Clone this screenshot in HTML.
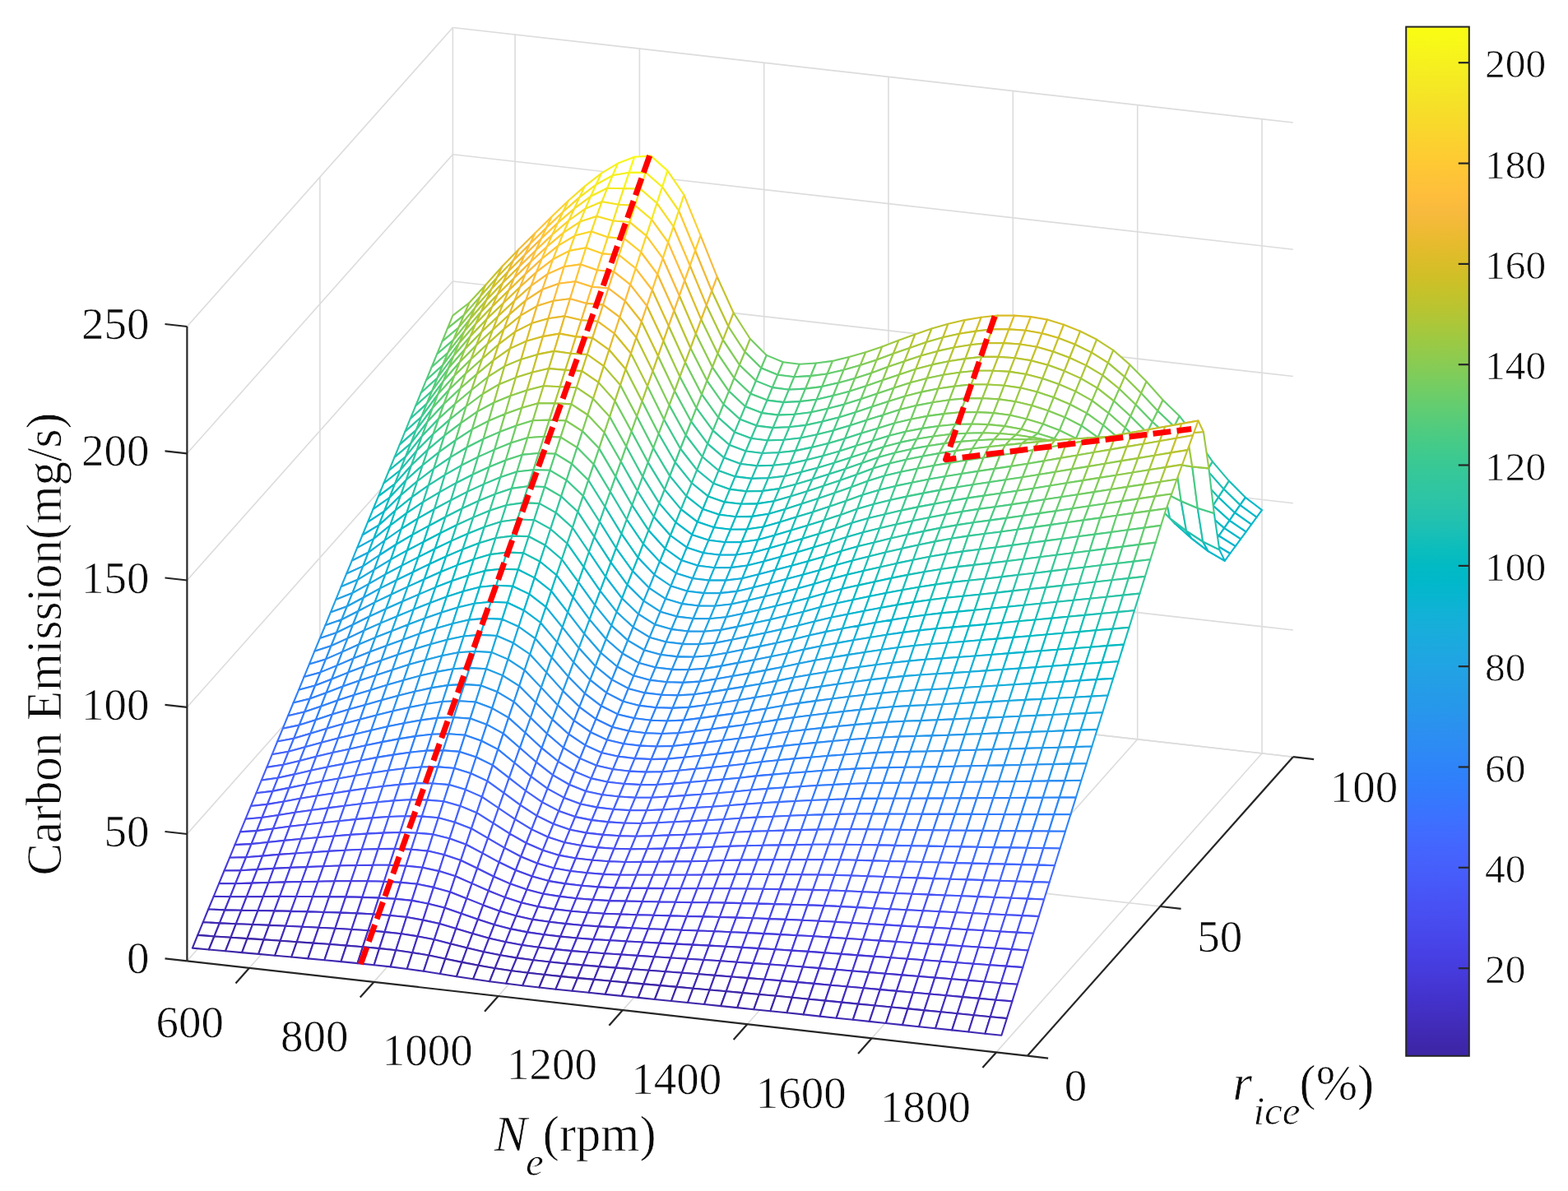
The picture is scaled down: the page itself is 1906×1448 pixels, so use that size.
<!DOCTYPE html>
<html><head><meta charset="utf-8"><title>Carbon Emission surface</title>
<style>
html,body{margin:0;padding:0;background:#fff}
svg{display:block}
.g{stroke:#dcdcdc;stroke-width:1.6;fill:none}
.a{stroke:#262626;stroke-width:2.2;fill:none}
#S path{fill:#fff;stroke-width:2.1;stroke-linejoin:round}
.c0{stroke:#3e26a8}
.c1{stroke:#402ab4}
.c2{stroke:#422ec0}
.c3{stroke:#4332cb}
.c4{stroke:#4537d5}
.c5{stroke:#463cde}
.c6{stroke:#4741e5}
.c7{stroke:#4747eb}
.c8{stroke:#484df0}
.c9{stroke:#4852f4}
.c10{stroke:#4758f8}
.c11{stroke:#465efb}
.c12{stroke:#4563fd}
.c13{stroke:#4269fe}
.c14{stroke:#3e6fff}
.c15{stroke:#3875fe}
.c16{stroke:#327cfc}
.c17{stroke:#2f81fa}
.c18{stroke:#2e87f7}
.c19{stroke:#2d8cf3}
.c20{stroke:#2b91ef}
.c21{stroke:#2797eb}
.c22{stroke:#259be8}
.c23{stroke:#23a0e5}
.c24{stroke:#20a5e3}
.c25{stroke:#1ca9df}
.c26{stroke:#18addb}
.c27{stroke:#12b1d6}
.c28{stroke:#08b5d0}
.c29{stroke:#01b8ca}
.c30{stroke:#02bac3}
.c31{stroke:#0bbdbd}
.c32{stroke:#19bfb6}
.c33{stroke:#24c1ae}
.c34{stroke:#2cc4a7}
.c35{stroke:#31c69f}
.c36{stroke:#37c897}
.c37{stroke:#3fca8e}
.c38{stroke:#4acb84}
.c39{stroke:#57cc7a}
.c40{stroke:#64cd6f}
.c41{stroke:#72cd64}
.c42{stroke:#81cc59}
.c43{stroke:#8fcb4e}
.c44{stroke:#9dc943}
.c45{stroke:#abc739}
.c46{stroke:#b9c431}
.c47{stroke:#c5c22a}
.c48{stroke:#d1bf27}
.c49{stroke:#dcbd29}
.c50{stroke:#e6bb2d}
.c51{stroke:#f0ba36}
.c52{stroke:#f8ba3d}
.c53{stroke:#febe3c}
.c54{stroke:#fec338}
.c55{stroke:#fec934}
.c56{stroke:#fccf30}
.c57{stroke:#fad62d}
.c58{stroke:#f7dc2a}
.c59{stroke:#f5e327}
.c60{stroke:#f5e924}
.c61{stroke:#f6ef20}
.c62{stroke:#f7f51b}
.c63{stroke:#f9fb15}
.tl{font-family:"Liberation Serif","Times New Roman",serif;font-size:55px;fill:#0a0a0a;stroke:#fff;stroke-width:0.7px}
.cl{font-family:"Liberation Serif","Times New Roman",serif;font-size:49.5px;fill:#0a0a0a;stroke:#fff;stroke-width:0.7px}
.lb{font-family:"Liberation Serif","Times New Roman",serif;font-size:60.5px;fill:#0a0a0a;stroke:#fff;stroke-width:0.7px}
.red{fill:none;stroke:#ff0000;stroke-width:7;stroke-dasharray:21.8 7.4;stroke-linejoin:round}
</style></head><body>
<svg xmlns="http://www.w3.org/2000/svg" width="1906" height="1448" viewBox="0 0 1906 1448">
<defs><linearGradient id="pg" x1="0" y1="0" x2="0" y2="1"><stop offset="0.0078" stop-color="#f9fb15"/><stop offset="0.0234" stop-color="#f7f51b"/><stop offset="0.0391" stop-color="#f6ef20"/><stop offset="0.0547" stop-color="#f5e924"/><stop offset="0.0703" stop-color="#f5e327"/><stop offset="0.0859" stop-color="#f7dc2a"/><stop offset="0.1016" stop-color="#fad62d"/><stop offset="0.1172" stop-color="#fccf30"/><stop offset="0.1328" stop-color="#fec934"/><stop offset="0.1484" stop-color="#fec338"/><stop offset="0.1641" stop-color="#febe3c"/><stop offset="0.1797" stop-color="#f8ba3d"/><stop offset="0.1953" stop-color="#f0ba36"/><stop offset="0.2109" stop-color="#e6bb2d"/><stop offset="0.2266" stop-color="#dcbd29"/><stop offset="0.2422" stop-color="#d1bf27"/><stop offset="0.2578" stop-color="#c5c22a"/><stop offset="0.2734" stop-color="#b9c431"/><stop offset="0.2891" stop-color="#abc739"/><stop offset="0.3047" stop-color="#9dc943"/><stop offset="0.3203" stop-color="#8fcb4e"/><stop offset="0.3359" stop-color="#81cc59"/><stop offset="0.3516" stop-color="#72cd64"/><stop offset="0.3672" stop-color="#64cd6f"/><stop offset="0.3828" stop-color="#57cc7a"/><stop offset="0.3984" stop-color="#4acb84"/><stop offset="0.4141" stop-color="#3fca8e"/><stop offset="0.4297" stop-color="#37c897"/><stop offset="0.4453" stop-color="#31c69f"/><stop offset="0.4609" stop-color="#2cc4a7"/><stop offset="0.4766" stop-color="#24c1ae"/><stop offset="0.4922" stop-color="#19bfb6"/><stop offset="0.5078" stop-color="#0bbdbd"/><stop offset="0.5234" stop-color="#02bac3"/><stop offset="0.5391" stop-color="#01b8ca"/><stop offset="0.5547" stop-color="#08b5d0"/><stop offset="0.5703" stop-color="#12b1d6"/><stop offset="0.5859" stop-color="#18addb"/><stop offset="0.6016" stop-color="#1ca9df"/><stop offset="0.6172" stop-color="#20a5e3"/><stop offset="0.6328" stop-color="#23a0e5"/><stop offset="0.6484" stop-color="#259be8"/><stop offset="0.6641" stop-color="#2797eb"/><stop offset="0.6797" stop-color="#2b91ef"/><stop offset="0.6953" stop-color="#2d8cf3"/><stop offset="0.7109" stop-color="#2e87f7"/><stop offset="0.7266" stop-color="#2f81fa"/><stop offset="0.7422" stop-color="#327cfc"/><stop offset="0.7578" stop-color="#3875fe"/><stop offset="0.7734" stop-color="#3e6fff"/><stop offset="0.7891" stop-color="#4269fe"/><stop offset="0.8047" stop-color="#4563fd"/><stop offset="0.8203" stop-color="#465efb"/><stop offset="0.8359" stop-color="#4758f8"/><stop offset="0.8516" stop-color="#4852f4"/><stop offset="0.8672" stop-color="#484df0"/><stop offset="0.8828" stop-color="#4747eb"/><stop offset="0.8984" stop-color="#4741e5"/><stop offset="0.9141" stop-color="#463cde"/><stop offset="0.9297" stop-color="#4537d5"/><stop offset="0.9453" stop-color="#4332cb"/><stop offset="0.9609" stop-color="#422ec0"/><stop offset="0.9766" stop-color="#402ab4"/><stop offset="0.9922" stop-color="#3e26a8"/></linearGradient></defs>
<rect width="1906" height="1448" fill="#fff"/>
<g id="G"><line class="g" x1="626.1" y1="813.3" x2="626.1" y2="42.1"/><line class="g" x1="303.1" y1="1176.8" x2="626.1" y2="813.3"/><line class="g" x1="777.4" y1="830.4" x2="777.4" y2="59.2"/><line class="g" x1="454.4" y1="1193.9" x2="777.4" y2="830.4"/><line class="g" x1="928.7" y1="847.5" x2="928.7" y2="76.3"/><line class="g" x1="605.7" y1="1211" x2="928.7" y2="847.5"/><line class="g" x1="1080" y1="864.6" x2="1080" y2="93.4"/><line class="g" x1="757" y1="1228.1" x2="1080" y2="864.6"/><line class="g" x1="1231.3" y1="881.7" x2="1231.3" y2="110.5"/><line class="g" x1="908.3" y1="1245.2" x2="1231.3" y2="881.7"/><line class="g" x1="1382.7" y1="898.8" x2="1382.7" y2="127.6"/><line class="g" x1="1059.7" y1="1262.3" x2="1382.7" y2="898.8"/><line class="g" x1="1534" y1="915.9" x2="1534" y2="144.7"/><line class="g" x1="1211" y1="1279.4" x2="1534" y2="915.9"/><line class="g" x1="550.4" y1="804.8" x2="1571.8" y2="920.2"/><line class="g" x1="227.4" y1="1168.3" x2="550.4" y2="804.8"/><line class="g" x1="550.4" y1="650.5" x2="1571.8" y2="766"/><line class="g" x1="227.4" y1="1014" x2="550.4" y2="650.5"/><line class="g" x1="550.4" y1="496.3" x2="1571.8" y2="611.7"/><line class="g" x1="227.4" y1="859.8" x2="550.4" y2="496.3"/><line class="g" x1="550.4" y1="342" x2="1571.8" y2="457.5"/><line class="g" x1="227.4" y1="705.5" x2="550.4" y2="342"/><line class="g" x1="550.4" y1="187.8" x2="1571.8" y2="303.2"/><line class="g" x1="227.4" y1="551.3" x2="550.4" y2="187.8"/><line class="g" x1="550.4" y1="33.5" x2="1571.8" y2="149"/><line class="g" x1="227.4" y1="397" x2="550.4" y2="33.5"/><line class="g" x1="388.9" y1="986.5" x2="388.9" y2="215.3"/><line class="g" x1="388.9" y1="986.5" x2="1410.3" y2="1102"/><line class="g" x1="550.4" y1="804.8" x2="550.4" y2="33.5"/><line class="g" x1="550.4" y1="804.8" x2="1571.8" y2="920.2"/></g>
<g id="S"><path class="c42" d="M543.9 399.4L564 383.1L570.5 368L550.4 383.7z"/><path class="c44" d="M564 383.1L584.1 360.1L590.5 346.2L570.5 368z"/><path class="c41" d="M537.5 415.1L557.6 398.2L564 383.1L543.9 399.4z"/><path class="c47" d="M584.1 360.1L604.2 337.4L610.6 323.8L590.5 346.2z"/><path class="c43" d="M557.6 398.2L577.6 374.1L584.1 360.1L564 383.1z"/><path class="c40" d="M531 430.8L551.1 413.4L557.6 398.2L537.5 415.1z"/><path class="c49" d="M604.2 337.4L624.2 316.4L630.7 302.9L610.6 323.8z"/><path class="c46" d="M577.6 374.1L597.7 351.1L604.2 337.4L584.1 360.1z"/><path class="c43" d="M551.1 413.4L571.2 388.2L577.6 374.1L557.6 398.2z"/><path class="c39" d="M524.6 446.5L544.6 428.7L551.1 413.4L531 430.8z"/><path class="c51" d="M624.2 316.4L644.3 296.5L650.8 283L630.7 302.9z"/><path class="c48" d="M597.7 351.1L617.8 330L624.2 316.4L604.2 337.4z"/><path class="c45" d="M571.2 388.2L591.2 365L597.7 351.1L577.6 374.1z"/><path class="c42" d="M544.6 428.7L564.7 402.6L571.2 388.2L551.1 413.4z"/><path class="c39" d="M518.1 462.2L538.2 444L544.6 428.7L524.6 446.5z"/><path class="c54" d="M644.3 296.5L664.4 276.7L670.8 263.2L650.8 283z"/><path class="c51" d="M617.8 330L637.8 310.1L644.3 296.5L624.2 316.4z"/><path class="c48" d="M591.2 365L611.3 343.8L617.8 330L597.7 351.1z"/><path class="c45" d="M564.7 402.6L584.8 379.2L591.2 365L571.2 388.2z"/><path class="c41" d="M538.2 444L558.2 417.2L564.7 402.6L544.6 428.7z"/><path class="c38" d="M511.6 477.8L531.7 459.5L538.2 444L518.1 462.2z"/><path class="c56" d="M664.4 276.7L684.5 257.5L690.9 244L670.8 263.2z"/><path class="c53" d="M637.8 310.1L657.9 290.3L664.4 276.7L644.3 296.5z"/><path class="c50" d="M611.3 343.8L631.4 324L637.8 310.1L617.8 330z"/><path class="c47" d="M584.8 379.2L604.9 358L611.3 343.8L591.2 365z"/><path class="c40" d="M531.7 459.5L551.8 432.2L558.2 417.2L538.2 444z"/><path class="c44" d="M558.2 417.2L578.3 393.7L584.8 379.2L564.7 402.6z"/><path class="c37" d="M505.2 493.5L525.3 475.2L531.7 459.5L511.6 477.8z"/><path class="c58" d="M684.5 257.5L704.5 239.9L711 226.4L690.9 244z"/><path class="c55" d="M657.9 290.3L678 271.1L684.5 257.5L664.4 276.7z"/><path class="c41" d="M905.3 427.8L925.3 447.5L931.8 431.9L911.7 411.8z"/><path class="c40" d="M925.3 447.5L945.4 455.7L951.9 440.2L931.8 431.9z"/><path class="c52" d="M631.4 324L651.5 304.3L657.9 290.3L637.8 310.1z"/><path class="c44" d="M885.2 396.7L905.3 427.8L911.7 411.8L891.6 380.2z"/><path class="c49" d="M604.9 358L624.9 338.3L631.4 324L611.3 343.8z"/><path class="c46" d="M578.3 393.7L598.4 372.7L604.9 358L584.8 379.2z"/><path class="c40" d="M945.4 455.7L965.5 458.2L971.9 442.7L951.9 440.2z"/><path class="c39" d="M525.3 475.2L545.3 447.5L551.8 432.2L531.7 459.5z"/><path class="c36" d="M498.7 509.2L518.8 490.9L525.3 475.2L505.2 493.5z"/><path class="c43" d="M551.8 432.2L571.9 408.7L578.3 393.7L558.2 417.2z"/><path class="c60" d="M704.5 239.9L724.6 224.5L731.1 210.7L711 226.4z"/><path class="c47" d="M865.1 353.7L885.2 396.7L891.6 380.2L871.6 336.3z"/><path class="c40" d="M965.5 458.2L985.5 457.1L992 441.5L971.9 442.7z"/><path class="c57" d="M678 271.1L698.1 253.7L704.5 239.9L684.5 257.5z"/><path class="c40" d="M898.8 443.7L918.9 463.1L925.3 447.5L905.3 427.8z"/><path class="c54" d="M651.5 304.3L671.5 285.2L678 271.1L657.9 290.3z"/><path class="c39" d="M918.9 463.1L938.9 471.1L945.4 455.7L925.3 447.5z"/><path class="c52" d="M624.9 338.3L645 318.6L651.5 304.3L631.4 324z"/><path class="c43" d="M878.7 413.2L898.8 443.7L905.3 427.8L885.2 396.7z"/><path class="c40" d="M985.5 457.1L1005.6 454.5L1012.1 438.9L992 441.5z"/><path class="c49" d="M598.4 372.7L618.5 353.1L624.9 338.3L604.9 358z"/><path class="c52" d="M845 304.5L865.1 353.7L871.6 336.3L851.5 286.2z"/><path class="c61" d="M724.6 224.5L744.7 213.3L751.1 198.6L731.1 210.7z"/><path class="c39" d="M938.9 471.1L959 473.7L965.5 458.2L945.4 455.7z"/><path class="c46" d="M571.9 408.7L591.9 387.8L598.4 372.7L578.3 393.7z"/><path class="c39" d="M518.8 490.9L538.9 463.3L545.3 447.5L525.3 475.2z"/><path class="c35" d="M492.3 524.9L512.3 506.8L518.8 490.9L498.7 509.2z"/><path class="c42" d="M545.3 447.5L565.4 424.2L571.9 408.7L551.8 432.2z"/><path class="c46" d="M858.6 371.1L878.7 413.2L885.2 396.7L865.1 353.7z"/><path class="c59" d="M698.1 253.7L718.1 238.8L724.6 224.5L704.5 239.9z"/><path class="c41" d="M1005.6 454.5L1025.7 449.7L1032.1 434L1012.1 438.9z"/><path class="c39" d="M959 473.7L979.1 472.6L985.5 457.1L965.5 458.2z"/><path class="c57" d="M671.5 285.2L691.6 268L698.1 253.7L678 271.1z"/><path class="c40" d="M892.3 459.7L912.4 478.7L918.9 463.1L898.8 443.7z"/><path class="c62" d="M744.7 213.3L764.7 209.9L771.2 190.8L751.1 198.6z"/><path class="c54" d="M645 318.6L665.1 299.7L671.5 285.2L651.5 304.3z"/><path class="c56" d="M825 256.2L845 304.5L851.5 286.2L831.4 236.9z"/><path class="c38" d="M912.4 478.7L932.5 486.6L938.9 471.1L918.9 463.1z"/><path class="c42" d="M872.3 429.8L892.3 459.7L898.8 443.7L878.7 413.2z"/><path class="c51" d="M618.5 353.1L638.5 333.6L645 318.6L624.9 338.3z"/><path class="c40" d="M979.1 472.6L999.2 470.1L1005.6 454.5L985.5 457.1z"/><path class="c51" d="M838.6 322.9L858.6 371.1L865.1 353.7L845 304.5z"/><path class="c48" d="M591.9 387.8L612 368.4L618.5 353.1L598.4 372.7z"/><path class="c42" d="M1025.7 449.7L1045.8 444.1L1052.2 428.3L1032.1 434z"/><path class="c38" d="M932.5 486.6L952.6 489.1L959 473.7L938.9 471.1z"/><path class="c61" d="M718.1 238.8L738.2 228.8L744.7 213.3L724.6 224.5z"/><path class="c45" d="M565.4 424.2L585.5 403.5L591.9 387.8L571.9 408.7z"/><path class="c38" d="M512.3 506.8L532.4 479.4L538.9 463.3L518.8 490.9z"/><path class="c34" d="M485.8 540.6L505.9 522.9L512.3 506.8L492.3 524.9z"/><path class="c41" d="M538.9 463.3L558.9 440.2L565.4 424.2L545.3 447.5z"/><path class="c63" d="M764.7 209.9L784.8 209.7L791.3 189.6L771.2 190.8z"/><path class="c45" d="M852.2 388.4L872.3 429.8L878.7 413.2L858.6 371.1z"/><path class="c60" d="M804.9 227.2L825 256.2L831.4 236.9L811.3 207.4z"/><path class="c58" d="M691.6 268L711.7 253.7L718.1 238.8L698.1 253.7z"/><path class="c62" d="M784.8 209.7L804.9 227.2L811.3 207.4L791.3 189.6z"/><path class="c40" d="M999.2 470.1L1019.2 465.4L1025.7 449.7L1005.6 454.5z"/><path class="c38" d="M952.6 489.1L972.6 488.1L979.1 472.6L959 473.7z"/><path class="c56" d="M665.1 299.7L685.1 282.9L691.6 268L671.5 285.2z"/><path class="c43" d="M1045.8 444.1L1065.8 437.4L1072.3 421.4L1052.2 428.3z"/><path class="c61" d="M738.2 228.8L758.3 229.2L764.7 209.9L744.7 213.3z"/><path class="c39" d="M885.9 475.6L905.9 494.3L912.4 478.7L892.3 459.7z"/><path class="c55" d="M818.5 275.5L838.6 322.9L845 304.5L825 256.2z"/><path class="c53" d="M638.5 333.6L658.6 314.8L665.1 299.7L645 318.6z"/><path class="c38" d="M905.9 494.3L926 502.1L932.5 486.6L912.4 478.7z"/><path class="c41" d="M865.8 446.3L885.9 475.6L892.3 459.7L872.3 429.8z"/><path class="c50" d="M612 368.4L632.1 349.1L638.5 333.6L618.5 353.1z"/><path class="c50" d="M832.1 341.2L852.2 388.4L858.6 371.1L838.6 322.9z"/><path class="c39" d="M972.6 488.1L992.7 485.7L999.2 470.1L979.1 472.6z"/><path class="c47" d="M585.5 403.5L605.5 384.4L612 368.4L591.9 387.8z"/><path class="c41" d="M1019.2 465.4L1039.3 459.9L1045.8 444.1L1025.7 449.7z"/><path class="c37" d="M505.9 522.9L525.9 496L532.4 479.4L512.3 506.8z"/><path class="c44" d="M558.9 440.2L579 419.8L585.5 403.5L565.4 424.2z"/><path class="c37" d="M926 502.1L946.1 504.6L952.6 489.1L932.5 486.6z"/><path class="c60" d="M711.7 253.7L731.7 245.3L738.2 228.8L718.1 238.8z"/><path class="c62" d="M758.3 229.2L778.4 229.8L784.8 209.7L764.7 209.9z"/><path class="c33" d="M479.3 556.3L499.4 539.1L505.9 522.9L485.8 540.6z"/><path class="c40" d="M532.4 479.4L552.5 456.7L558.9 440.2L538.9 463.3z"/><path class="c59" d="M798.4 247L818.5 275.5L825 256.2L804.9 227.2z"/><path class="c44" d="M1065.8 437.4L1085.9 430L1092.4 413.8L1072.3 421.4z"/><path class="c44" d="M845.7 405.8L865.8 446.3L872.3 429.8L852.2 388.4z"/><path class="c61" d="M778.4 229.8L798.4 247L804.9 227.2L784.8 209.7z"/><path class="c58" d="M685.1 282.9L705.2 269.6L711.7 253.7L691.6 268z"/><path class="c39" d="M992.7 485.7L1012.8 481.1L1019.2 465.4L999.2 470.1z"/><path class="c37" d="M946.1 504.6L966.2 503.7L972.6 488.1L952.6 489.1z"/><path class="c42" d="M1039.3 459.9L1059.4 453.4L1065.8 437.4L1045.8 444.1z"/><path class="c60" d="M731.7 245.3L751.8 248.7L758.3 229.2L738.2 228.8z"/><path class="c55" d="M658.6 314.8L678.7 298.6L685.1 282.9L665.1 299.7z"/><path class="c54" d="M812 294.7L832.1 341.2L838.6 322.9L818.5 275.5z"/><path class="c38" d="M879.4 491.5L899.5 509.8L905.9 494.3L885.9 475.6z"/><path class="c52" d="M632.1 349.1L652.2 330.7L658.6 314.8L638.5 333.6z"/><path class="c37" d="M899.5 509.8L919.6 517.6L926 502.1L905.9 494.3z"/><path class="c45" d="M1085.9 430L1106 422.9L1112.4 406.6L1092.4 413.8z"/><path class="c40" d="M859.3 462.8L879.4 491.5L885.9 475.6L865.8 446.3z"/><path class="c49" d="M825.7 359.5L845.7 405.8L852.2 388.4L832.1 341.2z"/><path class="c49" d="M605.5 384.4L625.6 365.4L632.1 349.1L612 368.4z"/><path class="c38" d="M966.2 503.7L986.2 501.3L992.7 485.7L972.6 488.1z"/><path class="c46" d="M579 419.8L599.1 401L605.5 384.4L585.5 403.5z"/><path class="c60" d="M751.8 248.7L771.9 249.9L778.4 229.8L758.3 229.2z"/><path class="c40" d="M1012.8 481.1L1032.8 475.7L1039.3 459.9L1019.2 465.4z"/><path class="c36" d="M499.4 539.1L519.5 512.9L525.9 496L505.9 522.9z"/><path class="c43" d="M552.5 456.7L572.6 436.7L579 419.8L558.9 440.2z"/><path class="c59" d="M705.2 269.6L725.3 262.9L731.7 245.3L711.7 253.7z"/><path class="c37" d="M919.6 517.6L939.6 520.1L946.1 504.6L926 502.1z"/><path class="c33" d="M472.9 572L493 555.4L499.4 539.1L479.3 556.3z"/><path class="c40" d="M525.9 496L546 473.8L552.5 456.7L532.4 479.4z"/><path class="c58" d="M792 266.8L812 294.7L818.5 275.5L798.4 247z"/><path class="c43" d="M1059.4 453.4L1079.4 446.1L1085.9 430L1065.8 437.4z"/><path class="c43" d="M839.3 423.2L859.3 462.8L865.8 446.3L845.7 405.8z"/><path class="c60" d="M771.9 249.9L792 266.8L798.4 247L778.4 229.8z"/><path class="c57" d="M678.7 298.6L698.8 286.6L705.2 269.6L685.1 282.9z"/><path class="c46" d="M1106 422.9L1126.1 415.9L1132.5 399.5L1112.4 406.6z"/><path class="c38" d="M986.2 501.3L1006.3 496.8L1012.8 481.1L992.7 485.7z"/><path class="c37" d="M939.6 520.1L959.7 519.2L966.2 503.7L946.1 504.6z"/><path class="c59" d="M725.3 262.9L745.4 268.5L751.8 248.7L731.7 245.3z"/><path class="c53" d="M805.6 314L825.7 359.5L832.1 341.2L812 294.7z"/><path class="c41" d="M1032.8 475.7L1052.9 469.3L1059.4 453.4L1039.3 459.9z"/><path class="c54" d="M652.2 330.7L672.2 315.3L678.7 298.6L658.6 314.8z"/><path class="c37" d="M873 507.5L893 525.4L899.5 509.8L879.4 491.5z"/><path class="c51" d="M625.6 365.4L645.7 347.5L652.2 330.7L632.1 349.1z"/><path class="c36" d="M893 525.4L913.1 533L919.6 517.6L899.5 509.8z"/><path class="c44" d="M1079.4 446.1L1099.5 439.2L1106 422.9L1085.9 430z"/><path class="c39" d="M852.9 479.4L873 507.5L879.4 491.5L859.3 462.8z"/><path class="c47" d="M819.2 377.8L839.3 423.2L845.7 405.8L825.7 359.5z"/><path class="c48" d="M599.1 401L619.2 382.4L625.6 365.4L605.5 384.4z"/><path class="c59" d="M745.4 268.5L765.4 270.1L771.9 249.9L751.8 248.7z"/><path class="c45" d="M572.6 436.7L592.6 418.3L599.1 401L579 419.8z"/><path class="c37" d="M959.7 519.2L979.8 516.9L986.2 501.3L966.2 503.7z"/><path class="c46" d="M1126.1 415.9L1146.1 410.3L1152.6 393.7L1132.5 399.5z"/><path class="c56" d="M785.5 286.6L805.6 314L812 294.7L792 266.8z"/><path class="c39" d="M1006.3 496.8L1026.4 491.6L1032.8 475.7L1012.8 481.1z"/><path class="c42" d="M546 473.8L566.1 454.2L572.6 436.7L552.5 456.7z"/><path class="c35" d="M493 555.4L513 530.2L519.5 512.9L499.4 539.1z"/><path class="c58" d="M698.8 286.6L718.8 281.6L725.3 262.9L705.2 269.6z"/><path class="c39" d="M519.5 512.9L539.6 491.3L546 473.8L525.9 496z"/><path class="c32" d="M466.4 587.7L486.5 571.8L493 555.4L472.9 572z"/><path class="c36" d="M913.1 533L933.2 535.5L939.6 520.1L919.6 517.6z"/><path class="c59" d="M765.4 270.1L785.5 286.6L792 266.8L771.9 249.9z"/><path class="c42" d="M1052.9 469.3L1073 462.3L1079.4 446.1L1059.4 453.4z"/><path class="c42" d="M832.8 440.5L852.9 479.4L859.3 462.8L839.3 423.2z"/><path class="c56" d="M672.2 315.3L692.3 304.9L698.8 286.6L678.7 298.6z"/><path class="c45" d="M1099.5 439.2L1119.6 432.4L1126.1 415.9L1106 422.9z"/><path class="c58" d="M718.8 281.6L738.9 288.4L745.4 268.5L725.3 262.9z"/><path class="c38" d="M979.8 516.9L999.8 512.5L1006.3 496.8L986.2 501.3z"/><path class="c52" d="M799.1 333.3L819.2 377.8L825.7 359.5L805.6 314z"/><path class="c36" d="M933.2 535.5L953.2 534.7L959.7 519.2L939.6 520.1z"/><path class="c47" d="M1146.1 410.3L1166.2 405.8L1172.7 389.1L1152.6 393.7z"/><path class="c53" d="M645.7 347.5L665.8 333.1L672.2 315.3L652.2 330.7z"/><path class="c40" d="M1026.4 491.6L1046.5 485.3L1052.9 469.3L1032.8 475.7z"/><path class="c36" d="M866.5 523.4L886.6 541L893 525.4L873 507.5z"/><path class="c50" d="M619.2 382.4L639.2 365.1L645.7 347.5L625.6 365.4z"/><path class="c46" d="M812.7 396.2L832.8 440.5L839.3 423.2L819.2 377.8z"/><path class="c43" d="M1073 462.3L1093.1 455.5L1099.5 439.2L1079.4 446.1z"/><path class="c38" d="M846.4 495.9L866.5 523.4L873 507.5L852.9 479.4z"/><path class="c35" d="M886.6 541L906.6 548.5L913.1 533L893 525.4z"/><path class="c58" d="M738.9 288.4L759 290.2L765.4 270.1L745.4 268.5z"/><path class="c47" d="M592.6 418.3L612.7 400.1L619.2 382.4L599.1 401z"/><path class="c55" d="M779 306.5L799.1 333.3L805.6 314L785.5 286.6z"/><path class="c44" d="M566.1 454.2L586.2 436.3L592.6 418.3L572.6 436.7z"/><path class="c45" d="M1119.6 432.4L1139.7 426.9L1146.1 410.3L1126.1 415.9z"/><path class="c36" d="M953.2 534.7L973.3 532.5L979.8 516.9L959.7 519.2z"/><path class="c57" d="M692.3 304.9L712.4 301.2L718.8 281.6L698.8 286.6z"/><path class="c41" d="M539.6 491.3L559.6 472.3L566.1 454.2L546 473.8z"/><path class="c34" d="M486.5 571.8L506.6 547.8L513 530.2L493 555.4z"/><path class="c57" d="M759 290.2L779 306.5L785.5 286.6L765.4 270.1z"/><path class="c38" d="M999.8 512.5L1019.9 507.4L1026.4 491.6L1006.3 496.8z"/><path class="c38" d="M513 530.2L533.1 509.3L539.6 491.3L519.5 512.9z"/><path class="c48" d="M1166.2 405.8L1186.3 402.6L1192.7 385.8L1172.7 389.1z"/><path class="c31" d="M460 603.4L480 588.4L486.5 571.8L466.4 587.7z"/><path class="c35" d="M906.6 548.5L926.7 551L933.2 535.5L913.1 533z"/><path class="c41" d="M826.3 457.9L846.4 495.9L852.9 479.4L832.8 440.5z"/><path class="c41" d="M1046.5 485.3L1066.5 478.4L1073 462.3L1052.9 469.3z"/><path class="c55" d="M665.8 333.1L685.8 324.3L692.3 304.9L672.2 315.3z"/><path class="c44" d="M1093.1 455.5L1113.1 448.8L1119.6 432.4L1099.5 439.2z"/><path class="c57" d="M712.4 301.2L732.4 308.4L738.9 288.4L718.8 281.6z"/><path class="c51" d="M792.7 352.5L812.7 396.2L819.2 377.8L799.1 333.3z"/><path class="c37" d="M973.3 532.5L993.4 528.2L999.8 512.5L979.8 516.9z"/><path class="c35" d="M926.7 551L946.8 550.3L953.2 534.7L933.2 535.5z"/><path class="c46" d="M1139.7 426.9L1159.7 422.5L1166.2 405.8L1146.1 410.3z"/><path class="c52" d="M639.2 365.1L659.3 352L665.8 333.1L645.7 347.5z"/><path class="c48" d="M1186.3 402.6L1206.3 400.3L1212.8 383.5L1192.7 385.8z"/><path class="c39" d="M1019.9 507.4L1040 501.3L1046.5 485.3L1026.4 491.6z"/><path class="c35" d="M860 539.4L880.1 556.6L886.6 541L866.5 523.4z"/><path class="c49" d="M612.7 400.1L632.8 383.7L639.2 365.1L619.2 382.4z"/><path class="c57" d="M732.4 308.4L752.5 310.3L759 290.2L738.9 288.4z"/><path class="c45" d="M806.3 414.5L826.3 457.9L832.8 440.5L812.7 396.2z"/><path class="c42" d="M1066.5 478.4L1086.6 471.8L1093.1 455.5L1073 462.3z"/><path class="c37" d="M840 512.4L860 539.4L866.5 523.4L846.4 495.9z"/><path class="c46" d="M586.2 436.3L606.2 418.7L612.7 400.1L592.6 418.3z"/><path class="c34" d="M880.1 556.6L900.2 564L906.6 548.5L886.6 541z"/><path class="c54" d="M772.6 326.3L792.7 352.5L799.1 333.3L779 306.5z"/><path class="c43" d="M559.6 472.3L579.7 454.9L586.2 436.3L566.1 454.2z"/><path class="c56" d="M685.8 324.3L705.9 321.4L712.4 301.2L692.3 304.9z"/><path class="c56" d="M752.5 310.3L772.6 326.3L779 306.5L759 290.2z"/><path class="c40" d="M533.1 509.3L553.2 491L559.6 472.3L539.6 491.3z"/><path class="c45" d="M1113.1 448.8L1133.2 443.4L1139.7 426.9L1119.6 432.4z"/><path class="c35" d="M946.8 550.3L966.9 548.1L973.3 532.5L953.2 534.7z"/><path class="c33" d="M480 588.4L500.1 565.7L506.6 547.8L486.5 571.8z"/><path class="c36" d="M506.6 547.8L526.6 527.8L533.1 509.3L513 530.2z"/><path class="c49" d="M1206.3 400.3L1226.4 400.4L1232.9 383.6L1212.8 383.5z"/><path class="c37" d="M993.4 528.2L1013.5 523.2L1019.9 507.4L999.8 512.5z"/><path class="c47" d="M1159.7 422.5L1179.8 419.3L1186.3 402.6L1166.2 405.8z"/><path class="c30" d="M453.5 619.1L473.6 605L480 588.4L460 603.4z"/><path class="c34" d="M900.2 564L920.3 566.4L926.7 551L906.6 548.5z"/><path class="c40" d="M819.9 475.3L840 512.4L846.4 495.9L826.3 457.9z"/><path class="c40" d="M1040 501.3L1060.1 494.6L1066.5 478.4L1046.5 485.3z"/><path class="c53" d="M659.3 352L679.4 344.7L685.8 324.3L665.8 333.1z"/><path class="c56" d="M705.9 321.4L726 328.5L732.4 308.4L712.4 301.2z"/><path class="c49" d="M786.2 371.8L806.3 414.5L812.7 396.2L792.7 352.5z"/><path class="c43" d="M1086.6 471.8L1106.7 465.3L1113.1 448.8L1093.1 455.5z"/><path class="c49" d="M1226.4 400.4L1246.5 401.8L1253 385.1L1232.9 383.6z"/><path class="c51" d="M632.8 383.7L652.8 372.1L659.3 352L639.2 365.1z"/><path class="c36" d="M966.9 548.1L986.9 543.9L993.4 528.2L973.3 532.5z"/><path class="c45" d="M1133.2 443.4L1153.3 439.2L1159.7 422.5L1139.7 426.9z"/><path class="c34" d="M920.3 566.4L940.3 565.8L946.8 550.3L926.7 551z"/><path class="c47" d="M1179.8 419.3L1199.9 417.1L1206.3 400.3L1186.3 402.6z"/><path class="c38" d="M1013.5 523.2L1033.5 517.3L1040 501.3L1019.9 507.4z"/><path class="c55" d="M726 328.5L746.1 330.4L752.5 310.3L732.4 308.4z"/><path class="c48" d="M606.2 418.7L626.3 403.4L632.8 383.7L612.7 400.1z"/><path class="c44" d="M799.8 432.8L819.9 475.3L826.3 457.9L806.3 414.5z"/><path class="c34" d="M853.6 555.3L873.6 572.2L880.1 556.6L860 539.4z"/><path class="c45" d="M579.7 454.9L599.8 438.1L606.2 418.7L586.2 436.3z"/><path class="c53" d="M766.1 346.1L786.2 371.8L792.7 352.5L772.6 326.3z"/><path class="c41" d="M1060.1 494.6L1080.1 488.1L1086.6 471.8L1066.5 478.4z"/><path class="c36" d="M833.5 529L853.6 555.3L860 539.4L840 512.4z"/><path class="c54" d="M679.4 344.7L699.4 342.2L705.9 321.4L685.8 324.3z"/><path class="c49" d="M1246.5 401.8L1266.6 405.2L1273 388.6L1253 385.1z"/><path class="c42" d="M553.2 491L573.2 474.2L579.7 454.9L559.6 472.3z"/><path class="c33" d="M873.6 572.2L893.7 579.4L900.2 564L880.1 556.6z"/><path class="c55" d="M746.1 330.4L766.1 346.1L772.6 326.3L752.5 310.3z"/><path class="c39" d="M526.6 527.8L546.7 510.1L553.2 491L533.1 509.3z"/><path class="c35" d="M500.1 565.7L520.2 546.6L526.6 527.8L506.6 547.8z"/><path class="c44" d="M1106.7 465.3L1126.7 460L1133.2 443.4L1113.1 448.8z"/><path class="c32" d="M473.6 605L493.6 583.8L500.1 565.7L480 588.4z"/><path class="c35" d="M940.3 565.8L960.4 563.6L966.9 548.1L946.8 550.3z"/><path class="c48" d="M1199.9 417.1L1220 417.1L1226.4 400.4L1206.3 400.3z"/><path class="c46" d="M1153.3 439.2L1173.4 436.1L1179.8 419.3L1159.7 422.5z"/><path class="c37" d="M986.9 543.9L1007 539L1013.5 523.2L993.4 528.2z"/><path class="c31" d="M1487.4 594.6L1507.4 614.1L1513.9 604.8L1493.8 584.6z"/><path class="c29" d="M1507.4 614.1L1527.5 628.9L1534 620.1L1513.9 604.8z"/><path class="c29" d="M447 634.8L467.1 621.7L473.6 605L453.5 619.1z"/><path class="c39" d="M813.4 492.6L833.5 529L840 512.4L819.9 475.3z"/><path class="c48" d="M1266.6 405.2L1286.6 411.1L1293.1 394.7L1273 388.6z"/><path class="c33" d="M1467.3 571.9L1487.4 594.6L1493.8 584.6L1473.8 561.1z"/><path class="c33" d="M893.7 579.4L913.8 581.9L920.3 566.4L900.2 564z"/><path class="c52" d="M652.8 372.1L672.9 365.8L679.4 344.7L659.3 352z"/><path class="c39" d="M1033.5 517.3L1053.6 510.7L1060.1 494.6L1040 501.3z"/><path class="c54" d="M699.4 342.2L719.5 348.7L726 328.5L705.9 321.4z"/><path class="c48" d="M779.7 391L799.8 432.8L806.3 414.5L786.2 371.8z"/><path class="c35" d="M1447.2 543.5L1467.3 571.9L1473.8 561.1L1453.7 531.7z"/><path class="c42" d="M1080.1 488.1L1100.2 481.7L1106.7 465.3L1086.6 471.8z"/><path class="c48" d="M1286.6 411.1L1306.7 418.8L1313.2 402.7L1293.1 394.7z"/><path class="c50" d="M626.3 403.4L646.4 393.1L652.8 372.1L632.8 383.7z"/><path class="c48" d="M1220 417.1L1240 418.5L1246.5 401.8L1226.4 400.4z"/><path class="c44" d="M1126.7 460L1146.8 455.8L1153.3 439.2L1133.2 443.4z"/><path class="c35" d="M960.4 563.6L980.5 559.2L986.9 543.9L966.9 548.1z"/><path class="c54" d="M719.5 348.7L739.6 350.5L746.1 330.4L726 328.5z"/><path class="c46" d="M1173.4 436.1L1193.4 433.9L1199.9 417.1L1179.8 419.3z"/><path class="c33" d="M913.8 581.9L933.9 581.3L940.3 565.8L920.3 566.4z"/><path class="c47" d="M599.8 438.1L619.9 423.9L626.3 403.4L606.2 418.7z"/><path class="c38" d="M1427.1 518.4L1447.2 543.5L1453.7 531.7L1433.6 505.7z"/><path class="c37" d="M1007 539L1027.1 533.2L1033.5 517.3L1013.5 523.2z"/><path class="c47" d="M1306.7 418.8L1326.8 428.6L1333.2 412.8L1313.2 402.7z"/><path class="c43" d="M793.4 451.1L813.4 492.6L819.9 475.3L799.8 432.8z"/><path class="c44" d="M573.2 474.2L593.3 458.2L599.8 438.1L579.7 454.9z"/><path class="c40" d="M1407.1 499.5L1427.1 518.4L1433.6 505.7L1413.5 486.2z"/><path class="c52" d="M759.7 365.9L779.7 391L786.2 371.8L766.1 346.1z"/><path class="c53" d="M672.9 365.8L693 363.2L699.4 342.2L679.4 344.7z"/><path class="c34" d="M847.1 571.3L867.2 587.8L873.6 572.2L853.6 555.3z"/><path class="c42" d="M1387 477.9L1407.1 499.5L1413.5 486.2L1393.5 463.8z"/><path class="c53" d="M739.6 350.5L759.7 365.9L766.1 346.1L746.1 330.4z"/><path class="c41" d="M546.7 510.1L566.8 494L573.2 474.2L553.2 491z"/><path class="c46" d="M1326.8 428.6L1346.9 441.1L1353.3 425.8L1333.2 412.8z"/><path class="c40" d="M1053.6 510.7L1073.7 504.4L1080.1 488.1L1060.1 494.6z"/><path class="c36" d="M827 545.5L847.1 571.3L853.6 555.3L833.5 529z"/><path class="c48" d="M1240 418.5L1260.1 421.8L1266.6 405.2L1246.5 401.8z"/><path class="c43" d="M1366.9 458.1L1387 477.9L1393.5 463.8L1373.4 443.4z"/><path class="c37" d="M520.2 546.6L540.3 529.7L546.7 510.1L526.6 527.8z"/><path class="c45" d="M1346.9 441.1L1366.9 458.1L1373.4 443.4L1353.3 425.8z"/><path class="c33" d="M867.2 587.8L887.3 594.9L893.7 579.4L873.6 572.2z"/><path class="c34" d="M493.6 583.8L513.7 565.7L520.2 546.6L500.1 565.7z"/><path class="c31" d="M467.1 621.7L487.2 602.1L493.6 583.8L473.6 605z"/><path class="c43" d="M1100.2 481.7L1120.3 476.6L1126.7 460L1106.7 465.3z"/><path class="c47" d="M1193.4 433.9L1213.5 433.9L1220 417.1L1199.9 417.1z"/><path class="c34" d="M933.9 581.3L953.9 578.9L960.4 563.6L940.3 565.8z"/><path class="c45" d="M1146.8 455.8L1166.9 452.8L1173.4 436.1L1153.3 439.2z"/><path class="c51" d="M646.4 393.1L666.5 387.3L672.9 365.8L652.8 372.1z"/><path class="c36" d="M980.5 559.2L1000.5 554.2L1007 539L986.9 543.9z"/><path class="c53" d="M693 363.2L713.1 368.9L719.5 348.7L699.4 342.2z"/><path class="c28" d="M440.6 650.5L460.7 638.4L467.1 621.7L447 634.8z"/><path class="c38" d="M807 510L827 545.5L833.5 529L813.4 492.6z"/><path class="c48" d="M1260.1 421.8L1280.2 427.4L1286.6 411.1L1266.6 405.2z"/><path class="c32" d="M887.3 594.9L907.3 597.4L913.8 581.9L893.7 579.4z"/><path class="c38" d="M1027.1 533.2L1047.1 526.8L1053.6 510.7L1033.5 517.3z"/><path class="c31" d="M1480.9 604.6L1501 623.4L1507.4 614.1L1487.4 594.6z"/><path class="c47" d="M773.3 410.3L793.4 451.1L799.8 432.8L779.7 391z"/><path class="c29" d="M1501 623.4L1521.1 637.7L1527.5 628.9L1507.4 614.1z"/><path class="c32" d="M1460.8 582.7L1480.9 604.6L1487.4 594.6L1467.3 571.9z"/><path class="c48" d="M619.9 423.9L639.9 414.8L646.4 393.1L626.3 403.4z"/><path class="c41" d="M1073.7 504.4L1093.8 498.1L1100.2 481.7L1080.1 488.1z"/><path class="c47" d="M1280.2 427.4L1300.2 435L1306.7 418.8L1286.6 411.1z"/><path class="c47" d="M1213.5 433.9L1233.6 435.2L1240 418.5L1220 417.1z"/><path class="c53" d="M713.1 368.9L733.1 370.6L739.6 350.5L719.5 348.7z"/><path class="c35" d="M1440.8 555.3L1460.8 582.7L1467.3 571.9L1447.2 543.5z"/><path class="c46" d="M593.3 458.2L613.4 445.3L619.9 423.9L599.8 438.1z"/><path class="c43" d="M1120.3 476.6L1140.4 472.5L1146.8 455.8L1126.7 460z"/><path class="c45" d="M1166.9 452.8L1187 450.7L1193.4 433.9L1173.4 436.1z"/><path class="c34" d="M953.9 578.9L974 574.1L980.5 559.2L960.4 563.6z"/><path class="c42" d="M566.8 494L586.9 479L593.3 458.2L573.2 474.2z"/><path class="c32" d="M907.3 597.4L927.4 596.9L933.9 581.3L913.8 581.9z"/><path class="c51" d="M666.5 387.3L686.5 384.4L693 363.2L672.9 365.8z"/><path class="c50" d="M753.2 385.7L773.3 410.3L779.7 391L759.7 365.9z"/><path class="c42" d="M786.9 469.4L807 510L813.4 492.6L793.4 451.1z"/><path class="c46" d="M1300.2 435L1320.3 444.4L1326.8 428.6L1306.7 418.8z"/><path class="c37" d="M1000.5 554.2L1020.6 548.5L1027.1 533.2L1007 539z"/><path class="c52" d="M733.1 370.6L753.2 385.7L759.7 365.9L739.6 350.5z"/><path class="c37" d="M1420.7 531L1440.8 555.3L1447.2 543.5L1427.1 518.4z"/><path class="c39" d="M540.3 529.7L560.3 514.4L566.8 494L546.7 510.1z"/><path class="c33" d="M840.7 587.2L860.7 603.4L867.2 587.8L847.1 571.3z"/><path class="c36" d="M513.7 565.7L533.8 549.6L540.3 529.7L520.2 546.6z"/><path class="c39" d="M1400.6 512.8L1420.7 531L1427.1 518.4L1407.1 499.5z"/><path class="c39" d="M1047.1 526.8L1067.2 520.7L1073.7 504.4L1053.6 510.7z"/><path class="c46" d="M1320.3 444.4L1340.4 456.4L1346.9 441.1L1326.8 428.6z"/><path class="c35" d="M820.6 562L840.7 587.2L847.1 571.3L827 545.5z"/><path class="c47" d="M1233.6 435.2L1253.6 438.4L1260.1 421.8L1240 418.5z"/><path class="c41" d="M1380.5 491.9L1400.6 512.8L1407.1 499.5L1387 477.9z"/><path class="c33" d="M487.2 602.1L507.3 585L513.7 565.7L493.6 583.8z"/><path class="c43" d="M1360.5 472.8L1380.5 491.9L1387 477.9L1366.9 458.1z"/><path class="c32" d="M860.7 603.4L880.8 610.4L887.3 594.9L867.2 587.8z"/><path class="c44" d="M1340.4 456.4L1360.5 472.8L1366.9 458.1L1346.9 441.1z"/><path class="c30" d="M460.7 638.4L480.7 620.5L487.2 602.1L467.1 621.7z"/><path class="c49" d="M639.9 414.8L660 409.1L666.5 387.3L646.4 393.1z"/><path class="c42" d="M1093.8 498.1L1113.8 493.1L1120.3 476.6L1100.2 481.7z"/><path class="c52" d="M686.5 384.4L706.6 389.2L713.1 368.9L693 363.2z"/><path class="c46" d="M1187 450.7L1207 450.7L1213.5 433.9L1193.4 433.9z"/><path class="c44" d="M1140.4 472.5L1160.4 469.6L1166.9 452.8L1146.8 455.8z"/><path class="c33" d="M927.4 596.9L947.5 594.1L953.9 578.9L933.9 581.3z"/><path class="c27" d="M434.1 666.2L454.2 655.1L460.7 638.4L440.6 650.5z"/><path class="c37" d="M800.5 527.3L820.6 562L827 545.5L807 510z"/><path class="c35" d="M974 574.1L994.1 568.7L1000.5 554.2L980.5 559.2z"/><path class="c47" d="M1253.6 438.4L1273.7 443.8L1280.2 427.4L1260.1 421.8z"/><path class="c47" d="M613.4 445.3L633.5 436.9L639.9 414.8L619.9 423.9z"/><path class="c46" d="M766.8 429.6L786.9 469.4L793.4 451.1L773.3 410.3z"/><path class="c32" d="M880.8 610.4L900.9 612.8L907.3 597.4L887.3 594.9z"/><path class="c37" d="M1020.6 548.5L1040.7 542.1L1047.1 526.8L1027.1 533.2z"/><path class="c51" d="M706.6 389.2L726.7 390.8L733.1 370.6L713.1 368.9z"/><path class="c44" d="M586.9 479L606.9 467.2L613.4 445.3L593.3 458.2z"/><path class="c30" d="M1474.4 614.6L1494.5 632.8L1501 623.4L1480.9 604.6z"/><path class="c40" d="M1067.2 520.7L1087.3 514.6L1093.8 498.1L1073.7 504.4z"/><path class="c46" d="M1273.7 443.8L1293.8 451.1L1300.2 435L1280.2 427.4z"/><path class="c46" d="M1207 450.7L1227.1 451.9L1233.6 435.2L1213.5 433.9z"/><path class="c29" d="M1494.5 632.8L1514.6 646.6L1521.1 637.7L1501 623.4z"/><path class="c32" d="M1454.4 593.5L1474.4 614.6L1480.9 604.6L1460.8 582.7z"/><path class="c50" d="M660 409.1L680.1 405.6L686.5 384.4L666.5 387.3z"/><path class="c41" d="M560.3 514.4L580.4 500.4L586.9 479L566.8 494z"/><path class="c42" d="M1113.8 493.1L1133.9 489.2L1140.4 472.5L1120.3 476.6z"/><path class="c44" d="M1160.4 469.6L1180.5 467.5L1187 450.7L1166.9 452.8z"/><path class="c49" d="M746.7 405.5L766.8 429.6L773.3 410.3L753.2 385.7z"/><path class="c51" d="M726.7 390.8L746.7 405.5L753.2 385.7L733.1 370.6z"/><path class="c38" d="M533.8 549.6L553.9 535.1L560.3 514.4L540.3 529.7z"/><path class="c41" d="M780.4 487.8L800.5 527.3L807 510L786.9 469.4z"/><path class="c34" d="M947.5 594.1L967.5 588.7L974 574.1L953.9 578.9z"/><path class="c34" d="M1434.3 567.1L1454.4 593.5L1460.8 582.7L1440.8 555.3z"/><path class="c32" d="M900.9 612.8L920.9 612.4L927.4 596.9L907.3 597.4z"/><path class="c46" d="M1293.8 451.1L1313.9 460.1L1320.3 444.4L1300.2 435z"/><path class="c36" d="M994.1 568.7L1014.2 562.7L1020.6 548.5L1000.5 554.2z"/><path class="c35" d="M507.3 585L527.3 569.8L533.8 549.6L513.7 565.7z"/><path class="c32" d="M834.2 603.2L854.3 619L860.7 603.4L840.7 587.2z"/><path class="c37" d="M1414.2 543.7L1434.3 567.1L1440.8 555.3L1420.7 531z"/><path class="c32" d="M480.7 620.5L500.8 604.4L507.3 585L487.2 602.1z"/><path class="c48" d="M633.5 436.9L653.5 430.9L660 409.1L639.9 414.8z"/><path class="c46" d="M1227.1 451.9L1247.2 455L1253.6 438.4L1233.6 435.2z"/><path class="c34" d="M814.1 578.6L834.2 603.2L840.7 587.2L820.6 562z"/><path class="c38" d="M1040.7 542.1L1060.8 536L1067.2 520.7L1047.1 526.8z"/><path class="c45" d="M1313.9 460.1L1333.9 471.8L1340.4 456.4L1320.3 444.4z"/><path class="c39" d="M1394.2 526.1L1414.2 543.7L1420.7 531L1400.6 512.8z"/><path class="c40" d="M1374.1 506L1394.2 526.1L1400.6 512.8L1380.5 491.9z"/><path class="c50" d="M680.1 405.6L700.1 409.4L706.6 389.2L686.5 384.4z"/><path class="c29" d="M454.2 655.1L474.3 638.8L480.7 620.5L460.7 638.4z"/><path class="c31" d="M854.3 619L874.3 625.8L880.8 610.4L860.7 603.4z"/><path class="c44" d="M1333.9 471.8L1354 487.6L1360.5 472.8L1340.4 456.4z"/><path class="c42" d="M1354 487.6L1374.1 506L1380.5 491.9L1360.5 472.8z"/><path class="c41" d="M1087.3 514.6L1107.4 509.7L1113.8 493.1L1093.8 498.1z"/><path class="c45" d="M1180.5 467.5L1200.6 467.5L1207 450.7L1187 450.7z"/><path class="c43" d="M1133.9 489.2L1154 486.3L1160.4 469.6L1140.4 472.5z"/><path class="c45" d="M606.9 467.2L627 459.1L633.5 436.9L613.4 445.3z"/><path class="c32" d="M920.9 612.4L941 609.3L947.5 594.1L927.4 596.9z"/><path class="c36" d="M794 544.7L814.1 578.6L820.6 562L800.5 527.3z"/><path class="c26" d="M427.7 681.8L447.7 671.8L454.2 655.1L434.1 666.2z"/><path class="c45" d="M760.4 448.8L780.4 487.8L786.9 469.4L766.8 429.6z"/><path class="c46" d="M1247.2 455L1267.3 460.2L1273.7 443.8L1253.6 438.4z"/><path class="c34" d="M967.5 588.7L987.6 582.8L994.1 568.7L974 574.1z"/><path class="c31" d="M874.3 625.8L894.4 628.3L900.9 612.8L880.8 610.4z"/><path class="c43" d="M580.4 500.4L600.5 489.5L606.9 467.2L586.9 479z"/><path class="c50" d="M700.1 409.4L720.2 410.9L726.7 390.8L706.6 389.2z"/><path class="c37" d="M1014.2 562.7L1034.2 556.2L1040.7 542.1L1020.6 548.5z"/><path class="c49" d="M653.5 430.9L673.6 426.9L680.1 405.6L660 409.1z"/><path class="c40" d="M553.9 535.1L573.9 522.1L580.4 500.4L560.3 514.4z"/><path class="c39" d="M1060.8 536L1080.8 529.8L1087.3 514.6L1067.2 520.7z"/><path class="c45" d="M1200.6 467.5L1220.7 468.7L1227.1 451.9L1207 450.7z"/><path class="c45" d="M1267.3 460.2L1287.3 467.2L1293.8 451.1L1273.7 443.8z"/><path class="c48" d="M740.3 425.3L760.4 448.8L766.8 429.6L746.7 405.5z"/><path class="c37" d="M527.3 569.8L547.4 556.1L553.9 535.1L533.8 549.6z"/><path class="c50" d="M720.2 410.9L740.3 425.3L746.7 405.5L726.7 390.8z"/><path class="c41" d="M1107.4 509.7L1127.4 505.9L1133.9 489.2L1113.8 493.1z"/><path class="c43" d="M1154 486.3L1174 484.4L1180.5 467.5L1160.4 469.6z"/><path class="c30" d="M1468 624.7L1488.1 642.1L1494.5 632.8L1474.4 614.6z"/><path class="c40" d="M774 506.1L794 544.7L800.5 527.3L780.4 487.8z"/><path class="c32" d="M1447.9 604.3L1468 624.7L1474.4 614.6L1454.4 593.5z"/><path class="c29" d="M1488.1 642.1L1508.1 655.4L1514.6 646.6L1494.5 632.8z"/><path class="c34" d="M500.8 604.4L520.9 590.1L527.3 569.8L507.3 585z"/><path class="c33" d="M941 609.3L961.1 603.6L967.5 588.7L947.5 594.1z"/><path class="c31" d="M894.4 628.3L914.5 627.9L920.9 612.4L900.9 612.8z"/><path class="c45" d="M1287.3 467.2L1307.4 475.9L1313.9 460.1L1293.8 451.1z"/><path class="c46" d="M627 459.1L647.1 452.7L653.5 430.9L633.5 436.9z"/><path class="c34" d="M1427.8 578.8L1447.9 604.3L1454.4 593.5L1434.3 567.1z"/><path class="c31" d="M474.3 638.8L494.3 623.8L500.8 604.4L480.7 620.5z"/><path class="c35" d="M987.6 582.8L1007.7 576.6L1014.2 562.7L994.1 568.7z"/><path class="c31" d="M827.7 619.1L847.8 634.6L854.3 619L834.2 603.2z"/><path class="c49" d="M673.6 426.9L693.7 429.7L700.1 409.4L680.1 405.6z"/><path class="c45" d="M1220.7 468.7L1240.7 471.6L1247.2 455L1227.1 451.9z"/><path class="c33" d="M807.7 595.1L827.7 619.1L834.2 603.2L814.1 578.6z"/><path class="c44" d="M1307.4 475.9L1327.5 487.1L1333.9 471.8L1313.9 460.1z"/><path class="c38" d="M1034.2 556.2L1054.3 549.8L1060.8 536L1040.7 542.1z"/><path class="c28" d="M447.7 671.8L467.8 657L474.3 638.8L454.2 655.1z"/><path class="c36" d="M1407.8 556.3L1427.8 578.8L1434.3 567.1L1414.2 543.7z"/><path class="c44" d="M600.5 489.5L620.5 481.3L627 459.1L606.9 467.2z"/><path class="c30" d="M847.8 634.6L867.9 641.3L874.3 625.8L854.3 619z"/><path class="c38" d="M1387.7 539.4L1407.8 556.3L1414.2 543.7L1394.2 526.1z"/><path class="c40" d="M1367.6 520L1387.7 539.4L1394.2 526.1L1374.1 506z"/><path class="c43" d="M1327.5 487.1L1347.5 502.3L1354 487.6L1333.9 471.8z"/><path class="c40" d="M1080.8 529.8L1100.9 524.8L1107.4 509.7L1087.3 514.6z"/><path class="c41" d="M1347.5 502.3L1367.6 520L1374.1 506L1354 487.6z"/><path class="c44" d="M1174 484.4L1194.1 484.3L1200.6 467.5L1180.5 467.5z"/><path class="c42" d="M1127.4 505.9L1147.5 503.1L1154 486.3L1133.9 489.2z"/><path class="c44" d="M753.9 468.1L774 506.1L780.4 487.8L760.4 448.8z"/><path class="c36" d="M787.6 562.1L807.7 595.1L814.1 578.6L794 544.7z"/><path class="c41" d="M573.9 522.1L594 511.7L600.5 489.5L580.4 500.4z"/><path class="c31" d="M914.5 627.9L934.6 624.8L941 609.3L920.9 612.4z"/><path class="c25" d="M421.2 697.5L441.3 688.4L447.7 671.8L427.7 681.8z"/><path class="c45" d="M1240.7 471.6L1260.8 476.6L1267.3 460.2L1247.2 455z"/><path class="c49" d="M693.7 429.7L713.8 431L720.2 410.9L700.1 409.4z"/><path class="c34" d="M961.1 603.6L981.2 597.2L987.6 582.8L967.5 588.7z"/><path class="c47" d="M647.1 452.7L667.1 448.1L673.6 426.9L653.5 430.9z"/><path class="c30" d="M867.9 641.3L888 643.8L894.4 628.3L874.3 625.8z"/><path class="c38" d="M547.4 556.1L567.5 544L573.9 522.1L553.9 535.1z"/><path class="c36" d="M1007.7 576.6L1027.8 569.9L1034.2 556.2L1014.2 562.7z"/><path class="c35" d="M520.9 590.1L540.9 577.3L547.4 556.1L527.3 569.8z"/><path class="c47" d="M733.8 445.1L753.9 468.1L760.4 448.8L740.3 425.3z"/><path class="c44" d="M1194.1 484.3L1214.2 485.4L1220.7 468.7L1200.6 467.5z"/><path class="c48" d="M713.8 431L733.8 445.1L740.3 425.3L720.2 410.9z"/><path class="c44" d="M1260.8 476.6L1280.9 483.3L1287.3 467.2L1267.3 460.2z"/><path class="c38" d="M1054.3 549.8L1074.4 543.2L1080.8 529.8L1060.8 536z"/><path class="c42" d="M1147.5 503.1L1167.6 501.2L1174 484.4L1154 486.3z"/><path class="c41" d="M1100.9 524.8L1121 520.9L1127.4 505.9L1107.4 509.7z"/><path class="c39" d="M767.5 524.4L787.6 562.1L794 544.7L774 506.1z"/><path class="c32" d="M494.3 623.8L514.4 610.3L520.9 590.1L500.8 604.4z"/><path class="c45" d="M620.5 481.3L640.6 474.4L647.1 452.7L627 459.1z"/><path class="c30" d="M888 643.8L908 643.5L914.5 627.9L894.4 628.3z"/><path class="c32" d="M934.6 624.8L954.6 618.9L961.1 603.6L941 609.3z"/><path class="c30" d="M467.8 657L487.9 643L494.3 623.8L474.3 638.8z"/><path class="c44" d="M1280.9 483.3L1300.9 491.7L1307.4 475.9L1287.3 467.2z"/><path class="c47" d="M667.1 448.1L687.2 449.9L693.7 429.7L673.6 426.9z"/><path class="c30" d="M1461.5 634.7L1481.6 651.5L1488.1 642.1L1468 624.7z"/><path class="c31" d="M1441.5 615.1L1461.5 634.7L1468 624.7L1447.9 604.3z"/><path class="c42" d="M594 511.7L614.1 503.3L620.5 481.3L600.5 489.5z"/><path class="c30" d="M821.3 635.1L841.3 650.2L847.8 634.6L827.7 619.1z"/><path class="c29" d="M1481.6 651.5L1501.7 664.2L1508.1 655.4L1488.1 642.1z"/><path class="c44" d="M1214.2 485.4L1234.3 488.2L1240.7 471.6L1220.7 468.7z"/><path class="c34" d="M981.2 597.2L1001.2 590.8L1007.7 576.6L987.6 582.8z"/><path class="c32" d="M801.2 611.6L821.3 635.1L827.7 619.1L807.7 595.1z"/><path class="c34" d="M1421.4 590.6L1441.5 615.1L1447.9 604.3L1427.8 578.8z"/><path class="c27" d="M441.3 688.4L461.3 675L467.8 657L447.7 671.8z"/><path class="c43" d="M1300.9 491.7L1321 502.4L1327.5 487.1L1307.4 475.9z"/><path class="c37" d="M1027.8 569.9L1047.8 563.1L1054.3 549.8L1034.2 556.2z"/><path class="c29" d="M841.3 650.2L861.4 656.8L867.9 641.3L847.8 634.6z"/><path class="c40" d="M567.5 544L587.6 533.8L594 511.7L573.9 522.1z"/><path class="c43" d="M1167.6 501.2L1187.7 501.1L1194.1 484.3L1174 484.4z"/><path class="c36" d="M1401.3 568.9L1421.4 590.6L1427.8 578.8L1407.8 556.3z"/><path class="c42" d="M1321 502.4L1341.1 517L1347.5 502.3L1327.5 487.1z"/><path class="c42" d="M747.4 487.4L767.5 524.4L774 506.1L753.9 468.1z"/><path class="c39" d="M1361.2 534.1L1381.2 552.7L1387.7 539.4L1367.6 520z"/><path class="c37" d="M1381.2 552.7L1401.3 568.9L1407.8 556.3L1387.7 539.4z"/><path class="c39" d="M1074.4 543.2L1094.4 537.9L1100.9 524.8L1080.8 529.8z"/><path class="c41" d="M1341.1 517L1361.2 534.1L1367.6 520L1347.5 502.3z"/><path class="c41" d="M1121 520.9L1141.1 518L1147.5 503.1L1127.4 505.9z"/><path class="c35" d="M781.1 579.4L801.2 611.6L807.7 595.1L787.6 562.1z"/><path class="c47" d="M687.2 449.9L707.3 451.1L713.8 431L693.7 429.7z"/><path class="c46" d="M640.6 474.4L660.7 469.3L667.1 448.1L647.1 452.7z"/><path class="c37" d="M540.9 577.3L561 565.8L567.5 544L547.4 556.1z"/><path class="c24" d="M414.7 713.2L434.8 704.8L441.3 688.4L421.2 697.5z"/><path class="c44" d="M1234.3 488.2L1254.3 493L1260.8 476.6L1240.7 471.6z"/><path class="c30" d="M908 643.5L928.1 640.5L934.6 624.8L914.5 627.9z"/><path class="c33" d="M954.6 618.9L974.7 612.4L981.2 597.2L961.1 603.6z"/><path class="c29" d="M861.4 656.8L881.5 659.2L888 643.8L867.9 641.3z"/><path class="c34" d="M514.4 610.3L534.5 598.3L540.9 577.3L520.9 590.1z"/><path class="c45" d="M727.4 464.9L747.4 487.4L753.9 468.1L733.8 445.1z"/><path class="c47" d="M707.3 451.1L727.4 464.9L733.8 445.1L713.8 431z"/><path class="c35" d="M1001.2 590.8L1021.3 584L1027.8 569.9L1007.7 576.6z"/><path class="c43" d="M614.1 503.3L634.2 496L640.6 474.4L620.5 481.3z"/><path class="c43" d="M1187.7 501.1L1207.7 502.1L1214.2 485.4L1194.1 484.3z"/><path class="c43" d="M1254.3 493L1274.4 499.4L1280.9 483.3L1260.8 476.6z"/><path class="c31" d="M487.9 643L508 630.4L514.4 610.3L494.3 623.8z"/><path class="c38" d="M761.1 542.7L781.1 579.4L787.6 562.1L767.5 524.4z"/><path class="c38" d="M1047.8 563.1L1067.9 556L1074.4 543.2L1054.3 549.8z"/><path class="c42" d="M1141.1 518L1161.1 516L1167.6 501.2L1147.5 503.1z"/><path class="c40" d="M1094.4 537.9L1114.5 533.8L1121 520.9L1100.9 524.8z"/><path class="c46" d="M660.7 469.3L680.8 470.2L687.2 449.9L667.1 448.1z"/><path class="c28" d="M461.3 675L481.4 662L487.9 643L467.8 657z"/><path class="c41" d="M587.6 533.8L607.6 525.1L614.1 503.3L594 511.7z"/><path class="c31" d="M928.1 640.5L948.2 634.8L954.6 618.9L934.6 624.8z"/><path class="c29" d="M881.5 659.2L901.6 659L908 643.5L888 643.8z"/><path class="c43" d="M1274.4 499.4L1294.5 507.4L1300.9 491.7L1280.9 483.3z"/><path class="c43" d="M1207.7 502.1L1227.8 504.8L1234.3 488.2L1214.2 485.4z"/><path class="c29" d="M814.8 651L834.9 665.7L841.3 650.2L821.3 635.1z"/><path class="c31" d="M794.7 628.2L814.8 651L821.3 635.1L801.2 611.6z"/><path class="c26" d="M434.8 704.8L454.9 692.7L461.3 675L441.3 688.4z"/><path class="c38" d="M561 565.8L581.1 555.6L587.6 533.8L567.5 544z"/><path class="c34" d="M974.7 612.4L994.8 606L1001.2 590.8L981.2 597.2z"/><path class="c31" d="M1435 625.9L1455.1 644.7L1461.5 634.7L1441.5 615.1z"/><path class="c30" d="M1455.1 644.7L1475.1 660.8L1481.6 651.5L1461.5 634.7z"/><path class="c42" d="M1294.5 507.4L1314.6 517.7L1321 502.4L1300.9 491.7z"/><path class="c41" d="M741 506.6L761.1 542.7L767.5 524.4L747.4 487.4z"/><path class="c28" d="M1475.1 660.8L1495.2 673L1501.7 664.2L1481.6 651.5z"/><path class="c28" d="M834.9 665.7L855 672.2L861.4 656.8L841.3 650.2z"/><path class="c33" d="M1414.9 602.4L1435 625.9L1441.5 615.1L1421.4 590.6z"/><path class="c44" d="M634.2 496L654.2 490.3L660.7 469.3L640.6 474.4z"/><path class="c46" d="M680.8 470.2L700.8 471.2L707.3 451.1L687.2 449.9z"/><path class="c42" d="M1161.1 516L1181.2 515.5L1187.7 501.1L1167.6 501.2z"/><path class="c36" d="M1021.3 584L1041.4 577L1047.8 563.1L1027.8 569.9z"/><path class="c35" d="M534.5 598.3L554.6 587.2L561 565.8L540.9 577.3z"/><path class="c41" d="M1314.6 517.7L1334.6 531.8L1341.1 517L1321 502.4z"/><path class="c34" d="M774.7 596.8L794.7 628.2L801.2 611.6L781.1 579.4z"/><path class="c40" d="M1334.6 531.8L1354.7 548.1L1361.2 534.1L1341.1 517z"/><path class="c38" d="M1354.7 548.1L1374.8 566L1381.2 552.7L1361.2 534.1z"/><path class="c35" d="M1394.8 581.6L1414.9 602.4L1421.4 590.6L1401.3 568.9z"/><path class="c40" d="M1114.5 533.8L1134.6 530.5L1141.1 518L1121 520.9z"/><path class="c37" d="M1374.8 566L1394.8 581.6L1401.3 568.9L1381.2 552.7z"/><path class="c39" d="M1067.9 556L1088 550.4L1094.4 537.9L1074.4 543.2z"/><path class="c43" d="M1227.8 504.8L1247.9 509.4L1254.3 493L1234.3 488.2z"/><path class="c24" d="M408.3 728.9L428.4 721.1L434.8 704.8L414.7 713.2z"/><path class="c30" d="M901.6 659L921.6 656.2L928.1 640.5L908 643.5z"/><path class="c33" d="M508 630.4L528 619L534.5 598.3L514.4 610.3z"/><path class="c44" d="M720.9 484.7L741 506.6L747.4 487.4L727.4 464.9z"/><path class="c46" d="M700.8 471.2L720.9 484.7L727.4 464.9L707.3 451.1z"/><path class="c32" d="M948.2 634.8L968.2 628.6L974.7 612.4L954.6 618.9z"/><path class="c42" d="M607.6 525.1L627.7 517.4L634.2 496L614.1 503.3z"/><path class="c28" d="M855 672.2L875 674.7L881.5 659.2L861.4 656.8z"/><path class="c30" d="M481.4 662L501.5 650.1L508 630.4L487.9 643z"/><path class="c42" d="M1181.2 515.5L1201.3 516.1L1207.7 502.1L1187.7 501.1z"/><path class="c35" d="M994.8 606L1014.8 599.2L1021.3 584L1001.2 590.8z"/><path class="c43" d="M1247.9 509.4L1267.9 515.5L1274.4 499.4L1254.3 493z"/><path class="c37" d="M754.6 561.1L774.7 596.8L781.1 579.4L761.1 542.7z"/><path class="c45" d="M654.2 490.3L674.3 490.4L680.8 470.2L660.7 469.3z"/><path class="c39" d="M581.1 555.6L601.2 546.6L607.6 525.1L587.6 533.8z"/><path class="c27" d="M454.9 692.7L475 680.4L481.4 662L461.3 675z"/><path class="c41" d="M1134.6 530.5L1154.7 528L1161.1 516L1141.1 518z"/><path class="c37" d="M1041.4 577L1061.5 569.5L1067.9 556L1047.8 563.1z"/><path class="c39" d="M1088 550.4L1108.1 545.9L1114.5 533.8L1094.4 537.9z"/><path class="c30" d="M921.6 656.2L941.7 650.7L948.2 634.8L928.1 640.5z"/><path class="c42" d="M1267.9 515.5L1288 523.2L1294.5 507.4L1274.4 499.4z"/><path class="c28" d="M875 674.7L895.1 674.5L901.6 659L881.5 659.2z"/><path class="c37" d="M554.6 587.2L574.6 577L581.1 555.6L561 565.8z"/><path class="c28" d="M808.4 667L828.4 681.3L834.9 665.7L814.8 651z"/><path class="c25" d="M428.4 721.1L448.4 709.9L454.9 692.7L434.8 704.8z"/><path class="c42" d="M1201.3 516.1L1221.3 518.1L1227.8 504.8L1207.7 502.1z"/><path class="c30" d="M788.3 644.7L808.4 667L814.8 651L794.7 628.2z"/><path class="c33" d="M968.2 628.6L988.3 622.4L994.8 606L974.7 612.4z"/><path class="c43" d="M627.7 517.4L647.8 511.3L654.2 490.3L634.2 496z"/><path class="c45" d="M674.3 490.4L694.4 491.4L700.8 471.2L680.8 470.2z"/><path class="c34" d="M528 619L548.1 608.2L554.6 587.2L534.5 598.3z"/><path class="c40" d="M734.5 525.9L754.6 561.1L761.1 542.7L741 506.6z"/><path class="c41" d="M1288 523.2L1308.1 533.1L1314.6 517.7L1294.5 507.4z"/><path class="c28" d="M828.4 681.3L848.5 687.7L855 672.2L834.9 665.7z"/><path class="c31" d="M1428.5 636.8L1448.6 654.7L1455.1 644.7L1435 625.9z"/><path class="c35" d="M1014.8 599.2L1034.9 592.2L1041.4 577L1021.3 584z"/><path class="c29" d="M1448.6 654.7L1468.7 670.2L1475.1 660.8L1455.1 644.7z"/><path class="c33" d="M768.2 614.2L788.3 644.7L794.7 628.2L774.7 596.8z"/><path class="c40" d="M1308.1 533.1L1328.2 546.5L1334.6 531.8L1314.6 517.7z"/><path class="c41" d="M1154.7 528L1174.7 526.7L1181.2 515.5L1161.1 516z"/><path class="c31" d="M501.5 650.1L521.6 639.2L528 619L508 630.4z"/><path class="c33" d="M1408.5 614.2L1428.5 636.8L1435 625.9L1414.9 602.4z"/><path class="c39" d="M1328.2 546.5L1348.2 562.2L1354.7 548.1L1334.6 531.8z"/><path class="c40" d="M601.2 546.6L621.2 538.5L627.7 517.4L607.6 525.1z"/><path class="c28" d="M1468.7 670.2L1488.8 681.9L1495.2 673L1475.1 660.8z"/><path class="c23" d="M401.8 744.6L421.9 737.2L428.4 721.1L408.3 728.9z"/><path class="c44" d="M694.4 491.4L714.4 504.5L720.9 484.7L700.8 471.2z"/><path class="c38" d="M1348.2 562.2L1368.3 579.3L1374.8 566L1354.7 548.1z"/><path class="c43" d="M714.4 504.5L734.5 525.9L741 506.6L720.9 484.7z"/><path class="c42" d="M1221.3 518.1L1241.4 521.8L1247.9 509.4L1227.8 504.8z"/><path class="c29" d="M895.1 674.5L915.2 671.8L921.6 656.2L901.6 659z"/><path class="c36" d="M1368.3 579.3L1388.4 594.2L1394.8 581.6L1374.8 566z"/><path class="c35" d="M1388.4 594.2L1408.5 614.2L1414.9 602.4L1394.8 581.6z"/><path class="c38" d="M1061.5 569.5L1081.5 563.5L1088 550.4L1067.9 556z"/><path class="c40" d="M1108.1 545.9L1128.1 542.2L1134.6 530.5L1114.5 533.8z"/><path class="c31" d="M941.7 650.7L961.8 644.7L968.2 628.6L948.2 634.8z"/><path class="c29" d="M475 680.4L495 669.2L501.5 650.1L481.4 662z"/><path class="c27" d="M848.5 687.7L868.6 690.2L875 674.7L855 672.2z"/><path class="c43" d="M647.8 511.3L667.8 510.6L674.3 490.4L654.2 490.3z"/><path class="c38" d="M574.6 577L594.7 567.8L601.2 546.6L581.1 555.6z"/><path class="c36" d="M748.1 579.4L768.2 614.2L774.7 596.8L754.6 561.1z"/><path class="c34" d="M988.3 622.4L1008.4 615.8L1014.8 599.2L994.8 606z"/><path class="c42" d="M1241.4 521.8L1261.5 526.9L1267.9 515.5L1247.9 509.4z"/><path class="c42" d="M1174.7 526.7L1194.8 526.3L1201.3 516.1L1181.2 515.5z"/><path class="c26" d="M448.4 709.9L468.5 698.3L475 680.4L454.9 692.7z"/><path class="c35" d="M548.1 608.2L568.2 597.9L574.6 577L554.6 587.2z"/><path class="c36" d="M1034.9 592.2L1055 584.7L1061.5 569.5L1041.4 577z"/><path class="c29" d="M915.2 671.8L935.2 666.6L941.7 650.7L921.6 656.2z"/><path class="c41" d="M1128.1 542.2L1148.2 539.1L1154.7 528L1134.6 530.5z"/><path class="c27" d="M868.6 690.2L888.6 690.1L895.1 674.5L875 674.7z"/><path class="c41" d="M621.2 538.5L641.3 532.2L647.8 511.3L627.7 517.4z"/><path class="c39" d="M1081.5 563.5L1101.6 558.8L1108.1 545.9L1088 550.4z"/><path class="c41" d="M1261.5 526.9L1281.6 533.3L1288 523.2L1267.9 515.5z"/><path class="c33" d="M521.6 639.2L541.6 628.5L548.1 608.2L528 619z"/><path class="c44" d="M667.8 510.6L687.9 511.5L694.4 491.4L674.3 490.4z"/><path class="c24" d="M421.9 737.2L442 726.5L448.4 709.9L428.4 721.1z"/><path class="c28" d="M801.9 682.9L822 696.9L828.4 681.3L808.4 667z"/><path class="c29" d="M781.8 661.2L801.9 682.9L808.4 667L788.3 644.7z"/><path class="c39" d="M728.1 545.1L748.1 579.4L754.6 561.1L734.5 525.9z"/><path class="c32" d="M961.8 644.7L981.9 638.7L988.3 622.4L968.2 628.6z"/><path class="c42" d="M1194.8 526.3L1214.9 527L1221.3 518.1L1201.3 516.1z"/><path class="c41" d="M1281.6 533.3L1301.6 541.5L1308.1 533.1L1288 523.2z"/><path class="c30" d="M495 669.2L515.1 658.7L521.6 639.2L501.5 650.1z"/><path class="c27" d="M822 696.9L842 703.2L848.5 687.7L828.4 681.3z"/><path class="c39" d="M594.7 567.8L614.8 559.5L621.2 538.5L601.2 546.6z"/><path class="c32" d="M761.7 631.5L781.8 661.2L788.3 644.7L768.2 614.2z"/><path class="c35" d="M1008.4 615.8L1028.5 609L1034.9 592.2L1014.8 599.2z"/><path class="c43" d="M687.9 511.5L708 524.3L714.4 504.5L694.4 491.4z"/><path class="c42" d="M708 524.3L728.1 545.1L734.5 525.9L714.4 504.5z"/><path class="c22" d="M395.4 760.3L415.4 753.2L421.9 737.2L401.8 744.6z"/><path class="c40" d="M1301.6 541.5L1321.7 552.9L1328.2 546.5L1308.1 533.1z"/><path class="c28" d="M888.6 690.1L908.7 687.5L915.2 671.8L895.1 674.5z"/><path class="c41" d="M1148.2 539.1L1168.3 536.9L1174.7 526.7L1154.7 528z"/><path class="c37" d="M1055 584.7L1075.1 578.6L1081.5 563.5L1061.5 569.5z"/><path class="c28" d="M468.5 698.3L488.6 687.6L495 669.2L475 680.4z"/><path class="c37" d="M568.2 597.9L588.2 588.6L594.7 567.8L574.6 577z"/><path class="c42" d="M641.3 532.2L661.4 530.8L667.8 510.6L647.8 511.3z"/><path class="c30" d="M935.2 666.6L955.3 660.8L961.8 644.7L941.7 650.7z"/><path class="c39" d="M1321.7 552.9L1341.8 566.2L1348.2 562.2L1328.2 546.5z"/><path class="c39" d="M1101.6 558.8L1121.7 554.7L1128.1 542.2L1108.1 545.9z"/><path class="c42" d="M1214.9 527L1235 528.8L1241.4 521.8L1221.3 518.1z"/><path class="c27" d="M842 703.2L862.1 705.6L868.6 690.2L848.5 687.7z"/><path class="c38" d="M1341.8 566.2L1361.9 580.9L1368.3 579.3L1348.2 562.2z"/><path class="c35" d="M741.7 597.7L761.7 631.5L768.2 614.2L748.1 579.4z"/><path class="c31" d="M1422.1 630L1442.1 645.4L1448.6 654.7L1428.5 636.8z"/><path class="c33" d="M1402 610.6L1422.1 630L1428.5 636.8L1408.5 614.2z"/><path class="c36" d="M1361.9 580.9L1381.9 593.6L1388.4 594.2L1368.3 579.3z"/><path class="c33" d="M981.9 638.7L1001.9 632.4L1008.4 615.8L988.3 622.4z"/><path class="c30" d="M1442.1 645.4L1462.2 658.5L1468.7 670.2L1448.6 654.7z"/><path class="c35" d="M1381.9 593.6L1402 610.6L1408.5 614.2L1388.4 594.2z"/><path class="c34" d="M541.6 628.5L561.7 618.3L568.2 597.9L548.1 608.2z"/><path class="c25" d="M442 726.5L462 715.4L468.5 698.3L448.4 709.9z"/><path class="c29" d="M1462.2 658.5L1482.3 668.4L1488.8 681.9L1468.7 670.2z"/><path class="c40" d="M614.8 559.5L634.8 552.9L641.3 532.2L621.2 538.5z"/><path class="c36" d="M1028.5 609L1048.5 601.7L1055 584.7L1034.9 592.2z"/><path class="c41" d="M1168.3 536.9L1188.4 535.3L1194.8 526.3L1174.7 526.7z"/><path class="c42" d="M1235 528.8L1255 531.7L1261.5 526.9L1241.4 521.8z"/><path class="c31" d="M515.1 658.7L535.2 648.3L541.6 628.5L521.6 639.2z"/><path class="c42" d="M661.4 530.8L681.5 531.6L687.9 511.5L667.8 510.6z"/><path class="c28" d="M908.7 687.5L928.8 682.5L935.2 666.6L915.2 671.8z"/><path class="c27" d="M862.1 705.6L882.2 705.6L888.6 690.1L868.6 690.2z"/><path class="c38" d="M721.6 564.4L741.7 597.7L748.1 579.4L728.1 545.1z"/><path class="c23" d="M415.4 753.2L435.5 743L442 726.5L421.9 737.2z"/><path class="c38" d="M1075.1 578.6L1095.1 573.8L1101.6 558.8L1081.5 563.5z"/><path class="c40" d="M1121.7 554.7L1141.7 551.1L1148.2 539.1L1128.1 542.2z"/><path class="c28" d="M775.4 677.8L795.4 698.8L801.9 682.9L781.8 661.2z"/><path class="c27" d="M795.4 698.8L815.5 712.5L822 696.9L801.9 682.9z"/><path class="c31" d="M955.3 660.8L975.4 655.1L981.9 638.7L961.8 644.7z"/><path class="c38" d="M588.2 588.6L608.3 580.2L614.8 559.5L594.7 567.8z"/><path class="c29" d="M488.6 687.6L508.6 677.4L515.1 658.7L495 669.2z"/><path class="c42" d="M681.5 531.6L701.5 544.1L708 524.3L687.9 511.5z"/><path class="c41" d="M1255 531.7L1275.1 535.4L1281.6 533.3L1261.5 526.9z"/><path class="c40" d="M701.5 544.1L721.6 564.4L728.1 545.1L708 524.3z"/><path class="c31" d="M755.3 648.9L775.4 677.8L781.8 661.2L761.7 631.5z"/><path class="c26" d="M815.5 712.5L835.6 718.7L842 703.2L822 696.9z"/><path class="c34" d="M1001.9 632.4L1022 625.9L1028.5 609L1008.4 615.8z"/><path class="c42" d="M1188.4 535.3L1208.4 534.3L1214.9 527L1194.8 526.3z"/><path class="c35" d="M561.7 618.3L581.8 609L588.2 588.6L568.2 597.9z"/><path class="c41" d="M634.8 552.9L654.9 551L661.4 530.8L641.3 532.2z"/><path class="c21" d="M388.9 776L409 769.3L415.4 753.2L395.4 760.3z"/><path class="c27" d="M882.2 705.6L902.3 703.2L908.7 687.5L888.6 690.1z"/><path class="c27" d="M462 715.4L482.1 705.2L488.6 687.6L468.5 698.3z"/><path class="c36" d="M1048.5 601.7L1068.6 595.7L1075.1 578.6L1055 584.7z"/><path class="c41" d="M1275.1 535.4L1295.2 540.5L1301.6 541.5L1281.6 533.3z"/><path class="c29" d="M928.8 682.5L948.9 676.9L955.3 660.8L935.2 666.6z"/><path class="c41" d="M1141.7 551.1L1161.8 548.1L1168.3 536.9L1148.2 539.1z"/><path class="c34" d="M735.2 616L755.3 648.9L761.7 631.5L741.7 597.7z"/><path class="c39" d="M1095.1 573.8L1115.2 569.7L1121.7 554.7L1101.6 558.8z"/><path class="c26" d="M835.6 718.7L855.7 721.1L862.1 705.6L842 703.2z"/><path class="c33" d="M535.2 648.3L555.3 638.2L561.7 618.3L541.6 628.5z"/><path class="c32" d="M975.4 655.1L995.5 649L1001.9 632.4L981.9 638.7z"/><path class="c24" d="M435.5 743L455.6 732.4L462 715.4L442 726.5z"/><path class="c39" d="M608.3 580.2L628.4 573.5L634.8 552.9L614.8 559.5z"/><path class="c41" d="M1295.2 540.5L1315.2 547.8L1321.7 552.9L1301.6 541.5z"/><path class="c42" d="M1208.4 534.3L1228.5 534.1L1235 528.8L1214.9 527z"/><path class="c41" d="M654.9 551L675 551.7L681.5 531.6L661.4 530.8z"/><path class="c30" d="M508.6 677.4L528.7 667.3L535.2 648.3L515.1 658.7z"/><path class="c35" d="M1022 625.9L1042.1 618.8L1048.5 601.7L1028.5 609z"/><path class="c40" d="M1315.2 547.8L1335.3 556.5L1341.8 566.2L1321.7 552.9z"/><path class="c37" d="M715.1 583.7L735.2 616L741.7 597.7L721.6 564.4z"/><path class="c28" d="M902.3 703.2L922.3 698.3L928.8 682.5L908.7 687.5z"/><path class="c26" d="M855.7 721.1L875.7 721.1L882.2 705.6L862.1 705.6z"/><path class="c36" d="M581.8 609L601.9 600.7L608.3 580.2L588.2 588.6z"/><path class="c22" d="M409 769.3L429 759.5L435.5 743L415.4 753.2z"/><path class="c41" d="M1161.8 548.1L1181.9 545.5L1188.4 535.3L1168.3 536.9z"/><path class="c37" d="M1068.6 595.7L1088.7 590.9L1095.1 573.8L1075.1 578.6z"/><path class="c27" d="M768.9 694.3L789 714.8L795.4 698.8L775.4 677.8z"/><path class="c26" d="M789 714.8L809 728.1L815.5 712.5L795.4 698.8z"/><path class="c30" d="M948.9 676.9L968.9 671.4L975.4 655.1L955.3 660.8z"/><path class="c39" d="M1335.3 556.5L1355.4 566.2L1361.9 580.9L1341.8 566.2z"/><path class="c39" d="M1115.2 569.7L1135.3 566L1141.7 551.1L1121.7 554.7z"/><path class="c41" d="M675 551.7L695.1 564L701.5 544.1L681.5 531.6z"/><path class="c28" d="M482.1 705.2L502.2 695.5L508.6 677.4L488.6 687.6z"/><path class="c39" d="M695.1 564L715.1 583.7L721.6 564.4L701.5 544.1z"/><path class="c42" d="M1228.5 534.1L1248.6 534.3L1255 531.7L1235 528.8z"/><path class="c30" d="M748.8 666.3L768.9 694.3L775.4 677.8L755.3 648.9z"/><path class="c38" d="M1355.4 566.2L1375.5 574.5L1381.9 593.6L1361.9 580.9z"/><path class="c33" d="M995.5 649L1015.5 642.7L1022 625.9L1001.9 632.4z"/><path class="c25" d="M809 728.1L829.1 734.1L835.6 718.7L815.5 712.5z"/><path class="c34" d="M555.3 638.2L575.3 629.1L581.8 609L561.7 618.3z"/><path class="c39" d="M628.4 573.5L648.5 571.2L654.9 551L634.8 552.9z"/><path class="c37" d="M1375.5 574.5L1395.5 585.9L1402 610.6L1381.9 593.6z"/><path class="c20" d="M382.4 791.7L402.5 785.3L409 769.3L388.9 776z"/><path class="c26" d="M455.6 732.4L475.7 722.7L482.1 705.2L462 715.4z"/><path class="c36" d="M1395.5 585.9L1415.6 599.1L1422.1 630L1402 610.6z"/><path class="c26" d="M875.7 721.1L895.8 718.9L902.3 703.2L882.2 705.6z"/><path class="c35" d="M1042.1 618.8L1062.1 612.9L1068.6 595.7L1048.5 601.7z"/><path class="c28" d="M922.3 698.3L942.4 693L948.9 676.9L928.8 682.5z"/><path class="c41" d="M1181.9 545.5L1202 543.2L1208.4 534.3L1188.4 535.3z"/><path class="c34" d="M1415.6 599.1L1435.7 609.3L1442.1 645.4L1422.1 630z"/><path class="c32" d="M728.8 634.3L748.8 666.3L755.3 648.9L735.2 616z"/><path class="c31" d="M528.7 667.3L548.8 657.6L555.3 638.2L535.2 648.3z"/><path class="c42" d="M1248.6 534.3L1268.6 535L1275.1 535.4L1255 531.7z"/><path class="c38" d="M1088.7 590.9L1108.8 586.7L1115.2 569.7L1095.1 573.8z"/><path class="c25" d="M829.1 734.1L849.2 736.5L855.7 721.1L835.6 718.7z"/><path class="c40" d="M1135.3 566L1155.4 562.6L1161.8 548.1L1141.7 551.1z"/><path class="c37" d="M601.9 600.7L621.9 593.9L628.4 573.5L608.3 580.2z"/><path class="c31" d="M968.9 671.4L989 665.6L995.5 649L975.4 655.1z"/><path class="c33" d="M1435.7 609.3L1455.8 617.8L1462.2 658.5L1442.1 645.4z"/><path class="c23" d="M429 759.5L449.1 749.5L455.6 732.4L435.5 743z"/><path class="c40" d="M648.5 571.2L668.5 571.8L675 551.7L654.9 551z"/><path class="c29" d="M502.2 695.5L522.3 685.8L528.7 667.3L508.6 677.4z"/><path class="c34" d="M1015.5 642.7L1035.6 635.8L1042.1 618.8L1022 625.9z"/><path class="c33" d="M1455.8 617.8L1475.8 624L1482.3 668.4L1462.2 658.5z"/><path class="c35" d="M708.7 602.9L728.8 634.3L735.2 616L715.1 583.7z"/><path class="c42" d="M1268.6 535L1288.7 536.3L1295.2 540.5L1275.1 535.4z"/><path class="c35" d="M575.3 629.1L595.4 620.8L601.9 600.7L581.8 609z"/><path class="c27" d="M895.8 718.9L915.9 714.2L922.3 698.3L902.3 703.2z"/><path class="c42" d="M1202 543.2L1222 541.1L1228.5 534.1L1208.4 534.3z"/><path class="c25" d="M849.2 736.5L869.3 736.7L875.7 721.1L855.7 721.1z"/><path class="c39" d="M668.5 571.8L688.6 583.8L695.1 564L675 551.7z"/><path class="c36" d="M1062.1 612.9L1082.2 608L1088.7 590.9L1068.6 595.7z"/><path class="c21" d="M402.5 785.3L422.6 776.1L429 759.5L409 769.3z"/><path class="c26" d="M762.4 710.8L782.5 730.7L789 714.8L768.9 694.3z"/><path class="c38" d="M688.6 583.8L708.7 602.9L715.1 583.7L695.1 564z"/><path class="c29" d="M942.4 693L962.5 687.8L968.9 671.4L948.9 676.9z"/><path class="c27" d="M475.7 722.7L495.7 713.4L502.2 695.5L482.1 705.2z"/><path class="c25" d="M782.5 730.7L802.6 743.7L809 728.1L789 714.8z"/><path class="c39" d="M1108.8 586.7L1128.8 582.8L1135.3 566L1115.2 569.7z"/><path class="c41" d="M1155.4 562.6L1175.4 559.5L1181.9 545.5L1161.8 548.1z"/><path class="c38" d="M621.9 593.9L642 591.3L648.5 571.2L628.4 573.5z"/><path class="c33" d="M548.8 657.6L568.9 648.7L575.3 629.1L555.3 638.2z"/><path class="c29" d="M742.4 683.6L762.4 710.8L768.9 694.3L748.8 666.3z"/><path class="c32" d="M989 665.6L1009.1 659.5L1015.5 642.7L995.5 649z"/><path class="c42" d="M1288.7 536.3L1308.8 538.8L1315.2 547.8L1295.2 540.5z"/><path class="c24" d="M802.6 743.7L822.7 749.6L829.1 734.1L809 728.1z"/><path class="c25" d="M449.1 749.5L469.2 740.2L475.7 722.7L455.6 732.4z"/><path class="c19" d="M376 807.4L396.1 801.4L402.5 785.3L382.4 791.7z"/><path class="c34" d="M1035.6 635.8L1055.7 630L1062.1 612.9L1042.1 618.8z"/><path class="c42" d="M1222 541.1L1242.1 539.1L1248.6 534.3L1228.5 534.1z"/><path class="c25" d="M869.3 736.7L889.3 734.5L895.8 718.9L875.7 721.1z"/><path class="c30" d="M522.3 685.8L542.3 676.5L548.8 657.6L528.7 667.3z"/><path class="c31" d="M722.3 652.7L742.4 683.6L748.8 666.3L728.8 634.3z"/><path class="c27" d="M915.9 714.2L935.9 709.2L942.4 693L922.3 698.3z"/><path class="c36" d="M595.4 620.8L615.5 614.2L621.9 593.9L601.9 600.7z"/><path class="c41" d="M1308.8 538.8L1328.9 542.2L1335.3 556.5L1315.2 547.8z"/><path class="c37" d="M1082.2 608L1102.3 603.6L1108.8 586.7L1088.7 590.9z"/><path class="c24" d="M822.7 749.6L842.7 752L849.2 736.5L829.1 734.1z"/><path class="c41" d="M1175.4 559.5L1195.5 556.5L1202 543.2L1181.9 545.5z"/><path class="c39" d="M1128.8 582.8L1148.9 579.3L1155.4 562.6L1135.3 566z"/><path class="c38" d="M642 591.3L662.1 592L668.5 571.8L648.5 571.2z"/><path class="c30" d="M962.5 687.8L982.5 682.2L989 665.6L968.9 671.4z"/><path class="c22" d="M422.6 776.1L442.7 766.5L449.1 749.5L429 759.5z"/><path class="c28" d="M495.7 713.4L515.8 704.2L522.3 685.8L502.2 695.5z"/><path class="c34" d="M702.2 622.2L722.3 652.7L728.8 634.3L708.7 602.9z"/><path class="c33" d="M1009.1 659.5L1029.2 652.9L1035.6 635.8L1015.5 642.7z"/><path class="c41" d="M1328.9 542.2L1348.9 546.1L1355.4 566.2L1335.3 556.5z"/><path class="c34" d="M568.9 648.7L588.9 640.7L595.4 620.8L575.3 629.1z"/><path class="c42" d="M1242.1 539.1L1262.2 537.1L1268.6 535L1248.6 534.3z"/><path class="c38" d="M662.1 592L682.1 603.6L688.6 583.8L668.5 571.8z"/><path class="c26" d="M889.3 734.5L909.4 730.1L915.9 714.2L895.8 718.9z"/><path class="c37" d="M682.1 603.6L702.2 622.2L708.7 602.9L688.6 583.8z"/><path class="c35" d="M1055.7 630L1075.8 625.2L1082.2 608L1062.1 612.9z"/><path class="c24" d="M842.7 752L862.8 752.2L869.3 736.7L849.2 736.5z"/><path class="c20" d="M396.1 801.4L416.1 792.6L422.6 776.1L402.5 785.3z"/><path class="c26" d="M469.2 740.2L489.3 731.3L495.7 713.4L475.7 722.7z"/><path class="c26" d="M756 727.4L776.1 746.7L782.5 730.7L762.4 710.8z"/><path class="c28" d="M935.9 709.2L956 704.1L962.5 687.8L942.4 693z"/><path class="c37" d="M615.5 614.2L635.5 611.4L642 591.3L621.9 593.9z"/><path class="c24" d="M776.1 746.7L796.1 759.3L802.6 743.7L782.5 730.7z"/><path class="c38" d="M1102.3 603.6L1122.4 599.6L1128.8 582.8L1108.8 586.7z"/><path class="c41" d="M1348.9 546.1L1369 549.2L1375.5 574.5L1355.4 566.2z"/><path class="c31" d="M542.3 676.5L562.4 667.9L568.9 648.7L548.8 657.6z"/><path class="c42" d="M1195.5 556.5L1215.6 553.5L1222 541.1L1202 543.2z"/><path class="c40" d="M1148.9 579.3L1169 576L1175.4 559.5L1155.4 562.6z"/><path class="c28" d="M735.9 701L756 727.4L762.4 710.8L742.4 683.6z"/><path class="c31" d="M982.5 682.2L1002.6 676.4L1009.1 659.5L989 665.6z"/><path class="c23" d="M796.1 759.3L816.2 765.1L822.7 749.6L802.6 743.7z"/><path class="c43" d="M1262.2 537.1L1282.3 535.2L1288.7 536.3L1268.6 535z"/><path class="c24" d="M442.7 766.5L462.7 757.6L469.2 740.2L449.1 749.5z"/><path class="c40" d="M1369 549.2L1389.1 554.1L1395.5 585.9L1375.5 574.5z"/><path class="c29" d="M515.8 704.2L535.9 695.3L542.3 676.5L522.3 685.8z"/><path class="c33" d="M1029.2 652.9L1049.2 647.2L1055.7 630L1035.6 635.8z"/><path class="c18" d="M369.5 823.1L389.6 817.4L396.1 801.4L376 807.4z"/><path class="c35" d="M588.9 640.7L609 634.3L615.5 614.2L595.4 620.8z"/><path class="c30" d="M715.8 671L735.9 701L742.4 683.6L722.3 652.7z"/><path class="c24" d="M862.8 752.2L882.9 750.2L889.3 734.5L869.3 736.7z"/><path class="c27" d="M909.4 730.1L929.5 725.3L935.9 709.2L915.9 714.2z"/><path class="c36" d="M1075.8 625.2L1095.8 620.6L1102.3 603.6L1082.2 608z"/><path class="c37" d="M635.5 611.4L655.6 612.1L662.1 592L642 591.3z"/><path class="c39" d="M1389.1 554.1L1409.2 560L1415.6 599.1L1395.5 585.9z"/><path class="c42" d="M1215.6 553.5L1235.6 550.5L1242.1 539.1L1222 541.1z"/><path class="c38" d="M1122.4 599.6L1142.4 595.9L1148.9 579.3L1128.8 582.8z"/><path class="c23" d="M816.2 765.1L836.3 767.5L842.7 752L822.7 749.6z"/><path class="c29" d="M956 704.1L976.1 698.8L982.5 682.2L962.5 687.8z"/><path class="c40" d="M1169 576L1189 572.9L1195.5 556.5L1175.4 559.5z"/><path class="c21" d="M416.1 792.6L436.2 783.5L442.7 766.5L422.6 776.1z"/><path class="c27" d="M489.3 731.3L509.3 722.6L515.8 704.2L495.7 713.4z"/><path class="c33" d="M695.8 641.5L715.8 671L722.3 652.7L702.2 622.2z"/><path class="c32" d="M562.4 667.9L582.5 660.3L588.9 640.7L568.9 648.7z"/><path class="c43" d="M1282.3 535.2L1302.3 533.7L1308.8 538.8L1288.7 536.3z"/><path class="c32" d="M1002.6 676.4L1022.7 670L1029.2 652.9L1009.1 659.5z"/><path class="c39" d="M1409.2 560L1429.2 564.2L1435.7 609.3L1415.6 599.1z"/><path class="c37" d="M655.6 612.1L675.7 623.4L682.1 603.6L662.1 592z"/><path class="c35" d="M675.7 623.4L695.8 641.5L702.2 622.2L682.1 603.6z"/><path class="c34" d="M1049.2 647.2L1069.3 642.3L1075.8 625.2L1055.7 630z"/><path class="c25" d="M882.9 750.2L902.9 746L909.4 730.1L889.3 734.5z"/><path class="c35" d="M609 634.3L629.1 631.5L635.5 611.4L615.5 614.2z"/><path class="c25" d="M462.7 757.6L482.8 749.3L489.3 731.3L469.2 740.2z"/><path class="c19" d="M389.6 817.4L409.7 809.1L416.1 792.6L396.1 801.4z"/><path class="c23" d="M836.3 767.5L856.3 767.7L862.8 752.2L842.7 752z"/><path class="c30" d="M535.9 695.3L555.9 687.1L562.4 667.9L542.3 676.5z"/><path class="c25" d="M749.5 743.9L769.6 762.6L776.1 746.7L756 727.4z"/><path class="c27" d="M929.5 725.3L949.6 720.5L956 704.1L935.9 709.2z"/><path class="c37" d="M1095.8 620.6L1115.9 616.4L1122.4 599.6L1102.3 603.6z"/><path class="c38" d="M1429.2 564.2L1449.3 567.4L1455.8 617.8L1435.7 609.3z"/><path class="c23" d="M769.6 762.6L789.7 774.9L796.1 759.3L776.1 746.7z"/><path class="c43" d="M1235.6 550.5L1255.7 547.2L1262.2 537.1L1242.1 539.1z"/><path class="c39" d="M1142.4 595.9L1162.5 592.5L1169 576L1148.9 579.3z"/><path class="c41" d="M1189 572.9L1209.1 569.9L1215.6 553.5L1195.5 556.5z"/><path class="c27" d="M729.4 718.4L749.5 743.9L756 727.4L735.9 701z"/><path class="c43" d="M1302.3 533.7L1322.4 532.5L1328.9 542.2L1308.8 538.8z"/><path class="c30" d="M976.1 698.8L996.2 693.2L1002.6 676.4L982.5 682.2z"/><path class="c23" d="M789.7 774.9L809.7 780.5L816.2 765.1L796.1 759.3z"/><path class="c23" d="M436.2 783.5L456.3 775.1L462.7 757.6L442.7 766.5z"/><path class="c28" d="M509.3 722.6L529.4 714.1L535.9 695.3L515.8 704.2z"/><path class="c33" d="M582.5 660.3L602.5 654.2L609 634.3L588.9 640.7z"/><path class="c32" d="M1022.7 670L1042.8 664.3L1049.2 647.2L1029.2 652.9z"/><path class="c29" d="M709.4 689.3L729.4 718.4L735.9 701L715.8 671z"/><path class="c38" d="M1449.3 567.4L1469.4 569.4L1475.8 624L1455.8 617.8z"/><path class="c17" d="M363.1 838.8L383.1 833.5L389.6 817.4L369.5 823.1z"/><path class="c36" d="M629.1 631.5L649.2 632.2L655.6 612.1L635.5 611.4z"/><path class="c24" d="M856.3 767.7L876.4 765.9L882.9 750.2L862.8 752.2z"/><path class="c35" d="M1069.3 642.3L1089.4 637.6L1095.8 620.6L1075.8 625.2z"/><path class="c26" d="M902.9 746L923 741.4L929.5 725.3L909.4 730.1z"/><path class="c43" d="M1322.4 532.5L1342.5 531.4L1348.9 546.1L1328.9 542.2z"/><path class="c37" d="M1115.9 616.4L1136 612.6L1142.4 595.9L1122.4 599.6z"/><path class="c43" d="M1255.7 547.2L1275.8 543.7L1282.3 535.2L1262.2 537.1z"/><path class="c28" d="M949.6 720.5L969.6 715.4L976.1 698.8L956 704.1z"/><path class="c39" d="M1162.5 592.5L1182.6 589.3L1189 572.9L1169 576z"/><path class="c26" d="M482.8 749.3L502.9 740.9L509.3 722.6L489.3 731.3z"/><path class="c22" d="M809.7 780.5L829.8 782.9L836.3 767.5L816.2 765.1z"/><path class="c41" d="M1209.1 569.9L1229.2 566.9L1235.6 550.5L1215.6 553.5z"/><path class="c20" d="M409.7 809.1L429.7 800.5L436.2 783.5L416.1 792.6z"/><path class="c31" d="M555.9 687.1L576 679.9L582.5 660.3L562.4 667.9z"/><path class="c32" d="M689.3 660.7L709.4 689.3L715.8 671L695.8 641.5z"/><path class="c35" d="M649.2 632.2L669.2 643.2L675.7 623.4L655.6 612.1z"/><path class="c31" d="M996.2 693.2L1016.2 687L1022.7 670L1002.6 676.4z"/><path class="c34" d="M669.2 643.2L689.3 660.7L695.8 641.5L675.7 623.4z"/><path class="c34" d="M602.5 654.2L622.6 651.6L629.1 631.5L609 634.3z"/><path class="c33" d="M1042.8 664.3L1062.8 659.4L1069.3 642.3L1049.2 647.2z"/><path class="c24" d="M456.3 775.1L476.3 767.2L482.8 749.3L462.7 757.6z"/><path class="c29" d="M529.4 714.1L549.5 706.3L555.9 687.1L535.9 695.3z"/><path class="c43" d="M1342.5 531.4L1362.5 530.1L1369 549.2L1348.9 546.1z"/><path class="c24" d="M876.4 765.9L896.5 761.9L902.9 746L882.9 750.2z"/><path class="c18" d="M383.1 833.5L403.2 825.7L409.7 809.1L389.6 817.4z"/><path class="c24" d="M743.1 760.4L763.1 778.6L769.6 762.6L749.5 743.9z"/><path class="c22" d="M829.8 782.9L849.9 783.3L856.3 767.7L836.3 767.5z"/><path class="c36" d="M1089.4 637.6L1109.4 633.3L1115.9 616.4L1095.8 620.6z"/><path class="c26" d="M923 741.4L943.1 736.8L949.6 720.5L929.5 725.3z"/><path class="c44" d="M1275.8 543.7L1295.9 540.1L1302.3 533.7L1282.3 535.2z"/><path class="c22" d="M763.1 778.6L783.2 790.5L789.7 774.9L769.6 762.6z"/><path class="c38" d="M1136 612.6L1156.1 609L1162.5 592.5L1142.4 595.9z"/><path class="c26" d="M723 735.7L743.1 760.4L749.5 743.9L729.4 718.4z"/><path class="c40" d="M1182.6 589.3L1202.7 586.2L1209.1 569.9L1189 572.9z"/><path class="c42" d="M1229.2 566.9L1249.3 563.8L1255.7 547.2L1235.6 550.5z"/><path class="c29" d="M969.6 715.4L989.7 710L996.2 693.2L976.1 698.8z"/><path class="c32" d="M576 679.9L596.1 674.1L602.5 654.2L582.5 660.3z"/><path class="c27" d="M502.9 740.9L523 732.9L529.4 714.1L509.3 722.6z"/><path class="c22" d="M429.7 800.5L449.8 792.6L456.3 775.1L436.2 783.5z"/><path class="c22" d="M783.2 790.5L803.3 796L809.7 780.5L789.7 774.9z"/><path class="c34" d="M622.6 651.6L642.7 652.3L649.2 632.2L629.1 631.5z"/><path class="c31" d="M1016.2 687L1036.3 681.4L1042.8 664.3L1022.7 670z"/><path class="c28" d="M702.9 707.6L723 735.7L729.4 718.4L709.4 689.3z"/><path class="c43" d="M1362.5 530.1L1382.6 529.4L1389.1 554.1L1369 549.2z"/><path class="c17" d="M356.6 854.5L376.7 849.5L383.1 833.5L363.1 838.8z"/><path class="c34" d="M1062.8 659.4L1082.9 654.6L1089.4 637.6L1069.3 642.3z"/><path class="c23" d="M849.9 783.3L870 781.6L876.4 765.9L856.3 767.7z"/><path class="c25" d="M896.5 761.9L916.6 757.5L923 741.4L902.9 746z"/><path class="c36" d="M1109.4 633.3L1129.5 629.2L1136 612.6L1115.9 616.4z"/><path class="c30" d="M549.5 706.3L569.6 699.4L576 679.9L555.9 687.1z"/><path class="c44" d="M1295.9 540.1L1315.9 536.6L1322.4 532.5L1302.3 533.7z"/><path class="c25" d="M476.3 767.2L496.4 759.3L502.9 740.9L482.8 749.3z"/><path class="c31" d="M682.8 680L702.9 707.6L709.4 689.3L689.3 660.7z"/><path class="c27" d="M943.1 736.8L963.2 731.9L969.6 715.4L949.6 720.5z"/><path class="c38" d="M1156.1 609L1176.1 605.6L1182.6 589.3L1162.5 592.5z"/><path class="c34" d="M642.7 652.3L662.8 663L669.2 643.2L649.2 632.2z"/><path class="c19" d="M403.2 825.7L423.3 817.6L429.7 800.5L409.7 809.1z"/><path class="c40" d="M1202.7 586.2L1222.7 583.3L1229.2 566.9L1209.1 569.9z"/><path class="c22" d="M803.3 796L823.4 798.4L829.8 782.9L809.7 780.5z"/><path class="c42" d="M1249.3 563.8L1269.3 560.4L1275.8 543.7L1255.7 547.2z"/><path class="c33" d="M662.8 663L682.8 680L689.3 660.7L669.2 643.2z"/><path class="c43" d="M1382.6 529.4L1402.7 529L1409.2 560L1389.1 554.1z"/><path class="c30" d="M989.7 710L1009.8 704.1L1016.2 687L996.2 693.2z"/><path class="c33" d="M596.1 674.1L616.2 671.6L622.6 651.6L602.5 654.2z"/><path class="c28" d="M523 732.9L543 725.6L549.5 706.3L529.4 714.1z"/><path class="c32" d="M1036.3 681.4L1056.4 676.5L1062.8 659.4L1042.8 664.3z"/><path class="c23" d="M449.8 792.6L469.9 785.1L476.3 767.2L456.3 775.1z"/><path class="c23" d="M870 781.6L890 777.8L896.5 761.9L876.4 765.9z"/><path class="c17" d="M376.7 849.5L396.7 842.2L403.2 825.7L383.1 833.5z"/><path class="c35" d="M1082.9 654.6L1103 650.1L1109.4 633.3L1089.4 637.6z"/><path class="c23" d="M736.6 777L756.7 794.5L763.1 778.6L743.1 760.4z"/><path class="c22" d="M823.4 798.4L843.4 798.8L849.9 783.3L829.8 782.9z"/><path class="c26" d="M916.6 757.5L936.6 753.2L943.1 736.8L923 741.4z"/><path class="c44" d="M1315.9 536.6L1336 533L1342.5 531.4L1322.4 532.5z"/><path class="c37" d="M1129.5 629.2L1149.6 625.4L1156.1 609L1136 612.6z"/><path class="c22" d="M756.7 794.5L776.7 806.1L783.2 790.5L763.1 778.6z"/><path class="c25" d="M716.5 753.1L736.6 777L743.1 760.4L723 735.7z"/><path class="c43" d="M1402.7 529L1422.8 528L1429.2 564.2L1409.2 560z"/><path class="c39" d="M1176.1 605.6L1196.2 602.6L1202.7 586.2L1182.6 589.3z"/><path class="c41" d="M1222.7 583.3L1242.8 580.3L1249.3 563.8L1229.2 566.9z"/><path class="c28" d="M963.2 731.9L983.2 726.9L989.7 710L969.6 715.4z"/><path class="c31" d="M569.6 699.4L589.6 693.9L596.1 674.1L576 679.9z"/><path class="c43" d="M1269.3 560.4L1289.4 556.9L1295.9 540.1L1275.8 543.7z"/><path class="c26" d="M496.4 759.3L516.5 751.7L523 732.9L502.9 740.9z"/><path class="c33" d="M616.2 671.6L636.2 672.4L642.7 652.3L622.6 651.6z"/><path class="c20" d="M423.3 817.6L443.4 810.1L449.8 792.6L429.7 800.5z"/><path class="c27" d="M696.5 725.9L716.5 753.1L723 735.7L702.9 707.6z"/><path class="c30" d="M1009.8 704.1L1029.8 698.8L1036.3 681.4L1016.2 687z"/><path class="c21" d="M776.7 806.1L796.8 811.5L803.3 796L783.2 790.5z"/><path class="c16" d="M350.1 870.2L370.2 865.6L376.7 849.5L356.6 854.5z"/><path class="c33" d="M1056.4 676.5L1076.5 671.6L1082.9 654.6L1062.8 659.4z"/><path class="c22" d="M843.4 798.8L863.5 797.2L870 781.6L849.9 783.3z"/><path class="c29" d="M543 725.6L563.1 719L569.6 699.4L549.5 706.3z"/><path class="c24" d="M890 777.8L910.1 773.6L916.6 757.5L896.5 761.9z"/><path class="c44" d="M1422.8 528L1442.8 526.7L1449.3 567.4L1429.2 564.2z"/><path class="c24" d="M469.9 785.1L490 777.7L496.4 759.3L476.3 767.2z"/><path class="c33" d="M636.2 672.4L656.3 682.8L662.8 663L642.7 652.3z"/><path class="c30" d="M676.4 699.2L696.5 725.9L702.9 707.6L682.8 680z"/><path class="c35" d="M1103 650.1L1123.1 645.9L1129.5 629.2L1109.4 633.3z"/><path class="c45" d="M1336 533L1356.1 529.4L1362.5 530.1L1342.5 531.4z"/><path class="c26" d="M936.6 753.2L956.7 748.5L963.2 731.9L943.1 736.8z"/><path class="c37" d="M1149.6 625.4L1169.7 622L1176.1 605.6L1156.1 609z"/><path class="c18" d="M396.7 842.2L416.8 834.6L423.3 817.6L403.2 825.7z"/><path class="c39" d="M1196.2 602.6L1216.3 599.8L1222.7 583.3L1202.7 586.2z"/><path class="c32" d="M656.3 682.8L676.4 699.2L682.8 680L662.8 663z"/><path class="c41" d="M1242.8 580.3L1262.9 577L1269.3 560.4L1249.3 563.8z"/><path class="c21" d="M796.8 811.5L816.9 813.9L823.4 798.4L803.3 796z"/><path class="c32" d="M589.6 693.9L609.7 691.7L616.2 671.6L596.1 674.1z"/><path class="c44" d="M1289.4 556.9L1309.5 553.5L1315.9 536.6L1295.9 540.1z"/><path class="c29" d="M983.2 726.9L1003.3 721.2L1009.8 704.1L989.7 710z"/><path class="c27" d="M516.5 751.7L536.6 744.8L543 725.6L523 732.9z"/><path class="c21" d="M443.4 810.1L463.4 803.1L469.9 785.1L449.8 792.6z"/><path class="c31" d="M1029.8 698.8L1049.9 694L1056.4 676.5L1036.3 681.4z"/><path class="c44" d="M1442.8 526.7L1462.9 525L1469.4 569.4L1449.3 567.4z"/><path class="c22" d="M863.5 797.2L883.6 793.7L890 777.8L870 781.6z"/><path class="c17" d="M370.2 865.6L390.3 858.7L396.7 842.2L376.7 849.5z"/><path class="c34" d="M1076.5 671.6L1096.5 666.9L1103 650.1L1082.9 654.6z"/><path class="c22" d="M730.1 793.5L750.2 810.5L756.7 794.5L736.6 777z"/><path class="c45" d="M1356.1 529.4L1376.2 525.9L1382.6 529.4L1362.5 530.1z"/><path class="c25" d="M910.1 773.6L930.2 769.5L936.6 753.2L916.6 757.5z"/><path class="c21" d="M816.9 813.9L837 814.3L843.4 798.8L823.4 798.4z"/><path class="c30" d="M563.1 719L583.2 713.8L589.6 693.9L569.6 699.4z"/><path class="c36" d="M1123.1 645.9L1143.1 641.9L1149.6 625.4L1129.5 629.2z"/><path class="c24" d="M710.1 770.5L730.1 793.5L736.6 777L716.5 753.1z"/><path class="c21" d="M750.2 810.5L770.3 821.6L776.7 806.1L756.7 794.5z"/><path class="c38" d="M1169.7 622L1189.7 618.9L1196.2 602.6L1176.1 605.6z"/><path class="c40" d="M1216.3 599.8L1236.3 596.8L1242.8 580.3L1222.7 583.3z"/><path class="c32" d="M609.7 691.7L629.8 692.5L636.2 672.4L616.2 671.6z"/><path class="c27" d="M956.7 748.5L976.8 743.7L983.2 726.9L963.2 731.9z"/><path class="c25" d="M490 777.7L510 770.5L516.5 751.7L496.4 759.3z"/><path class="c42" d="M1262.9 577L1282.9 573.7L1289.4 556.9L1269.3 560.4z"/><path class="c44" d="M1309.5 553.5L1329.6 550L1336 533L1315.9 536.6z"/><path class="c19" d="M416.8 834.6L436.9 827.6L443.4 810.1L423.3 817.6z"/><path class="c26" d="M690 744.3L710.1 770.5L716.5 753.1L696.5 725.9z"/><path class="c29" d="M1003.3 721.2L1023.4 716.1L1029.8 698.8L1009.8 704.1z"/><path class="c20" d="M770.3 821.6L790.4 826.9L796.8 811.5L776.7 806.1z"/><path class="c28" d="M536.6 744.8L556.6 738.6L563.1 719L543 725.6z"/><path class="c32" d="M1049.9 694L1070 689.4L1076.5 671.6L1056.4 676.5z"/><path class="c15" d="M343.7 885.8L363.8 881.6L370.2 865.6L350.1 870.2z"/><path class="c32" d="M629.8 692.5L649.8 702.6L656.3 682.8L636.2 672.4z"/><path class="c28" d="M669.9 718.5L690 744.3L696.5 725.9L676.4 699.2z"/><path class="c22" d="M463.4 803.1L483.5 796L490 777.7L469.9 785.1z"/><path class="c21" d="M837 814.3L857 812.9L863.5 797.2L843.4 798.8z"/><path class="c23" d="M883.6 793.7L903.6 789.8L910.1 773.6L890 777.8z"/><path class="c46" d="M1376.2 525.9L1396.2 522.3L1402.7 529L1382.6 529.4z"/><path class="c34" d="M1096.5 666.9L1116.6 662.5L1123.1 645.9L1103 650.1z"/><path class="c30" d="M649.8 702.6L669.9 718.5L676.4 699.2L656.3 682.8z"/><path class="c25" d="M930.2 769.5L950.2 765.1L956.7 748.5L936.6 753.2z"/><path class="c30" d="M583.2 713.8L603.2 711.8L609.7 691.7L589.6 693.9z"/><path class="c18" d="M390.3 858.7L410.4 851.6L416.8 834.6L396.7 842.2z"/><path class="c37" d="M1143.1 641.9L1163.2 638.4L1169.7 622L1149.6 625.4z"/><path class="c39" d="M1189.7 618.9L1209.8 616.2L1216.3 599.8L1196.2 602.6z"/><path class="c41" d="M1236.3 596.8L1256.4 593.7L1262.9 577L1242.8 580.3z"/><path class="c20" d="M790.4 826.9L810.4 829.3L816.9 813.9L796.8 811.5z"/><path class="c43" d="M1282.9 573.7L1303 570.4L1309.5 553.5L1289.4 556.9z"/><path class="c28" d="M976.8 743.7L996.9 738.3L1003.3 721.2L983.2 726.9z"/><path class="c45" d="M1329.6 550L1349.6 546.6L1356.1 529.4L1336 533z"/><path class="c25" d="M510 770.5L530.1 764L536.6 744.8L516.5 751.7z"/><path class="c20" d="M436.9 827.6L457 821L463.4 803.1L443.4 810.1z"/><path class="c30" d="M1023.4 716.1L1043.5 711.6L1049.9 694L1029.8 698.8z"/><path class="c33" d="M1070 689.4L1090.1 684.9L1096.5 666.9L1076.5 671.6z"/><path class="c28" d="M556.6 738.6L576.7 733.7L583.2 713.8L563.1 719z"/><path class="c16" d="M363.8 881.6L383.8 875.3L390.3 858.7L370.2 865.6z"/><path class="c22" d="M857 812.9L877.1 809.6L883.6 793.7L863.5 797.2z"/><path class="c46" d="M1396.2 522.3L1416.3 518.7L1422.8 528L1402.7 529z"/><path class="c21" d="M723.7 810L743.8 826.4L750.2 810.5L730.1 793.5z"/><path class="c31" d="M603.2 711.8L623.3 712.7L629.8 692.5L609.7 691.7z"/><path class="c24" d="M903.6 789.8L923.7 785.9L930.2 769.5L910.1 773.6z"/><path class="c23" d="M703.6 787.8L723.7 810L730.1 793.5L710.1 770.5z"/><path class="c35" d="M1116.6 662.5L1136.7 658.4L1143.1 641.9L1123.1 645.9z"/><path class="c20" d="M810.4 829.3L830.5 829.9L837 814.3L816.9 813.9z"/><path class="c23" d="M483.5 796L503.6 789.3L510 770.5L490 777.7z"/><path class="c37" d="M1163.2 638.4L1183.3 635.3L1189.7 618.9L1169.7 622z"/><path class="c20" d="M743.8 826.4L763.8 837.2L770.3 821.6L750.2 810.5z"/><path class="c39" d="M1209.8 616.2L1229.9 613.4L1236.3 596.8L1216.3 599.8z"/><path class="c26" d="M950.2 765.1L970.3 760.5L976.8 743.7L956.7 748.5z"/><path class="c41" d="M1256.4 593.7L1276.5 590.5L1282.9 573.7L1262.9 577z"/><path class="c43" d="M1303 570.4L1323.1 567.1L1329.6 550L1309.5 553.5z"/><path class="c18" d="M410.4 851.6L430.4 845.1L436.9 827.6L416.8 834.6z"/><path class="c25" d="M683.5 762.6L703.6 787.8L710.1 770.5L690 744.3z"/><path class="c45" d="M1349.6 546.6L1369.7 543.1L1376.2 525.9L1356.1 529.4z"/><path class="c28" d="M996.9 738.3L1016.9 733.5L1023.4 716.1L1003.3 721.2z"/><path class="c26" d="M530.1 764L550.2 758.2L556.6 738.6L536.6 744.8z"/><path class="c30" d="M623.3 712.7L643.4 722.4L649.8 702.6L629.8 692.5z"/><path class="c19" d="M763.8 837.2L783.9 842.4L790.4 826.9L770.3 821.6z"/><path class="c31" d="M1043.5 711.6L1063.5 707.2L1070 689.4L1049.9 694z"/><path class="c27" d="M663.5 737.8L683.5 762.6L690 744.3L669.9 718.5z"/><path class="c14" d="M337.2 901.5L357.3 897.7L363.8 881.6L343.7 885.8z"/><path class="c21" d="M457 821L477 814.4L483.5 796L463.4 803.1z"/><path class="c29" d="M643.4 722.4L663.5 737.8L669.9 718.5L649.8 702.6z"/><path class="c47" d="M1416.3 518.7L1436.4 515.1L1442.8 526.7L1422.8 528z"/><path class="c29" d="M576.7 733.7L596.8 731.8L603.2 711.8L583.2 713.8z"/><path class="c33" d="M1090.1 684.9L1110.1 680.7L1116.6 662.5L1096.5 666.9z"/><path class="c22" d="M877.1 809.6L897.2 805.9L903.6 789.8L883.6 793.7z"/><path class="c20" d="M830.5 829.9L850.6 828.6L857 812.9L837 814.3z"/><path class="c24" d="M923.7 785.9L943.8 781.7L950.2 765.1L930.2 769.5z"/><path class="c17" d="M383.8 875.3L403.9 868.6L410.4 851.6L390.3 858.7z"/><path class="c36" d="M1136.7 658.4L1156.7 654.8L1163.2 638.4L1143.1 641.9z"/><path class="c38" d="M1183.3 635.3L1203.3 632.6L1209.8 616.2L1189.7 618.9z"/><path class="c40" d="M1229.9 613.4L1250 610.4L1256.4 593.7L1236.3 596.8z"/><path class="c42" d="M1276.5 590.5L1296.6 587.3L1303 570.4L1282.9 573.7z"/><path class="c24" d="M503.6 789.3L523.6 783.2L530.1 764L510 770.5z"/><path class="c27" d="M970.3 760.5L990.4 755.4L996.9 738.3L976.8 743.7z"/><path class="c19" d="M783.9 842.4L804 844.8L810.4 829.3L790.4 826.9z"/><path class="c44" d="M1323.1 567.1L1343.2 563.8L1349.6 546.6L1329.6 550z"/><path class="c46" d="M1369.7 543.1L1389.8 539.7L1396.2 522.3L1376.2 525.9z"/><path class="c19" d="M430.4 845.1L450.5 838.9L457 821L436.9 827.6z"/><path class="c29" d="M1016.9 733.5L1037 729.2L1043.5 711.6L1023.4 716.1z"/><path class="c27" d="M550.2 758.2L570.2 753.6L576.7 733.7L556.6 738.6z"/><path class="c32" d="M1063.5 707.2L1083.6 702.9L1090.1 684.9L1070 689.4z"/><path class="c29" d="M596.8 731.8L616.9 732.8L623.3 712.7L603.2 711.8z"/><path class="c15" d="M357.3 897.7L377.4 891.8L383.8 875.3L363.8 881.6z"/><path class="c47" d="M1436.4 515.1L1456.5 511.5L1462.9 525L1442.8 526.7z"/><path class="c21" d="M850.6 828.6L870.6 825.5L877.1 809.6L857 812.9z"/><path class="c20" d="M717.2 826.6L737.3 842.4L743.8 826.4L723.7 810z"/><path class="c22" d="M477 814.4L497.1 808.1L503.6 789.3L483.5 796z"/><path class="c34" d="M1110.1 680.7L1130.2 676.8L1136.7 658.4L1116.6 662.5z"/><path class="c23" d="M897.2 805.9L917.3 802.2L923.7 785.9L903.6 789.8z"/><path class="c22" d="M697.1 805.2L717.2 826.6L723.7 810L703.6 787.8z"/><path class="c19" d="M804 844.8L824 845.4L830.5 829.9L810.4 829.3z"/><path class="c36" d="M1156.7 654.8L1176.8 651.6L1183.3 635.3L1163.2 638.4z"/><path class="c25" d="M943.8 781.7L963.9 777.4L970.3 760.5L950.2 765.1z"/><path class="c38" d="M1203.3 632.6L1223.4 629.9L1229.9 613.4L1209.8 616.2z"/><path class="c19" d="M737.3 842.4L757.4 852.8L763.8 837.2L743.8 826.4z"/><path class="c40" d="M1250 610.4L1270 607.3L1276.5 590.5L1256.4 593.7z"/><path class="c42" d="M1296.6 587.3L1316.6 584.1L1323.1 567.1L1303 570.4z"/><path class="c17" d="M403.9 868.6L424 862.6L430.4 845.1L410.4 851.6z"/><path class="c24" d="M677.1 780.9L697.1 805.2L703.6 787.8L683.5 762.6z"/><path class="c44" d="M1343.2 563.8L1363.2 560.4L1369.7 543.1L1349.6 546.6z"/><path class="c27" d="M990.4 755.4L1010.5 750.8L1016.9 733.5L996.9 738.3z"/><path class="c29" d="M616.9 732.8L636.9 742.2L643.4 722.4L623.3 712.7z"/><path class="c25" d="M523.6 783.2L543.7 777.7L550.2 758.2L530.1 764z"/><path class="c47" d="M1389.8 539.7L1409.8 536.2L1416.3 518.7L1396.2 522.3z"/><path class="c26" d="M657 757L677.1 780.9L683.5 762.6L663.5 737.8z"/><path class="c30" d="M1037 729.2L1057.1 725L1063.5 707.2L1043.5 711.6z"/><path class="c18" d="M757.4 852.8L777.4 857.9L783.9 842.4L763.8 837.2z"/><path class="c20" d="M450.5 838.9L470.6 832.8L477 814.4L457 821z"/><path class="c28" d="M636.9 742.2L657 757L663.5 737.8L643.4 722.4z"/><path class="c28" d="M570.2 753.6L590.3 751.9L596.8 731.8L576.7 733.7z"/><path class="c13" d="M330.8 917.2L350.8 913.7L357.3 897.7L337.2 901.5z"/><path class="c32" d="M1083.6 702.9L1103.7 698.9L1110.1 680.7L1090.1 684.9z"/><path class="c21" d="M870.6 825.5L890.7 822L897.2 805.9L877.1 809.6z"/><path class="c19" d="M824 845.4L844.1 844.3L850.6 828.6L830.5 829.9z"/><path class="c35" d="M1130.2 676.8L1150.3 673.4L1156.7 654.8L1136.7 658.4z"/><path class="c16" d="M377.4 891.8L397.4 885.7L403.9 868.6L383.8 875.3z"/><path class="c23" d="M917.3 802.2L937.3 798.3L943.8 781.7L923.7 785.9z"/><path class="c23" d="M497.1 808.1L517.2 802.4L523.6 783.2L503.6 789.3z"/><path class="c37" d="M1176.8 651.6L1196.9 649L1203.3 632.6L1183.3 635.3z"/><path class="c39" d="M1223.4 629.9L1243.5 627L1250 610.4L1229.9 613.4z"/><path class="c41" d="M1270 607.3L1290.1 604.2L1296.6 587.3L1276.5 590.5z"/><path class="c26" d="M963.9 777.4L983.9 772.5L990.4 755.4L970.3 760.5z"/><path class="c43" d="M1316.6 584.1L1336.7 580.9L1343.2 563.8L1323.1 567.1z"/><path class="c18" d="M777.4 857.9L797.5 860.3L804 844.8L783.9 842.4z"/><path class="c45" d="M1363.2 560.4L1383.3 557.1L1389.8 539.7L1369.7 543.1z"/><path class="c18" d="M424 862.6L444 856.9L450.5 838.9L430.4 845.1z"/><path class="c28" d="M1010.5 750.8L1030.5 746.7L1037 729.2L1016.9 733.5z"/><path class="c47" d="M1409.8 536.2L1429.9 532.8L1436.4 515.1L1416.3 518.7z"/><path class="c26" d="M543.7 777.7L563.8 773.5L570.2 753.6L550.2 758.2z"/><path class="c28" d="M590.3 751.9L610.4 752.9L616.9 732.8L596.8 731.8z"/><path class="c30" d="M1057.1 725L1077.1 721L1083.6 702.9L1063.5 707.2z"/><path class="c21" d="M470.6 832.8L490.7 826.9L497.1 808.1L477 814.4z"/><path class="c14" d="M350.8 913.7L370.9 908.3L377.4 891.8L357.3 897.7z"/><path class="c33" d="M1103.7 698.9L1123.8 695.2L1130.2 676.8L1110.1 680.7z"/><path class="c20" d="M844.1 844.3L864.2 841.4L870.6 825.5L850.6 828.6z"/><path class="c19" d="M710.8 843.1L730.8 858.3L737.3 842.4L717.2 826.6z"/><path class="c21" d="M690.7 822.6L710.8 843.1L717.2 826.6L697.1 805.2z"/><path class="c22" d="M890.7 822L910.8 818.6L917.3 802.2L897.2 805.9z"/><path class="c35" d="M1150.3 673.4L1170.4 670.4L1176.8 651.6L1156.7 654.8z"/><path class="c24" d="M937.3 798.3L957.4 794.2L963.9 777.4L943.8 781.7z"/><path class="c18" d="M797.5 860.3L817.6 860.9L824 845.4L804 844.8z"/><path class="c37" d="M1196.9 649L1217 646.5L1223.4 629.9L1203.3 632.6z"/><path class="c39" d="M1243.5 627L1263.6 624.1L1270 607.3L1250 610.4z"/><path class="c18" d="M730.8 858.3L750.9 868.4L757.4 852.8L737.3 842.4z"/><path class="c23" d="M670.6 799.2L690.7 822.6L697.1 805.2L677.1 780.9z"/><path class="c16" d="M397.4 885.7L417.5 880.1L424 862.6L403.9 868.6z"/><path class="c41" d="M1290.1 604.2L1310.2 601.2L1316.6 584.1L1296.6 587.3z"/><path class="c28" d="M610.4 752.9L630.5 762L636.9 742.2L616.9 732.8z"/><path class="c24" d="M517.2 802.4L537.3 797.3L543.7 777.7L523.6 783.2z"/><path class="c43" d="M1336.7 580.9L1356.8 577.7L1363.2 560.4L1343.2 563.8z"/><path class="c26" d="M983.9 772.5L1004 768.1L1010.5 750.8L990.4 755.4z"/><path class="c45" d="M1383.3 557.1L1403.4 553.8L1409.8 536.2L1389.8 539.7z"/><path class="c25" d="M650.5 776.3L670.6 799.2L677.1 780.9L657 757z"/><path class="c27" d="M630.5 762L650.5 776.3L657 757L636.9 742.2z"/><path class="c29" d="M1030.5 746.7L1050.6 742.8L1057.1 725L1037 729.2z"/><path class="c26" d="M563.8 773.5L583.9 771.9L590.3 751.9L570.2 753.6z"/><path class="c48" d="M1429.9 532.8L1450 529.3L1456.5 511.5L1436.4 515.1z"/><path class="c19" d="M444 856.9L464.1 851.2L470.6 832.8L450.5 838.9z"/><path class="c18" d="M750.9 868.4L771 873.3L777.4 857.9L757.4 852.8z"/><path class="c31" d="M1077.1 721L1097.2 717.2L1103.7 698.9L1083.6 702.9z"/><path class="c12" d="M324.3 932.9L344.4 929.8L350.8 913.7L330.8 917.2z"/><path class="c33" d="M1123.8 695.2L1143.8 692L1150.3 673.4L1130.2 676.8z"/><path class="c20" d="M864.2 841.4L884.3 838.1L890.7 822L870.6 825.5z"/><path class="c22" d="M490.7 826.9L510.7 821.6L517.2 802.4L497.1 808.1z"/><path class="c19" d="M817.6 860.9L837.7 859.9L844.1 844.3L824 845.4z"/><path class="c15" d="M370.9 908.3L391 902.7L397.4 885.7L377.4 891.8z"/><path class="c22" d="M910.8 818.6L930.9 814.9L937.3 798.3L917.3 802.2z"/><path class="c36" d="M1170.4 670.4L1190.4 668L1196.9 649L1176.8 651.6z"/><path class="c38" d="M1217 646.5L1237 643.7L1243.5 627L1223.4 629.9z"/><path class="c40" d="M1263.6 624.1L1283.6 621.2L1290.1 604.2L1270 607.3z"/><path class="c25" d="M957.4 794.2L977.5 789.6L983.9 772.5L963.9 777.4z"/><path class="c42" d="M1310.2 601.2L1330.2 598.1L1336.7 580.9L1316.6 584.1z"/><path class="c44" d="M1356.8 577.7L1376.9 574.5L1383.3 557.1L1363.2 560.4z"/><path class="c17" d="M417.5 880.1L437.6 874.8L444 856.9L424 862.6z"/><path class="c25" d="M537.3 797.3L557.3 793.3L563.8 773.5L543.7 777.7z"/><path class="c17" d="M771 873.3L791.1 875.7L797.5 860.3L777.4 857.9z"/><path class="c27" d="M1004 768.1L1024.1 764.3L1030.5 746.7L1010.5 750.8z"/><path class="c27" d="M583.9 771.9L603.9 773L610.4 752.9L590.3 751.9z"/><path class="c46" d="M1403.4 553.8L1423.5 550.4L1429.9 532.8L1409.8 536.2z"/><path class="c29" d="M1050.6 742.8L1070.7 739L1077.1 721L1057.1 725z"/><path class="c20" d="M464.1 851.2L484.2 845.7L490.7 826.9L470.6 832.8z"/><path class="c32" d="M1097.2 717.2L1117.3 713.7L1123.8 695.2L1103.7 698.9z"/><path class="c13" d="M344.4 929.8L364.4 924.9L370.9 908.3L350.8 913.7z"/><path class="c20" d="M684.2 839.9L704.3 859.6L710.8 843.1L690.7 822.6z"/><path class="c18" d="M704.3 859.6L724.4 874.3L730.8 858.3L710.8 843.1z"/><path class="c34" d="M1143.8 692L1163.9 689.1L1170.4 670.4L1150.3 673.4z"/><path class="c19" d="M837.7 859.9L857.7 857.2L864.2 841.4L844.1 844.3z"/><path class="c21" d="M884.3 838.1L904.3 834.9L910.8 818.6L890.7 822z"/><path class="c26" d="M603.9 773L624 781.8L630.5 762L610.4 752.9z"/><path class="c36" d="M1190.4 668L1210.5 665.5L1217 646.5L1196.9 649z"/><path class="c23" d="M930.9 814.9L950.9 811L957.4 794.2L937.3 798.3z"/><path class="c22" d="M664.2 817.6L684.2 839.9L690.7 822.6L670.6 799.2z"/><path class="c23" d="M510.7 821.6L530.8 816.9L537.3 797.3L517.2 802.4z"/><path class="c38" d="M1237 643.7L1257.1 640.9L1263.6 624.1L1243.5 627z"/><path class="c17" d="M791.1 875.7L811.1 876.5L817.6 860.9L797.5 860.3z"/><path class="c15" d="M391 902.7L411.1 897.6L417.5 880.1L397.4 885.7z"/><path class="c40" d="M1283.6 621.2L1303.7 618.2L1310.2 601.2L1290.1 604.2z"/><path class="c17" d="M724.4 874.3L744.4 884L750.9 868.4L730.8 858.3z"/><path class="c42" d="M1330.2 598.1L1350.3 595L1356.8 577.7L1336.7 580.9z"/><path class="c25" d="M977.5 789.6L997.5 785.5L1004 768.1L983.9 772.5z"/><path class="c24" d="M644.1 795.5L664.2 817.6L670.6 799.2L650.5 776.3z"/><path class="c25" d="M624 781.8L644.1 795.5L650.5 776.3L630.5 762z"/><path class="c44" d="M1376.9 574.5L1396.9 571.3L1403.4 553.8L1383.3 557.1z"/><path class="c25" d="M557.3 793.3L577.4 792L583.9 771.9L563.8 773.5z"/><path class="c28" d="M1024.1 764.3L1044.2 760.6L1050.6 742.8L1030.5 746.7z"/><path class="c18" d="M437.6 874.8L457.7 869.5L464.1 851.2L444 856.9z"/><path class="c47" d="M1423.5 550.4L1443.5 547.1L1450 529.3L1429.9 532.8z"/><path class="c30" d="M1070.7 739L1090.8 735.4L1097.2 717.2L1077.1 721z"/><path class="c17" d="M744.4 884L764.5 888.8L771 873.3L750.9 868.4z"/><path class="c11" d="M317.8 948.6L337.9 945.8L344.4 929.8L324.3 932.9z"/><path class="c32" d="M1117.3 713.7L1137.4 710.6L1143.8 692L1123.8 695.2z"/><path class="c21" d="M484.2 845.7L504.3 840.8L510.7 821.6L490.7 826.9z"/><path class="c34" d="M1163.9 689.1L1184 686.9L1190.4 668L1170.4 670.4z"/><path class="c20" d="M857.7 857.2L877.8 854.2L884.3 838.1L864.2 841.4z"/><path class="c14" d="M364.4 924.9L384.5 919.7L391 902.7L370.9 908.3z"/><path class="c22" d="M904.3 834.9L924.4 831.5L930.9 814.9L910.8 818.6z"/><path class="c18" d="M811.1 876.5L831.2 875.6L837.7 859.9L817.6 860.9z"/><path class="c37" d="M1210.5 665.5L1230.6 662.9L1237 643.7L1217 646.5z"/><path class="c39" d="M1257.1 640.9L1277.2 638.1L1283.6 621.2L1263.6 624.1z"/><path class="c24" d="M950.9 811L971 806.7L977.5 789.6L957.4 794.2z"/><path class="c23" d="M530.8 816.9L550.9 813.2L557.3 793.3L537.3 797.3z"/><path class="c41" d="M1303.7 618.2L1323.8 615.3L1330.2 598.1L1310.2 601.2z"/><path class="c25" d="M577.4 792L597.5 793.1L603.9 773L583.9 771.9z"/><path class="c16" d="M411.1 897.6L431.1 892.7L437.6 874.8L417.5 880.1z"/><path class="c43" d="M1350.3 595L1370.4 591.9L1376.9 574.5L1356.8 577.7z"/><path class="c26" d="M997.5 785.5L1017.6 781.9L1024.1 764.3L1004 768.1z"/><path class="c45" d="M1396.9 571.3L1417 568.1L1423.5 550.4L1403.4 553.8z"/><path class="c17" d="M764.5 888.8L784.6 891.2L791.1 875.7L771 873.3z"/><path class="c28" d="M1044.2 760.6L1064.2 757L1070.7 739L1050.6 742.8z"/><path class="c19" d="M457.7 869.5L477.7 864.5L484.2 845.7L464.1 851.2z"/><path class="c31" d="M1090.8 735.4L1110.8 732.1L1117.3 713.7L1097.2 717.2z"/><path class="c33" d="M1137.4 710.6L1157.4 707.9L1163.9 689.1L1143.8 692z"/><path class="c12" d="M337.9 945.8L358 941.4L364.4 924.9L344.4 929.8z"/><path class="c25" d="M597.5 793.1L617.5 801.6L624 781.8L603.9 773z"/><path class="c19" d="M677.8 857.3L697.8 876.2L704.3 859.6L684.2 839.9z"/><path class="c35" d="M1184 686.9L1204 684.6L1210.5 665.5L1190.4 668z"/><path class="c17" d="M697.8 876.2L717.9 890.2L724.4 874.3L704.3 859.6z"/><path class="c21" d="M504.3 840.8L524.3 836.4L530.8 816.9L510.7 821.6z"/><path class="c18" d="M831.2 875.6L851.3 873.1L857.7 857.2L837.7 859.9z"/><path class="c20" d="M877.8 854.2L897.9 851.2L904.3 834.9L884.3 838.1z"/><path class="c21" d="M657.7 835.9L677.8 857.3L684.2 839.9L664.2 817.6z"/><path class="c37" d="M1230.6 662.9L1250.6 660.3L1257.1 640.9L1237 643.7z"/><path class="c22" d="M924.4 831.5L944.5 827.9L950.9 811L930.9 814.9z"/><path class="c14" d="M384.5 919.7L404.6 915L411.1 897.6L391 902.7z"/><path class="c39" d="M1277.2 638.1L1297.3 635.3L1303.7 618.2L1283.6 621.2z"/><path class="c24" d="M550.9 813.2L570.9 812.1L577.4 792L557.3 793.3z"/><path class="c17" d="M784.6 891.2L804.7 892L811.1 876.5L791.1 875.7z"/><path class="c24" d="M617.5 801.6L637.6 814.8L644.1 795.5L624 781.8z"/><path class="c41" d="M1323.8 615.3L1343.9 612.3L1350.3 595L1330.2 598.1z"/><path class="c23" d="M637.6 814.8L657.7 835.9L664.2 817.6L644.1 795.5z"/><path class="c16" d="M717.9 890.2L738 899.6L744.4 884L724.4 874.3z"/><path class="c24" d="M971 806.7L991.1 802.8L997.5 785.5L977.5 789.6z"/><path class="c43" d="M1370.4 591.9L1390.5 588.9L1396.9 571.3L1376.9 574.5z"/><path class="c27" d="M1017.6 781.9L1037.7 778.3L1044.2 760.6L1024.1 764.3z"/><path class="c17" d="M431.1 892.7L451.2 887.9L457.7 869.5L437.6 874.8z"/><path class="c46" d="M1417 568.1L1437.1 564.9L1443.5 547.1L1423.5 550.4z"/><path class="c29" d="M1064.2 757L1084.3 753.6L1090.8 735.4L1070.7 739z"/><path class="c31" d="M1110.8 732.1L1130.9 729.2L1137.4 710.6L1117.3 713.7z"/><path class="c20" d="M477.7 864.5L497.8 860L504.3 840.8L484.2 845.7z"/><path class="c16" d="M738 899.6L758.1 904.3L764.5 888.8L744.4 884z"/><path class="c33" d="M1157.4 707.9L1177.5 705.8L1184 686.9L1163.9 689.1z"/><path class="c11" d="M311.4 964.3L331.5 961.9L337.9 945.8L317.8 948.6z"/><path class="c35" d="M1204 684.6L1224.1 682.2L1230.6 662.9L1210.5 665.5z"/><path class="c13" d="M358 941.4L378.1 936.7L384.5 919.7L364.4 924.9z"/><path class="c19" d="M851.3 873.1L871.3 870.4L877.8 854.2L857.7 857.2z"/><path class="c21" d="M897.9 851.2L917.9 848L924.4 831.5L904.3 834.9z"/><path class="c22" d="M524.3 836.4L544.4 833.1L550.9 813.2L530.8 816.9z"/><path class="c38" d="M1250.6 660.3L1270.7 657.6L1277.2 638.1L1257.1 640.9z"/><path class="c24" d="M570.9 812.1L591 813.3L597.5 793.1L577.4 792z"/><path class="c17" d="M804.7 892L824.7 891.3L831.2 875.6L811.1 876.5z"/><path class="c23" d="M944.5 827.9L964.6 823.8L971 806.7L950.9 811z"/><path class="c40" d="M1297.3 635.3L1317.3 632.4L1323.8 615.3L1303.7 618.2z"/><path class="c15" d="M404.6 915L424.7 910.7L431.1 892.7L411.1 897.6z"/><path class="c42" d="M1343.9 612.3L1363.9 609.4L1370.4 591.9L1350.3 595z"/><path class="c25" d="M991.1 802.8L1011.2 799.4L1017.6 781.9L997.5 785.5z"/><path class="c44" d="M1390.5 588.9L1410.5 585.8L1417 568.1L1396.9 571.3z"/><path class="c27" d="M1037.7 778.3L1057.8 775L1064.2 757L1044.2 760.6z"/><path class="c16" d="M758.1 904.3L778.1 906.6L784.6 891.2L764.5 888.8z"/><path class="c18" d="M451.2 887.9L471.3 883.3L477.7 864.5L457.7 869.5z"/><path class="c30" d="M1084.3 753.6L1104.4 750.5L1110.8 732.1L1090.8 735.4z"/><path class="c24" d="M591 813.3L611.1 821.4L617.5 801.6L597.5 793.1z"/><path class="c32" d="M1130.9 729.2L1151 726.7L1157.4 707.9L1137.4 710.6z"/><path class="c34" d="M1177.5 705.8L1197.6 703.7L1204 684.6L1184 686.9z"/><path class="c20" d="M497.8 860L517.9 856L524.3 836.4L504.3 840.8z"/><path class="c18" d="M671.3 874.6L691.4 892.7L697.8 876.2L677.8 857.3z"/><path class="c11" d="M331.5 961.9L351.5 957.9L358 941.4L337.9 945.8z"/><path class="c36" d="M1224.1 682.2L1244.2 679.7L1250.6 660.3L1230.6 662.9z"/><path class="c16" d="M691.4 892.7L711.5 906.1L717.9 890.2L697.8 876.2z"/><path class="c20" d="M651.2 854.2L671.3 874.6L677.8 857.3L657.7 835.9z"/><path class="c19" d="M871.3 870.4L891.4 867.6L897.9 851.2L877.8 854.2z"/><path class="c23" d="M544.4 833.1L564.5 832.1L570.9 812.1L550.9 813.2z"/><path class="c17" d="M824.7 891.3L844.8 889L851.3 873.1L831.2 875.6z"/><path class="c23" d="M611.1 821.4L631.2 834.1L637.6 814.8L617.5 801.6z"/><path class="c21" d="M917.9 848L938 844.7L944.5 827.9L924.4 831.5z"/><path class="c38" d="M1270.7 657.6L1290.8 655L1297.3 635.3L1277.2 638.1z"/><path class="c13" d="M378.1 936.7L398.1 932.5L404.6 915L384.5 919.7z"/><path class="c21" d="M631.2 834.1L651.2 854.2L657.7 835.9L637.6 814.8z"/><path class="c40" d="M1317.3 632.4L1337.4 629.6L1343.9 612.3L1323.8 615.3z"/><path class="c23" d="M964.6 823.8L984.6 820.2L991.1 802.8L971 806.7z"/><path class="c16" d="M778.1 906.6L798.2 907.5L804.7 892L784.6 891.2z"/><path class="c42" d="M1363.9 609.4L1384 606.4L1390.5 588.9L1370.4 591.9z"/><path class="c16" d="M711.5 906.1L731.5 915.2L738 899.6L717.9 890.2z"/><path class="c16" d="M424.7 910.7L444.7 906.3L451.2 887.9L431.1 892.7z"/><path class="c26" d="M1011.2 799.4L1031.2 796.1L1037.7 778.3L1017.6 781.9z"/><path class="c45" d="M1410.5 585.8L1430.6 582.7L1437.1 564.9L1417 568.1z"/><path class="c28" d="M1057.8 775L1077.8 771.8L1084.3 753.6L1064.2 757z"/><path class="c18" d="M471.3 883.3L491.3 879.2L497.8 860L477.7 864.5z"/><path class="c30" d="M1104.4 750.5L1124.4 747.8L1130.9 729.2L1110.8 732.1z"/><path class="c32" d="M1151 726.7L1171 724.7L1177.5 705.8L1157.4 707.9z"/><path class="c34" d="M1197.6 703.7L1217.7 701.4L1224.1 682.2L1204 684.6z"/><path class="c15" d="M731.5 915.2L751.6 919.7L758.1 904.3L738 899.6z"/><path class="c10" d="M304.9 980L325 977.9L331.5 961.9L311.4 964.3z"/><path class="c21" d="M517.9 856L537.9 853L544.4 833.1L524.3 836.4z"/><path class="c23" d="M564.5 832.1L584.6 833.4L591 813.3L570.9 812.1z"/><path class="c36" d="M1244.2 679.7L1264.3 677.2L1270.7 657.6L1250.6 660.3z"/><path class="c12" d="M351.5 957.9L371.6 953.8L378.1 936.7L358 941.4z"/><path class="c18" d="M844.8 889L864.9 886.5L871.3 870.4L851.3 873.1z"/><path class="c20" d="M891.4 867.6L911.5 864.6L917.9 848L897.9 851.2z"/><path class="c39" d="M1290.8 655L1310.9 652.3L1317.3 632.4L1297.3 635.3z"/><path class="c16" d="M798.2 907.5L818.3 907L824.7 891.3L804.7 892z"/><path class="c22" d="M938 844.7L958.1 840.9L964.6 823.8L944.5 827.9z"/><path class="c14" d="M398.1 932.5L418.2 928.6L424.7 910.7L404.6 915z"/><path class="c41" d="M1337.4 629.6L1357.5 626.8L1363.9 609.4L1343.9 612.3z"/><path class="c24" d="M984.6 820.2L1004.7 817L1011.2 799.4L991.1 802.8z"/><path class="c43" d="M1384 606.4L1404.1 603.4L1410.5 585.8L1390.5 588.9z"/><path class="c26" d="M1031.2 796.1L1051.3 793L1057.8 775L1037.7 778.3z"/><path class="c17" d="M444.7 906.3L464.8 902.1L471.3 883.3L451.2 887.9z"/><path class="c15" d="M751.6 919.7L771.7 922.1L778.1 906.6L758.1 904.3z"/><path class="c28" d="M1077.8 771.8L1097.9 768.9L1104.4 750.5L1084.3 753.6z"/><path class="c23" d="M584.6 833.4L604.6 841.3L611.1 821.4L591 813.3z"/><path class="c31" d="M1124.4 747.8L1144.5 745.4L1151 726.7L1130.9 729.2z"/><path class="c19" d="M491.3 879.2L511.4 875.6L517.9 856L497.8 860z"/><path class="c33" d="M1171 724.7L1191.1 722.8L1197.6 703.7L1177.5 705.8z"/><path class="c35" d="M1217.7 701.4L1237.7 699L1244.2 679.7L1224.1 682.2z"/><path class="c21" d="M537.9 853L558 852.2L564.5 832.1L544.4 833.1z"/><path class="c17" d="M664.8 892L684.9 909.2L691.4 892.7L671.3 874.6z"/><path class="c10" d="M325 977.9L345.1 974.5L351.5 957.9L331.5 961.9z"/><path class="c19" d="M644.8 872.5L664.8 892L671.3 874.6L651.2 854.2z"/><path class="c22" d="M604.6 841.3L624.7 853.3L631.2 834.1L611.1 821.4z"/><path class="c37" d="M1264.3 677.2L1284.3 674.7L1290.8 655L1270.7 657.6z"/><path class="c16" d="M684.9 909.2L705 922.1L711.5 906.1L691.4 892.7z"/><path class="c20" d="M624.7 853.3L644.8 872.5L651.2 854.2L631.2 834.1z"/><path class="c18" d="M864.9 886.5L885 883.9L891.4 867.6L871.3 870.4z"/><path class="c12" d="M371.6 953.8L391.7 950L398.1 932.5L378.1 936.7z"/><path class="c20" d="M911.5 864.6L931.6 861.5L938 844.7L917.9 848z"/><path class="c16" d="M818.3 907L838.3 904.9L844.8 889L824.7 891.3z"/><path class="c39" d="M1310.9 652.3L1330.9 649.6L1337.4 629.6L1317.3 632.4z"/><path class="c22" d="M958.1 840.9L978.2 837.5L984.6 820.2L964.6 823.8z"/><path class="c41" d="M1357.5 626.8L1377.5 623.9L1384 606.4L1363.9 609.4z"/><path class="c15" d="M418.2 928.6L438.3 924.7L444.7 906.3L424.7 910.7z"/><path class="c25" d="M1004.7 817L1024.8 813.9L1031.2 796.1L1011.2 799.4z"/><path class="c15" d="M771.7 922.1L791.7 923.1L798.2 907.5L778.1 906.6z"/><path class="c43" d="M1404.1 603.4L1424.2 600.5L1430.6 582.7L1410.5 585.8z"/><path class="c15" d="M705 922.1L725.1 930.8L731.5 915.2L711.5 906.1z"/><path class="c27" d="M1051.3 793L1071.4 790L1077.8 771.8L1057.8 775z"/><path class="c17" d="M464.8 902.1L484.9 898.4L491.3 879.2L471.3 883.3z"/><path class="c29" d="M1097.9 768.9L1118 766.4L1124.4 747.8L1104.4 750.5z"/><path class="c31" d="M1144.5 745.4L1164.6 743.6L1171 724.7L1151 726.7z"/><path class="c33" d="M1191.1 722.8L1211.2 720.6L1217.7 701.4L1197.6 703.7z"/><path class="c21" d="M558 852.2L578.1 853.5L584.6 833.4L564.5 832.1z"/><path class="c20" d="M511.4 875.6L531.5 872.9L537.9 853L517.9 856z"/><path class="c35" d="M1237.7 699L1257.8 696.7L1264.3 677.2L1244.2 679.7z"/><path class="c14" d="M725.1 930.8L745.1 935.2L751.6 919.7L731.5 915.2z"/><path class="c9" d="M298.5 995.7L318.5 994L325 977.9L304.9 980z"/><path class="c37" d="M1284.3 674.7L1304.4 672.2L1310.9 652.3L1290.8 655z"/><path class="c11" d="M345.1 974.5L365.1 970.8L371.6 953.8L351.5 957.9z"/><path class="c19" d="M885 883.9L905 881.2L911.5 864.6L891.4 867.6z"/><path class="c17" d="M838.3 904.9L858.4 902.6L864.9 886.5L844.8 889z"/><path class="c40" d="M1330.9 649.6L1351 647L1357.5 626.8L1337.4 629.6z"/><path class="c21" d="M931.6 861.5L951.6 858L958.1 840.9L938 844.7z"/><path class="c13" d="M391.7 950L411.7 946.5L418.2 928.6L398.1 932.5z"/><path class="c15" d="M791.7 923.1L811.8 922.6L818.3 907L798.2 907.5z"/><path class="c23" d="M978.2 837.5L998.2 834.6L1004.7 817L984.6 820.2z"/><path class="c42" d="M1377.5 623.9L1397.6 621.1L1404.1 603.4L1384 606.4z"/><path class="c25" d="M1024.8 813.9L1044.8 811L1051.3 793L1031.2 796.1z"/><path class="c15" d="M438.3 924.7L458.4 920.9L464.8 902.1L444.7 906.3z"/><path class="c21" d="M578.1 853.5L598.2 861.1L604.6 841.3L584.6 833.4z"/><path class="c27" d="M1071.4 790L1091.5 787.3L1097.9 768.9L1077.8 771.8z"/><path class="c29" d="M1118 766.4L1138.1 764.2L1144.5 745.4L1124.4 747.8z"/><path class="c18" d="M484.9 898.4L505 895.1L511.4 875.6L491.3 879.2z"/><path class="c14" d="M745.1 935.2L765.2 937.6L771.7 922.1L751.6 919.7z"/><path class="c31" d="M1164.6 743.6L1184.7 741.8L1191.1 722.8L1171 724.7z"/><path class="c33" d="M1211.2 720.6L1231.3 718.4L1237.7 699L1217.7 701.4z"/><path class="c20" d="M531.5 872.9L551.6 872.3L558 852.2L537.9 853z"/><path class="c20" d="M598.2 861.1L618.2 872.6L624.7 853.3L604.6 841.3z"/><path class="c36" d="M1257.8 696.7L1277.9 694.4L1284.3 674.7L1264.3 677.2z"/><path class="c16" d="M658.4 909.4L678.5 925.8L684.9 909.2L664.8 892z"/><path class="c17" d="M638.3 890.8L658.4 909.4L664.8 892L644.8 872.5z"/><path class="c19" d="M618.2 872.6L638.3 890.8L644.8 872.5L624.7 853.3z"/><path class="c9" d="M318.5 994L338.6 991L345.1 974.5L325 977.9z"/><path class="c38" d="M1304.4 672.2L1324.5 669.7L1330.9 649.6L1310.9 652.3z"/><path class="c15" d="M678.5 925.8L698.5 938L705 922.1L684.9 909.2z"/><path class="c11" d="M365.1 970.8L385.2 967.5L391.7 950L371.6 953.8z"/><path class="c17" d="M858.4 902.6L878.5 900.3L885 883.9L864.9 886.5z"/><path class="c19" d="M905 881.2L925.1 878.3L931.6 861.5L911.5 864.6z"/><path class="c16" d="M811.8 922.6L831.9 920.8L838.3 904.9L818.3 907z"/><path class="c40" d="M1351 647L1371.1 644.3L1377.5 623.9L1357.5 626.8z"/><path class="c21" d="M951.6 858L971.7 854.9L978.2 837.5L958.1 840.9z"/><path class="c14" d="M411.7 946.5L431.8 943L438.3 924.7L418.2 928.6z"/><path class="c24" d="M998.2 834.6L1018.3 831.7L1024.8 813.9L1004.7 817z"/><path class="c42" d="M1397.6 621.1L1417.7 618.3L1424.2 600.5L1404.1 603.4z"/><path class="c26" d="M1044.8 811L1064.9 808.2L1071.4 790L1051.3 793z"/><path class="c14" d="M698.5 938L718.6 946.4L725.1 930.8L705 922.1z"/><path class="c14" d="M765.2 937.6L785.3 938.6L791.7 923.1L771.7 922.1z"/><path class="c16" d="M458.4 920.9L478.4 917.6L484.9 898.4L464.8 902.1z"/><path class="c28" d="M1091.5 787.3L1111.5 785L1118 766.4L1097.9 768.9z"/><path class="c30" d="M1138.1 764.2L1158.1 762.6L1164.6 743.6L1144.5 745.4z"/><path class="c32" d="M1184.7 741.8L1204.7 739.8L1211.2 720.6L1191.1 722.8z"/><path class="c20" d="M551.6 872.3L571.6 873.6L578.1 853.5L558 852.2z"/><path class="c18" d="M505 895.1L525 892.8L531.5 872.9L511.4 875.6z"/><path class="c34" d="M1231.3 718.4L1251.3 716.3L1257.8 696.7L1237.7 699z"/><path class="c36" d="M1277.9 694.4L1297.9 692L1304.4 672.2L1284.3 674.7z"/><path class="c13" d="M718.6 946.4L738.7 950.7L745.1 935.2L725.1 930.8z"/><path class="c38" d="M1324.5 669.7L1344.6 667.1L1351 647L1330.9 649.6z"/><path class="c8" d="M292 1011.4L312.1 1010.1L318.5 994L298.5 995.7z"/><path class="c10" d="M338.6 991L358.7 987.8L365.1 970.8L345.1 974.5z"/><path class="c18" d="M878.5 900.3L898.6 897.8L905 881.2L885 883.9z"/><path class="c12" d="M385.2 967.5L405.3 964.5L411.7 946.5L391.7 950z"/><path class="c16" d="M831.9 920.8L852 918.7L858.4 902.6L838.3 904.9z"/><path class="c20" d="M925.1 878.3L945.2 875.1L951.6 858L931.6 861.5z"/><path class="c41" d="M1371.1 644.3L1391.2 641.6L1397.6 621.1L1377.5 623.9z"/><path class="c22" d="M971.7 854.9L991.8 852.1L998.2 834.6L978.2 837.5z"/><path class="c20" d="M571.6 873.6L591.7 880.9L598.2 861.1L578.1 853.5z"/><path class="c14" d="M785.3 938.6L805.4 938.3L811.8 922.6L791.7 923.1z"/><path class="c14" d="M431.8 943L451.9 939.7L458.4 920.9L438.3 924.7z"/><path class="c24" d="M1018.3 831.7L1038.4 829L1044.8 811L1024.8 813.9z"/><path class="c26" d="M1064.9 808.2L1085 805.7L1091.5 787.3L1071.4 790z"/><path class="c17" d="M478.4 917.6L498.5 914.7L505 895.1L484.9 898.4z"/><path class="c28" d="M1111.5 785L1131.6 783L1138.1 764.2L1118 766.4z"/><path class="c30" d="M1158.1 762.6L1178.2 760.9L1184.7 741.8L1164.6 743.6z"/><path class="c32" d="M1204.7 739.8L1224.8 737.8L1231.3 718.4L1211.2 720.6z"/><path class="c19" d="M525 892.8L545.1 892.3L551.6 872.3L531.5 872.9z"/><path class="c13" d="M738.7 950.7L758.8 953L765.2 937.6L745.1 935.2z"/><path class="c34" d="M1251.3 716.3L1271.4 714.1L1277.9 694.4L1257.8 696.7z"/><path class="c19" d="M591.7 880.9L611.8 891.9L618.2 872.6L598.2 861.1z"/><path class="c37" d="M1297.9 692L1318 689.7L1324.5 669.7L1304.4 672.2z"/><path class="c16" d="M631.9 909.2L651.9 926.7L658.4 909.4L638.3 890.8z"/><path class="c18" d="M611.8 891.9L631.9 909.2L638.3 890.8L618.2 872.6z"/><path class="c15" d="M651.9 926.7L672 942.3L678.5 925.8L658.4 909.4z"/><path class="c8" d="M312.1 1010.1L332.1 1007.5L338.6 991L318.5 994z"/><path class="c39" d="M1344.6 667.1L1364.6 664.6L1371.1 644.3L1351 647z"/><path class="c10" d="M358.7 987.8L378.8 985L385.2 967.5L365.1 970.8z"/><path class="c14" d="M672 942.3L692.1 954L698.5 938L678.5 925.8z"/><path class="c18" d="M898.6 897.8L918.6 895.2L925.1 878.3L905 881.2z"/><path class="c16" d="M852 918.7L872 916.6L878.5 900.3L858.4 902.6z"/><path class="c13" d="M405.3 964.5L425.4 961.4L431.8 943L411.7 946.5z"/><path class="c20" d="M945.2 875.1L965.2 872.2L971.7 854.9L951.6 858z"/><path class="c41" d="M1391.2 641.6L1411.2 638.9L1417.7 618.3L1397.6 621.1z"/><path class="c15" d="M805.4 938.3L825.4 936.7L831.9 920.8L811.8 922.6z"/><path class="c22" d="M991.8 852.1L1011.9 849.5L1018.3 831.7L998.2 834.6z"/><path class="c15" d="M451.9 939.7L472 936.8L478.4 917.6L458.4 920.9z"/><path class="c25" d="M1038.4 829L1058.5 826.4L1064.9 808.2L1044.8 811z"/><path class="c27" d="M1085 805.7L1105.1 803.6L1111.5 785L1091.5 787.3z"/><path class="c19" d="M545.1 892.3L565.2 893.7L571.6 873.6L551.6 872.3z"/><path class="c29" d="M1131.6 783L1151.7 781.5L1158.1 762.6L1138.1 764.2z"/><path class="c13" d="M692.1 954L712.1 962L718.6 946.4L698.5 938z"/><path class="c13" d="M758.8 953L778.8 954.1L785.3 938.6L765.2 937.6z"/><path class="c31" d="M1178.2 760.9L1198.3 759.1L1204.7 739.8L1184.7 741.8z"/><path class="c17" d="M498.5 914.7L518.6 912.6L525 892.8L505 895.1z"/><path class="c33" d="M1224.8 737.8L1244.9 735.8L1251.3 716.3L1231.3 718.4z"/><path class="c35" d="M1271.4 714.1L1291.5 711.9L1297.9 692L1277.9 694.4z"/><path class="c37" d="M1318 689.7L1338.1 687.3L1344.6 667.1L1324.5 669.7z"/><path class="c39" d="M1364.6 664.6L1384.7 662.1L1391.2 641.6L1371.1 644.3z"/><path class="c9" d="M332.1 1007.5L352.2 1004.8L358.7 987.8L338.6 991z"/><path class="c13" d="M712.1 962L732.2 966.2L738.7 950.7L718.6 946.4z"/><path class="c7" d="M285.5 1027.1L305.6 1026.1L312.1 1010.1L292 1011.4z"/><path class="c11" d="M378.8 985L398.8 982.4L405.3 964.5L385.2 967.5z"/><path class="c19" d="M565.2 893.7L585.2 900.7L591.7 880.9L571.6 873.6z"/><path class="c17" d="M872 916.6L892.1 914.4L898.6 897.8L878.5 900.3z"/><path class="c19" d="M918.6 895.2L938.7 892.2L945.2 875.1L925.1 878.3z"/><path class="c15" d="M825.4 936.7L845.5 934.8L852 918.7L831.9 920.8z"/><path class="c13" d="M425.4 961.4L445.4 958.5L451.9 939.7L431.8 943z"/><path class="c21" d="M965.2 872.2L985.3 869.7L991.8 852.1L971.7 854.9z"/><path class="c23" d="M1011.9 849.5L1031.9 847L1038.4 829L1018.3 831.7z"/><path class="c25" d="M1058.5 826.4L1078.5 824.1L1085 805.7L1064.9 808.2z"/><path class="c14" d="M778.8 954.1L798.9 954L805.4 938.3L785.3 938.6z"/><path class="c15" d="M472 936.8L492 934.3L498.5 914.7L478.4 917.6z"/><path class="c27" d="M1105.1 803.6L1125.1 801.8L1131.6 783L1111.5 785z"/><path class="c29" d="M1151.7 781.5L1171.7 780L1178.2 760.9L1158.1 762.6z"/><path class="c17" d="M518.6 912.6L538.6 912.4L545.1 892.3L525 892.8z"/><path class="c31" d="M1198.3 759.1L1218.3 757.2L1224.8 737.8L1204.7 739.8z"/><path class="c33" d="M1244.9 735.8L1265 733.8L1271.4 714.1L1251.3 716.3z"/><path class="c18" d="M585.2 900.7L605.3 911.1L611.8 891.9L591.7 880.9z"/><path class="c35" d="M1291.5 711.9L1311.6 709.7L1318 689.7L1297.9 692z"/><path class="c12" d="M732.2 966.2L752.3 968.5L758.8 953L738.7 950.7z"/><path class="c17" d="M605.3 911.1L625.4 927.5L631.9 909.2L611.8 891.9z"/><path class="c15" d="M625.4 927.5L645.5 944.1L651.9 926.7L631.9 909.2z"/><path class="c38" d="M1338.1 687.3L1358.2 685L1364.6 664.6L1344.6 667.1z"/><path class="c14" d="M645.5 944.1L665.5 958.8L672 942.3L651.9 926.7z"/><path class="c40" d="M1384.7 662.1L1404.8 659.6L1411.2 638.9L1391.2 641.6z"/><path class="c7" d="M305.6 1026.1L325.7 1024L332.1 1007.5L312.1 1010.1z"/><path class="c9" d="M352.2 1004.8L372.3 1002.5L378.8 985L358.7 987.8z"/><path class="c11" d="M398.8 982.4L418.9 979.8L425.4 961.4L405.3 964.5z"/><path class="c13" d="M665.5 958.8L685.6 969.9L692.1 954L672 942.3z"/><path class="c17" d="M892.1 914.4L912.2 912L918.6 895.2L898.6 897.8z"/><path class="c16" d="M845.5 934.8L865.6 933L872 916.6L852 918.7z"/><path class="c19" d="M938.7 892.2L958.8 889.5L965.2 872.2L945.2 875.1z"/><path class="c21" d="M985.3 869.7L1005.4 867.3L1011.9 849.5L991.8 852.1z"/><path class="c14" d="M445.4 958.5L465.5 956L472 936.8L451.9 939.7z"/><path class="c14" d="M798.9 954L819 952.6L825.4 936.7L805.4 938.3z"/><path class="c23" d="M1031.9 847L1052 844.7L1058.5 826.4L1038.4 829z"/><path class="c18" d="M538.6 912.4L558.7 913.9L565.2 893.7L545.1 892.3z"/><path class="c25" d="M1078.5 824.1L1098.6 822.1L1105.1 803.6L1085 805.7z"/><path class="c16" d="M492 934.3L512.1 932.5L518.6 912.6L498.5 914.7z"/><path class="c27" d="M1125.1 801.8L1145.2 800.4L1151.7 781.5L1131.6 783z"/><path class="c29" d="M1171.7 780L1191.8 778.3L1198.3 759.1L1178.2 760.9z"/><path class="c31" d="M1218.3 757.2L1238.4 755.3L1244.9 735.8L1224.8 737.8z"/><path class="c12" d="M685.6 969.9L705.7 977.5L712.1 962L692.1 954z"/><path class="c34" d="M1265 733.8L1285 731.8L1291.5 711.9L1271.4 714.1z"/><path class="c12" d="M752.3 968.5L772.4 969.7L778.8 954.1L758.8 953z"/><path class="c36" d="M1311.6 709.7L1331.6 707.5L1338.1 687.3L1318 689.7z"/><path class="c38" d="M1358.2 685L1378.2 682.6L1384.7 662.1L1364.6 664.6z"/><path class="c17" d="M558.7 913.9L578.8 920.5L585.2 900.7L565.2 893.7z"/><path class="c8" d="M325.7 1024L345.8 1021.9L352.2 1004.8L332.1 1007.5z"/><path class="c10" d="M372.3 1002.5L392.4 1000.3L398.8 982.4L378.8 985z"/><path class="c12" d="M705.7 977.5L725.8 981.6L732.2 966.2L712.1 962z"/><path class="c6" d="M279.1 1042.8L299.2 1042.2L305.6 1026.1L285.5 1027.1z"/><path class="c12" d="M418.9 979.8L439 977.3L445.4 958.5L425.4 961.4z"/><path class="c18" d="M912.2 912L932.3 909.3L938.7 892.2L918.6 895.2z"/><path class="c16" d="M865.6 933L885.6 931L892.1 914.4L872 916.6z"/><path class="c20" d="M958.8 889.5L978.9 887.3L985.3 869.7L965.2 872.2z"/><path class="c22" d="M1005.4 867.3L1025.5 865L1031.9 847L1011.9 849.5z"/><path class="c14" d="M819 952.6L839 951L845.5 934.8L825.4 936.7z"/><path class="c14" d="M465.5 956L485.6 953.9L492 934.3L472 936.8z"/><path class="c24" d="M1052 844.7L1072.1 842.6L1078.5 824.1L1058.5 826.4z"/><path class="c16" d="M512.1 932.5L532.2 932.4L538.6 912.4L518.6 912.6z"/><path class="c26" d="M1098.6 822.1L1118.7 820.5L1125.1 801.8L1105.1 803.6z"/><path class="c28" d="M1145.2 800.4L1165.3 799L1171.7 780L1151.7 781.5z"/><path class="c30" d="M1191.8 778.3L1211.9 776.6L1218.3 757.2L1198.3 759.1z"/><path class="c13" d="M772.4 969.7L792.4 969.7L798.9 954L778.8 954.1z"/><path class="c32" d="M1238.4 755.3L1258.5 753.5L1265 733.8L1244.9 735.8z"/><path class="c17" d="M578.8 920.5L598.9 930.4L605.3 911.1L585.2 900.7z"/><path class="c34" d="M1285 731.8L1305.1 729.7L1311.6 709.7L1291.5 711.9z"/><path class="c36" d="M1331.6 707.5L1351.7 705.3L1358.2 685L1338.1 687.3z"/><path class="c16" d="M598.9 930.4L618.9 945.8L625.4 927.5L605.3 911.1z"/><path class="c14" d="M618.9 945.8L639 961.5L645.5 944.1L625.4 927.5z"/><path class="c12" d="M725.8 981.6L745.8 984L752.3 968.5L732.2 966.2z"/><path class="c39" d="M1378.2 682.6L1398.3 680.2L1404.8 659.6L1384.7 662.1z"/><path class="c13" d="M639 961.5L659.1 975.4L665.5 958.8L645.5 944.1z"/><path class="c8" d="M345.8 1021.9L365.8 1020L372.3 1002.5L352.2 1004.8z"/><path class="c10" d="M392.4 1000.3L412.4 998.2L418.9 979.8L398.8 982.4z"/><path class="c7" d="M299.2 1042.2L319.2 1040.6L325.7 1024L305.6 1026.1z"/><path class="c12" d="M439 977.3L459 975.2L465.5 956L445.4 958.5z"/><path class="c16" d="M532.2 932.4L552.3 934L558.7 913.9L538.6 912.4z"/><path class="c16" d="M885.6 931L905.7 928.8L912.2 912L892.1 914.4z"/><path class="c12" d="M659.1 975.4L679.2 985.9L685.6 969.9L665.5 958.8z"/><path class="c18" d="M932.3 909.3L952.3 906.9L958.8 889.5L938.7 892.2z"/><path class="c20" d="M978.9 887.3L998.9 885.1L1005.4 867.3L985.3 869.7z"/><path class="c15" d="M839 951L859.1 949.3L865.6 933L845.5 934.8z"/><path class="c15" d="M485.6 953.9L505.6 952.4L512.1 932.5L492 934.3z"/><path class="c22" d="M1025.5 865L1045.5 862.9L1052 844.7L1031.9 847z"/><path class="c24" d="M1072.1 842.6L1092.1 840.7L1098.6 822.1L1078.5 824.1z"/><path class="c26" d="M1118.7 820.5L1138.7 819.3L1145.2 800.4L1125.1 801.8z"/><path class="c28" d="M1165.3 799L1185.4 797.5L1191.8 778.3L1171.7 780z"/><path class="c30" d="M1211.9 776.6L1232 774.9L1238.4 755.3L1218.3 757.2z"/><path class="c13" d="M792.4 969.7L812.5 968.5L819 952.6L798.9 954z"/><path class="c32" d="M1258.5 753.5L1278.6 751.6L1285 731.8L1265 733.8z"/><path class="c34" d="M1305.1 729.7L1325.2 727.7L1331.6 707.5L1311.6 709.7z"/><path class="c11" d="M679.2 985.9L699.2 993.1L705.7 977.5L685.6 969.9z"/><path class="c12" d="M745.8 984L765.9 985.2L772.4 969.7L752.3 968.5z"/><path class="c37" d="M1351.7 705.3L1371.8 703.1L1378.2 682.6L1358.2 685z"/><path class="c16" d="M552.3 934L572.3 940.3L578.8 920.5L558.7 913.9z"/><path class="c9" d="M365.8 1020L385.9 1018.3L392.4 1000.3L372.3 1002.5z"/><path class="c7" d="M319.2 1040.6L339.3 1038.9L345.8 1021.9L325.7 1024z"/><path class="c11" d="M412.4 998.2L432.5 996.1L439 977.3L418.9 979.8z"/><path class="c13" d="M459 975.2L479.1 973.4L485.6 953.9L465.5 956z"/><path class="c15" d="M505.6 952.4L525.7 952.5L532.2 932.4L512.1 932.5z"/><path class="c17" d="M905.7 928.8L925.8 926.3L932.3 909.3L912.2 912z"/><path class="c19" d="M952.3 906.9L972.4 904.8L978.9 887.3L958.8 889.5z"/><path class="c5" d="M272.6 1058.5L292.7 1058.2L299.2 1042.2L279.1 1042.8z"/><path class="c15" d="M859.1 949.3L879.2 947.6L885.6 931L865.6 933z"/><path class="c21" d="M998.9 885.1L1019 883L1025.5 865L1005.4 867.3z"/><path class="c11" d="M699.2 993.1L719.3 997.1L725.8 981.6L705.7 977.5z"/><path class="c23" d="M1045.5 862.9L1065.6 861L1072.1 842.6L1052 844.7z"/><path class="c27" d="M1138.7 819.3L1158.8 818.1L1165.3 799L1145.2 800.4z"/><path class="c25" d="M1092.1 840.7L1112.2 839.3L1118.7 820.5L1098.6 822.1z"/><path class="c29" d="M1185.4 797.5L1205.4 796L1211.9 776.6L1191.8 778.3z"/><path class="c13" d="M812.5 968.5L832.6 967.1L839 951L819 952.6z"/><path class="c31" d="M1232 774.9L1252 773.2L1258.5 753.5L1238.4 755.3z"/><path class="c16" d="M572.3 940.3L592.4 949.6L598.9 930.4L578.8 920.5z"/><path class="c33" d="M1278.6 751.6L1298.6 749.7L1305.1 729.7L1285 731.8z"/><path class="c12" d="M765.9 985.2L786 985.3L792.4 969.7L772.4 969.7z"/><path class="c35" d="M1325.2 727.7L1345.2 725.7L1351.7 705.3L1331.6 707.5z"/><path class="c14" d="M592.4 949.6L612.5 964.1L618.9 945.8L598.9 930.4z"/><path class="c37" d="M1371.8 703.1L1391.9 700.9L1398.3 680.2L1378.2 682.6z"/><path class="c13" d="M612.5 964.1L632.5 978.8L639 961.5L618.9 945.8z"/><path class="c12" d="M632.5 978.8L652.6 991.9L659.1 975.4L639 961.5z"/><path class="c11" d="M719.3 997.1L739.4 999.4L745.8 984L725.8 981.6z"/><path class="c15" d="M525.7 952.5L545.8 954.1L552.3 934L532.2 932.4z"/><path class="c9" d="M385.9 1018.3L406 1016.5L412.4 998.2L392.4 1000.3z"/><path class="c7" d="M339.3 1038.9L359.4 1037.5L365.8 1020L345.8 1021.9z"/><path class="c11" d="M432.5 996.1L452.6 994.4L459 975.2L439 977.3z"/><path class="c13" d="M479.1 973.4L499.2 972.3L505.6 952.4L485.6 953.9z"/><path class="c6" d="M292.7 1058.2L312.8 1057.1L319.2 1040.6L299.2 1042.2z"/><path class="c19" d="M972.4 904.8L992.5 902.9L998.9 885.1L978.9 887.3z"/><path class="c17" d="M925.8 926.3L945.9 924.2L952.3 906.9L932.3 909.3z"/><path class="c15" d="M879.2 947.6L899.3 945.7L905.7 928.8L885.6 931z"/><path class="c21" d="M1019 883L1039.1 881.1L1045.5 862.9L1025.5 865z"/><path class="c27" d="M1158.8 818.1L1178.9 816.8L1185.4 797.5L1165.3 799z"/><path class="c25" d="M1112.2 839.3L1132.3 838.2L1138.7 819.3L1118.7 820.5z"/><path class="c23" d="M1065.6 861L1085.7 859.3L1092.1 840.7L1072.1 842.6z"/><path class="c11" d="M652.6 991.9L672.7 1001.8L679.2 985.9L659.1 975.4z"/><path class="c29" d="M1205.4 796L1225.5 794.4L1232 774.9L1211.9 776.6z"/><path class="c14" d="M832.6 967.1L852.7 965.7L859.1 949.3L839 951z"/><path class="c31" d="M1252 773.2L1272.1 771.5L1278.6 751.6L1258.5 753.5z"/><path class="c33" d="M1298.6 749.7L1318.7 747.9L1325.2 727.7L1305.1 729.7z"/><path class="c12" d="M786 985.3L806 984.4L812.5 968.5L792.4 969.7z"/><path class="c35" d="M1345.2 725.7L1365.3 723.6L1371.8 703.1L1351.7 705.3z"/><path class="c10" d="M672.7 1001.8L692.8 1008.7L699.2 993.1L679.2 985.9z"/><path class="c15" d="M545.8 954.1L565.9 960.1L572.3 940.3L552.3 934z"/><path class="c11" d="M739.4 999.4L759.4 1000.7L765.9 985.2L745.8 984z"/><path class="c10" d="M406 1016.5L426.1 1014.9L432.5 996.1L412.4 998.2z"/><path class="c8" d="M359.4 1037.5L379.4 1036.2L385.9 1018.3L365.8 1020z"/><path class="c14" d="M499.2 972.3L519.3 972.6L525.7 952.5L505.6 952.4z"/><path class="c12" d="M452.6 994.4L472.7 993L479.1 973.4L459 975.2z"/><path class="c6" d="M312.8 1057.1L332.8 1055.9L339.3 1038.9L319.2 1040.6z"/><path class="c25" d="M1132.3 838.2L1152.4 837.2L1158.8 818.1L1138.7 819.3z"/><path class="c27" d="M1178.9 816.8L1199 815.4L1205.4 796L1185.4 797.5z"/><path class="c20" d="M992.5 902.9L1012.5 901L1019 883L998.9 885.1z"/><path class="c18" d="M945.9 924.2L965.9 922.4L972.4 904.8L952.3 906.9z"/><path class="c22" d="M1039.1 881.1L1059.2 879.4L1065.6 861L1045.5 862.9z"/><path class="c24" d="M1085.7 859.3L1105.8 858.1L1112.2 839.3L1092.1 840.7z"/><path class="c16" d="M899.3 945.7L919.3 943.4L925.8 926.3L905.7 928.8z"/><path class="c29" d="M1225.5 794.4L1245.6 792.9L1252 773.2L1232 774.9z"/><path class="c14" d="M565.9 960.1L585.9 968.9L592.4 949.6L572.3 940.3z"/><path class="c14" d="M852.7 965.7L872.7 964.2L879.2 947.6L859.1 949.3z"/><path class="c4" d="M266.2 1074.1L286.2 1074.3L292.7 1058.2L272.6 1058.5z"/><path class="c31" d="M1272.1 771.5L1292.2 769.8L1298.6 749.7L1278.6 751.6z"/><path class="c10" d="M692.8 1008.7L712.8 1012.6L719.3 997.1L699.2 993.1z"/><path class="c12" d="M806 984.4L826.1 983.2L832.6 967.1L812.5 968.5z"/><path class="c34" d="M1318.7 747.9L1338.8 746L1345.2 725.7L1325.2 727.7z"/><path class="c36" d="M1365.3 723.6L1385.4 721.6L1391.9 700.9L1371.8 703.1z"/><path class="c13" d="M585.9 968.9L606 982.5L612.5 964.1L592.4 949.6z"/><path class="c11" d="M759.4 1000.7L779.5 1001L786 985.3L765.9 985.2z"/><path class="c12" d="M606 982.5L626.1 996.2L632.5 978.8L612.5 964.1z"/><path class="c14" d="M519.3 972.6L539.3 974.2L545.8 954.1L525.7 952.5z"/><path class="c11" d="M626.1 996.2L646.2 1008.4L652.6 991.9L632.5 978.8z"/><path class="c8" d="M379.4 1036.2L399.5 1034.9L406 1016.5L385.9 1018.3z"/><path class="c10" d="M426.1 1014.9L446.1 1013.6L452.6 994.4L432.5 996.1z"/><path class="c12" d="M472.7 993L492.7 992.2L499.2 972.3L479.1 973.4z"/><path class="c10" d="M712.8 1012.6L732.9 1014.9L739.4 999.4L719.3 997.1z"/><path class="c6" d="M332.8 1055.9L352.9 1054.9L359.4 1037.5L339.3 1038.9z"/><path class="c26" d="M1152.4 837.2L1172.4 836L1178.9 816.8L1158.8 818.1z"/><path class="c28" d="M1199 815.4L1219 814L1225.5 794.4L1205.4 796z"/><path class="c24" d="M1105.8 858.1L1125.8 857.2L1132.3 838.2L1112.2 839.3z"/><path class="c22" d="M1059.2 879.4L1079.2 877.9L1085.7 859.3L1065.6 861z"/><path class="c20" d="M1012.5 901L1032.6 899.3L1039.1 881.1L1019 883z"/><path class="c18" d="M965.9 922.4L986 920.7L992.5 902.9L972.4 904.8z"/><path class="c30" d="M1245.6 792.9L1265.6 791.3L1272.1 771.5L1252 773.2z"/><path class="c5" d="M286.2 1074.3L306.3 1073.6L312.8 1057.1L292.7 1058.2z"/><path class="c16" d="M919.3 943.4L939.4 941.6L945.9 924.2L925.8 926.3z"/><path class="c15" d="M872.7 964.2L892.8 962.5L899.3 945.7L879.2 947.6z"/><path class="c32" d="M1292.2 769.8L1312.3 768.1L1318.7 747.9L1298.6 749.7z"/><path class="c10" d="M646.2 1008.4L666.2 1017.8L672.7 1001.8L652.6 991.9z"/><path class="c13" d="M826.1 983.2L846.2 982L852.7 965.7L832.6 967.1z"/><path class="c34" d="M1338.8 746L1358.9 744.1L1365.3 723.6L1345.2 725.7z"/><path class="c11" d="M779.5 1001L799.6 1000.3L806 984.4L786 985.3z"/><path class="c14" d="M539.3 974.2L559.4 979.9L565.9 960.1L545.8 954.1z"/><path class="c10" d="M666.2 1017.8L686.3 1024.3L692.8 1008.7L672.7 1001.8z"/><path class="c10" d="M732.9 1014.9L753 1016.3L759.4 1000.7L739.4 999.4z"/><path class="c12" d="M492.7 992.2L512.8 992.6L519.3 972.6L499.2 972.3z"/><path class="c10" d="M446.1 1013.6L466.2 1012.6L472.7 993L452.6 994.4z"/><path class="c8" d="M399.5 1034.9L419.6 1033.7L426.1 1014.9L406 1016.5z"/><path class="c7" d="M352.9 1054.9L373 1054.1L379.4 1036.2L359.4 1037.5z"/><path class="c26" d="M1172.4 836L1192.5 834.8L1199 815.4L1178.9 816.8z"/><path class="c24" d="M1125.8 857.2L1145.9 856.3L1152.4 837.2L1132.3 838.2z"/><path class="c28" d="M1219 814L1239.1 812.6L1245.6 792.9L1225.5 794.4z"/><path class="c13" d="M559.4 979.9L579.5 988.2L585.9 968.9L565.9 960.1z"/><path class="c5" d="M306.3 1073.6L326.4 1073L332.8 1055.9L312.8 1057.1z"/><path class="c22" d="M1079.2 877.9L1099.3 876.8L1105.8 858.1L1085.7 859.3z"/><path class="c21" d="M1032.6 899.3L1052.7 897.8L1059.2 879.4L1039.1 881.1z"/><path class="c19" d="M986 920.7L1006.1 919L1012.5 901L992.5 902.9z"/><path class="c30" d="M1265.6 791.3L1285.7 789.8L1292.2 769.8L1272.1 771.5z"/><path class="c17" d="M939.4 941.6L959.5 940L965.9 922.4L945.9 924.2z"/><path class="c15" d="M892.8 962.5L912.9 960.5L919.3 943.4L899.3 945.7z"/><path class="c32" d="M1312.3 768.1L1332.3 766.3L1338.8 746L1318.7 747.9z"/><path class="c13" d="M846.2 982L866.3 980.7L872.7 964.2L852.7 965.7z"/><path class="c4" d="M259.7 1089.8L279.8 1090.3L286.2 1074.3L266.2 1074.1z"/><path class="c34" d="M1358.9 744.1L1378.9 742.2L1385.4 721.6L1365.3 723.6z"/><path class="c9" d="M686.3 1024.3L706.4 1028L712.8 1012.6L692.8 1008.7z"/><path class="c12" d="M799.6 1000.3L819.7 999.3L826.1 983.2L806 984.4z"/><path class="c12" d="M579.5 988.2L599.6 1000.8L606 982.5L585.9 968.9z"/><path class="c10" d="M753 1016.3L773.1 1016.7L779.5 1001L759.4 1000.7z"/><path class="c11" d="M599.6 1000.8L619.6 1013.6L626.1 996.2L606 982.5z"/><path class="c12" d="M512.8 992.6L532.9 994.3L539.3 974.2L519.3 972.6z"/><path class="c11" d="M466.2 1012.6L486.3 1012L492.7 992.2L472.7 993z"/><path class="c9" d="M419.6 1033.7L439.7 1032.8L446.1 1013.6L426.1 1014.9z"/><path class="c7" d="M373 1054.1L393.1 1053.3L399.5 1034.9L379.4 1036.2z"/><path class="c10" d="M619.6 1013.6L639.7 1025L646.2 1008.4L626.1 996.2z"/><path class="c25" d="M1145.9 856.3L1166 855.2L1172.4 836L1152.4 837.2z"/><path class="c27" d="M1192.5 834.8L1212.6 833.5L1219 814L1199 815.4z"/><path class="c5" d="M326.4 1073L346.5 1072.4L352.9 1054.9L332.8 1055.9z"/><path class="c29" d="M1239.1 812.6L1259.2 811.2L1265.6 791.3L1245.6 792.9z"/><path class="c23" d="M1099.3 876.8L1119.4 876.1L1125.8 857.2L1105.8 858.1z"/><path class="c21" d="M1052.7 897.8L1072.8 896.5L1079.2 877.9L1059.2 879.4z"/><path class="c19" d="M1006.1 919L1026.2 917.5L1032.6 899.3L1012.5 901z"/><path class="c31" d="M1285.7 789.8L1305.8 788.2L1312.3 768.1L1292.2 769.8z"/><path class="c9" d="M706.4 1028L726.5 1030.4L732.9 1014.9L712.8 1012.6z"/><path class="c17" d="M959.5 940L979.6 938.5L986 920.7L965.9 922.4z"/><path class="c15" d="M912.9 960.5L932.9 958.9L939.4 941.6L919.3 943.4z"/><path class="c33" d="M1332.3 766.3L1352.4 764.6L1358.9 744.1L1338.8 746z"/><path class="c4" d="M279.8 1090.3L299.8 1090.2L306.3 1073.6L286.2 1074.3z"/><path class="c14" d="M866.3 980.7L886.3 979.3L892.8 962.5L872.7 964.2z"/><path class="c9" d="M639.7 1025L659.8 1033.7L666.2 1017.8L646.2 1008.4z"/><path class="c12" d="M819.7 999.3L839.7 998.4L846.2 982L826.1 983.2z"/><path class="c12" d="M532.9 994.3L552.9 999.7L559.4 979.9L539.3 974.2z"/><path class="c10" d="M773.1 1016.7L793.1 1016.2L799.6 1000.3L779.5 1001z"/><path class="c11" d="M486.3 1012L506.3 1012.7L512.8 992.6L492.7 992.2z"/><path class="c9" d="M439.7 1032.8L459.7 1032.1L466.2 1012.6L446.1 1013.6z"/><path class="c9" d="M659.8 1033.7L679.8 1039.9L686.3 1024.3L666.2 1017.8z"/><path class="c7" d="M393.1 1053.3L413.1 1052.5L419.6 1033.7L399.5 1034.9z"/><path class="c9" d="M726.5 1030.4L746.5 1031.8L753 1016.3L732.9 1014.9z"/><path class="c25" d="M1166 855.2L1186 854.1L1192.5 834.8L1172.4 836z"/><path class="c6" d="M346.5 1072.4L366.5 1072L373 1054.1L352.9 1054.9z"/><path class="c27" d="M1212.6 833.5L1232.7 832.3L1239.1 812.6L1219 814z"/><path class="c23" d="M1119.4 876.1L1139.4 875.3L1145.9 856.3L1125.8 857.2z"/><path class="c12" d="M552.9 999.7L573 1007.4L579.5 988.2L559.4 979.9z"/><path class="c29" d="M1259.2 811.2L1279.3 809.8L1285.7 789.8L1265.6 791.3z"/><path class="c21" d="M1072.8 896.5L1092.8 895.6L1099.3 876.8L1079.2 877.9z"/><path class="c19" d="M1026.2 917.5L1046.2 916.2L1052.7 897.8L1032.6 899.3z"/><path class="c31" d="M1305.8 788.2L1325.9 786.7L1332.3 766.3L1312.3 768.1z"/><path class="c18" d="M979.6 938.5L999.6 937L1006.1 919L986 920.7z"/><path class="c4" d="M299.8 1090.2L319.9 1090L326.4 1073L306.3 1073.6z"/><path class="c16" d="M932.9 958.9L953 957.5L959.5 940L939.4 941.6z"/><path class="c33" d="M1352.4 764.6L1372.5 762.9L1378.9 742.2L1358.9 744.1z"/><path class="c14" d="M886.3 979.3L906.4 977.6L912.9 960.5L892.8 962.5z"/><path class="c12" d="M839.7 998.4L859.8 997.3L866.3 980.7L846.2 982z"/><path class="c11" d="M573 1007.4L593.1 1019.1L599.6 1000.8L579.5 988.2z"/><path class="c3" d="M253.2 1105.5L273.3 1106.4L279.8 1090.3L259.7 1089.8z"/><path class="c8" d="M679.8 1039.9L699.9 1043.5L706.4 1028L686.3 1024.3z"/><path class="c11" d="M793.1 1016.2L813.2 1015.4L819.7 999.3L799.6 1000.3z"/><path class="c11" d="M506.3 1012.7L526.4 1014.4L532.9 994.3L512.8 992.6z"/><path class="c10" d="M593.1 1019.1L613.2 1030.9L619.6 1013.6L599.6 1000.8z"/><path class="c9" d="M459.7 1032.1L479.8 1031.9L486.3 1012L466.2 1012.6z"/><path class="c9" d="M746.5 1031.8L766.6 1032.4L773.1 1016.7L753 1016.3z"/><path class="c8" d="M413.1 1052.5L433.2 1052L439.7 1032.8L419.6 1033.7z"/><path class="c6" d="M366.5 1072L386.6 1071.7L393.1 1053.3L373 1054.1z"/><path class="c25" d="M1186 854.1L1206.1 853.1L1212.6 833.5L1192.5 834.8z"/><path class="c23" d="M1139.4 875.3L1159.5 874.4L1166 855.2L1145.9 856.3z"/><path class="c27" d="M1232.7 832.3L1252.7 831.1L1259.2 811.2L1239.1 812.6z"/><path class="c9" d="M613.2 1030.9L633.2 1041.5L639.7 1025L619.6 1013.6z"/><path class="c29" d="M1279.3 809.8L1299.3 808.4L1305.8 788.2L1285.7 789.8z"/><path class="c22" d="M1092.8 895.6L1112.9 895L1119.4 876.1L1099.3 876.8z"/><path class="c20" d="M1046.2 916.2L1066.3 915.1L1072.8 896.5L1052.7 897.8z"/><path class="c4" d="M319.9 1090L340 1089.9L346.5 1072.4L326.4 1073z"/><path class="c31" d="M1325.9 786.7L1345.9 785.1L1352.4 764.6L1332.3 766.3z"/><path class="c18" d="M999.6 937L1019.7 935.7L1026.2 917.5L1006.1 919z"/><path class="c16" d="M953 957.5L973.1 956.2L979.6 938.5L959.5 940z"/><path class="c14" d="M906.4 977.6L926.5 976.2L932.9 958.9L912.9 960.5z"/><path class="c8" d="M699.9 1043.5L720 1045.8L726.5 1030.4L706.4 1028z"/><path class="c13" d="M859.8 997.3L879.9 996.2L886.3 979.3L866.3 980.7z"/><path class="c3" d="M273.3 1106.4L293.4 1106.7L299.8 1090.2L279.8 1090.3z"/><path class="c11" d="M526.4 1014.4L546.5 1019.5L552.9 999.7L532.9 994.3z"/><path class="c8" d="M633.2 1041.5L653.3 1049.7L659.8 1033.7L639.7 1025z"/><path class="c11" d="M813.2 1015.4L833.3 1014.7L839.7 998.4L819.7 999.3z"/><path class="c10" d="M479.8 1031.9L499.9 1032.7L506.3 1012.7L486.3 1012z"/><path class="c10" d="M766.6 1032.4L786.7 1032L793.1 1016.2L773.1 1016.7z"/><path class="c8" d="M433.2 1052L453.3 1051.7L459.7 1032.1L439.7 1032.8z"/><path class="c6" d="M386.6 1071.7L406.7 1071.3L413.1 1052.5L393.1 1053.3z"/><path class="c26" d="M1206.1 853.1L1226.2 852L1232.7 832.3L1212.6 833.5z"/><path class="c24" d="M1159.5 874.4L1179.6 873.5L1186 854.1L1166 855.2z"/><path class="c28" d="M1252.7 831.1L1272.8 829.8L1279.3 809.8L1259.2 811.2z"/><path class="c11" d="M546.5 1019.5L566.6 1026.7L573 1007.4L552.9 999.7z"/><path class="c22" d="M1112.9 895L1133 894.4L1139.4 875.3L1119.4 876.1z"/><path class="c8" d="M653.3 1049.7L673.4 1055.5L679.8 1039.9L659.8 1033.7z"/><path class="c30" d="M1299.3 808.4L1319.4 807L1325.9 786.7L1305.8 788.2z"/><path class="c5" d="M340 1089.9L360.1 1090L366.5 1072L346.5 1072.4z"/><path class="c20" d="M1066.3 915.1L1086.4 914.4L1092.8 895.6L1072.8 896.5z"/><path class="c8" d="M720 1045.8L740.1 1047.3L746.5 1031.8L726.5 1030.4z"/><path class="c18" d="M1019.7 935.7L1039.8 934.6L1046.2 916.2L1026.2 917.5z"/><path class="c32" d="M1345.9 785.1L1366 783.6L1372.5 762.9L1352.4 764.6z"/><path class="c17" d="M973.1 956.2L993.2 955L999.6 937L979.6 938.5z"/><path class="c15" d="M926.5 976.2L946.6 975.1L953 957.5L932.9 958.9z"/><path class="c3" d="M293.4 1106.7L313.5 1107L319.9 1090L299.8 1090.2z"/><path class="c13" d="M879.9 996.2L900 994.7L906.4 977.6L886.3 979.3z"/><path class="c10" d="M566.6 1026.7L586.6 1037.4L593.1 1019.1L573 1007.4z"/><path class="c11" d="M833.3 1014.7L853.3 1013.9L859.8 997.3L839.7 998.4z"/><path class="c10" d="M499.9 1032.7L520 1034.6L526.4 1014.4L506.3 1012.7z"/><path class="c2" d="M246.8 1121.2L266.9 1122.4L273.3 1106.4L253.2 1105.5z"/><path class="c8" d="M673.4 1055.5L693.5 1059L699.9 1043.5L679.8 1039.9z"/><path class="c10" d="M786.7 1032L806.7 1031.6L813.2 1015.4L793.1 1016.2z"/><path class="c8" d="M453.3 1051.7L473.3 1051.8L479.8 1031.9L459.7 1032.1z"/><path class="c9" d="M586.6 1037.4L606.7 1048.3L613.2 1030.9L593.1 1019.1z"/><path class="c6" d="M406.7 1071.3L426.7 1071.2L433.2 1052L413.1 1052.5z"/><path class="c24" d="M1179.6 873.5L1199.7 872.6L1206.1 853.1L1186 854.1z"/><path class="c26" d="M1226.2 852L1246.3 850.9L1252.7 831.1L1232.7 832.3z"/><path class="c22" d="M1133 894.4L1153.1 893.7L1159.5 874.4L1139.4 875.3z"/><path class="c28" d="M1272.8 829.8L1292.9 828.6L1299.3 808.4L1279.3 809.8z"/><path class="c5" d="M360.1 1090L380.1 1090L386.6 1071.7L366.5 1072z"/><path class="c8" d="M740.1 1047.3L760.1 1048L766.6 1032.4L746.5 1031.8z"/><path class="c20" d="M1086.4 914.4L1106.4 913.9L1112.9 895L1092.8 895.6z"/><path class="c30" d="M1319.4 807L1339.5 805.6L1345.9 785.1L1325.9 786.7z"/><path class="c19" d="M1039.8 934.6L1059.8 933.7L1066.3 915.1L1046.2 916.2z"/><path class="c8" d="M606.7 1048.3L626.8 1058L633.2 1041.5L613.2 1030.9z"/><path class="c17" d="M993.2 955L1013.2 954L1019.7 935.7L999.6 937z"/><path class="c3" d="M313.5 1107L333.5 1107.4L340 1089.9L319.9 1090z"/><path class="c15" d="M946.6 975.1L966.6 974L973.1 956.2L953 957.5z"/><path class="c10" d="M520 1034.6L540 1039.3L546.5 1019.5L526.4 1014.4z"/><path class="c13" d="M900 994.7L920 993.6L926.5 976.2L906.4 977.6z"/><path class="c7" d="M693.5 1059L713.5 1061.3L720 1045.8L699.9 1043.5z"/><path class="c12" d="M853.3 1013.9L873.4 1013L879.9 996.2L859.8 997.3z"/><path class="c2" d="M266.9 1122.4L286.9 1123.2L293.4 1106.7L273.3 1106.4z"/><path class="c7" d="M626.8 1058L646.9 1065.6L653.3 1049.7L633.2 1041.5z"/><path class="c10" d="M806.7 1031.6L826.8 1031.1L833.3 1014.7L813.2 1015.4z"/><path class="c8" d="M473.3 1051.8L493.4 1052.8L499.9 1032.7L479.8 1031.9z"/><path class="c7" d="M426.7 1071.2L446.8 1071.3L453.3 1051.7L433.2 1052z"/><path class="c9" d="M760.1 1048L780.2 1047.9L786.7 1032L766.6 1032.4z"/><path class="c24" d="M1199.7 872.6L1219.7 871.7L1226.2 852L1206.1 853.1z"/><path class="c5" d="M380.1 1090L400.2 1090.2L406.7 1071.3L386.6 1071.7z"/><path class="c26" d="M1246.3 850.9L1266.3 849.9L1272.8 829.8L1252.7 831.1z"/><path class="c23" d="M1153.1 893.7L1173.1 892.9L1179.6 873.5L1159.5 874.4z"/><path class="c9" d="M540 1039.3L560.1 1046L566.6 1026.7L546.5 1019.5z"/><path class="c28" d="M1292.9 828.6L1312.9 827.4L1319.4 807L1299.3 808.4z"/><path class="c21" d="M1106.4 913.9L1126.5 913.5L1133 894.4L1112.9 895z"/><path class="c30" d="M1339.5 805.6L1359.6 804.2L1366 783.6L1345.9 785.1z"/><path class="c19" d="M1059.8 933.7L1079.9 933.1L1086.4 914.4L1066.3 915.1z"/><path class="c4" d="M333.5 1107.4L353.6 1107.9L360.1 1090L340 1089.9z"/><path class="c17" d="M1013.2 954L1033.3 953L1039.8 934.6L1019.7 935.7z"/><path class="c7" d="M646.9 1065.6L666.9 1071.1L673.4 1055.5L653.3 1049.7z"/><path class="c15" d="M966.6 974L986.7 973L993.2 955L973.1 956.2z"/><path class="c7" d="M713.5 1061.3L733.6 1062.9L740.1 1047.3L720 1045.8z"/><path class="c14" d="M920 993.6L940.1 992.7L946.6 975.1L926.5 976.2z"/><path class="c2" d="M286.9 1123.2L307 1124L313.5 1107L293.4 1106.7z"/><path class="c9" d="M560.1 1046L580.2 1055.7L586.6 1037.4L566.6 1026.7z"/><path class="c12" d="M873.4 1013L893.5 1011.8L900 994.7L879.9 996.2z"/><path class="c8" d="M493.4 1052.8L513.5 1054.7L520 1034.6L499.9 1032.7z"/><path class="c10" d="M826.8 1031.1L846.9 1030.5L853.3 1013.9L833.3 1014.7z"/><path class="c7" d="M446.8 1071.3L466.9 1071.7L473.3 1051.8L453.3 1051.7z"/><path class="c1" d="M240.3 1136.9L260.4 1138.5L266.9 1122.4L246.8 1121.2z"/><path class="c8" d="M580.2 1055.7L600.2 1065.7L606.7 1048.3L586.6 1037.4z"/><path class="c9" d="M780.2 1047.9L800.3 1047.7L806.7 1031.6L786.7 1032z"/><path class="c5" d="M400.2 1090.2L420.3 1090.4L426.7 1071.2L406.7 1071.3z"/><path class="c7" d="M666.9 1071.1L687 1074.4L693.5 1059L673.4 1055.5z"/><path class="c25" d="M1219.7 871.7L1239.8 870.8L1246.3 850.9L1226.2 852z"/><path class="c23" d="M1173.1 892.9L1193.2 892.2L1199.7 872.6L1179.6 873.5z"/><path class="c27" d="M1266.3 849.9L1286.4 848.8L1292.9 828.6L1272.8 829.8z"/><path class="c21" d="M1126.5 913.5L1146.6 912.9L1153.1 893.7L1133 894.4z"/><path class="c29" d="M1312.9 827.4L1333 826.1L1339.5 805.6L1319.4 807z"/><path class="c4" d="M353.6 1107.9L373.7 1108.4L380.1 1090L360.1 1090z"/><path class="c19" d="M1079.9 933.1L1100 932.8L1106.4 913.9L1086.4 914.4z"/><path class="c18" d="M1033.3 953L1053.4 952.3L1059.8 933.7L1039.8 934.6z"/><path class="c8" d="M733.6 1062.9L753.7 1063.7L760.1 1048L740.1 1047.3z"/><path class="c16" d="M986.7 973L1006.8 972.2L1013.2 954L993.2 955z"/><path class="c7" d="M600.2 1065.7L620.3 1074.6L626.8 1058L606.7 1048.3z"/><path class="c8" d="M513.5 1054.7L533.6 1059.1L540 1039.3L520 1034.6z"/><path class="c2" d="M307 1124L327.1 1124.9L333.5 1107.4L313.5 1107z"/><path class="c14" d="M940.1 992.7L960.2 991.8L966.6 974L946.6 975.1z"/><path class="c12" d="M893.5 1011.8L913.6 1010.9L920 993.6L900 994.7z"/><path class="c11" d="M846.9 1030.5L867 1029.8L873.4 1013L853.3 1013.9z"/><path class="c7" d="M466.9 1071.7L487 1072.9L493.4 1052.8L473.3 1051.8z"/><path class="c1" d="M260.4 1138.5L280.5 1139.8L286.9 1123.2L266.9 1122.4z"/><path class="c7" d="M687 1074.4L707.1 1076.8L713.5 1061.3L693.5 1059z"/><path class="c6" d="M620.3 1074.6L640.4 1081.6L646.9 1065.6L626.8 1058z"/><path class="c5" d="M420.3 1090.4L440.4 1090.9L446.8 1071.3L426.7 1071.2z"/><path class="c9" d="M800.3 1047.7L820.4 1047.4L826.8 1031.1L806.7 1031.6z"/><path class="c25" d="M1239.8 870.8L1259.9 869.9L1266.3 849.9L1246.3 850.9z"/><path class="c23" d="M1193.2 892.2L1213.3 891.4L1219.7 871.7L1199.7 872.6z"/><path class="c27" d="M1286.4 848.8L1306.5 847.7L1312.9 827.4L1292.9 828.6z"/><path class="c21" d="M1146.6 912.9L1166.7 912.3L1173.1 892.9L1153.1 893.7z"/><path class="c8" d="M533.6 1059.1L553.6 1065.2L560.1 1046L540 1039.3z"/><path class="c4" d="M373.7 1108.4L393.8 1109L400.2 1090.2L380.1 1090z"/><path class="c29" d="M1333 826.1L1353.1 824.9L1359.6 804.2L1339.5 805.6z"/><path class="c20" d="M1100 932.8L1120.1 932.5L1126.5 913.5L1106.4 913.9z"/><path class="c8" d="M753.7 1063.7L773.7 1063.8L780.2 1047.9L760.1 1048z"/><path class="c18" d="M1053.4 952.3L1073.5 951.9L1079.9 933.1L1059.8 933.7z"/><path class="c2" d="M327.1 1124.9L347.1 1125.8L353.6 1107.9L333.5 1107.4z"/><path class="c16" d="M1006.8 972.2L1026.9 971.5L1033.3 953L1013.2 954z"/><path class="c14" d="M960.2 991.8L980.2 991L986.7 973L966.6 974z"/><path class="c6" d="M640.4 1081.6L660.5 1086.7L666.9 1071.1L646.9 1065.6z"/><path class="c13" d="M913.6 1010.9L933.6 1010.2L940.1 992.7L920 993.6z"/><path class="c7" d="M553.6 1065.2L573.7 1074.1L580.2 1055.7L560.1 1046z"/><path class="c7" d="M487 1072.9L507 1074.8L513.5 1054.7L493.4 1052.8z"/><path class="c7" d="M707.1 1076.8L727.1 1078.4L733.6 1062.9L713.5 1061.3z"/><path class="c1" d="M280.5 1139.8L300.5 1141.1L307 1124L286.9 1123.2z"/><path class="c11" d="M867 1029.8L887 1028.9L893.5 1011.8L873.4 1013z"/><path class="c6" d="M440.4 1090.9L460.4 1091.6L466.9 1071.7L446.8 1071.3z"/><path class="c9" d="M820.4 1047.4L840.4 1047.1L846.9 1030.5L826.8 1031.1z"/><path class="c4" d="M393.8 1109L413.8 1109.6L420.3 1090.4L400.2 1090.2z"/><path class="c23" d="M1213.3 891.4L1233.3 890.7L1239.8 870.8L1219.7 871.7z"/><path class="c25" d="M1259.9 869.9L1280 869L1286.4 848.8L1266.3 849.9z"/><path class="c22" d="M1166.7 912.3L1186.7 911.7L1193.2 892.2L1173.1 892.9z"/><path class="c7" d="M573.7 1074.1L593.8 1083L600.2 1065.7L580.2 1055.7z"/><path class="c27" d="M1306.5 847.7L1326.6 846.6L1333 826.1L1312.9 827.4z"/><path class="c0" d="M233.9 1152.6L253.9 1154.5L260.4 1138.5L240.3 1136.9z"/><path class="c20" d="M1120.1 932.5L1140.1 932.1L1146.6 912.9L1126.5 913.5z"/><path class="c8" d="M773.7 1063.8L793.8 1063.8L800.3 1047.7L780.2 1047.9z"/><path class="c6" d="M660.5 1086.7L680.5 1089.9L687 1074.4L666.9 1071.1z"/><path class="c18" d="M1073.5 951.9L1093.5 951.8L1100 932.8L1079.9 933.1z"/><path class="c3" d="M347.1 1125.8L367.2 1126.8L373.7 1108.4L353.6 1107.9z"/><path class="c16" d="M1026.9 971.5L1046.9 970.9L1053.4 952.3L1033.3 953z"/><path class="c7" d="M507 1074.8L527.1 1078.9L533.6 1059.1L513.5 1054.7z"/><path class="c15" d="M980.2 991L1000.3 990.4L1006.8 972.2L986.7 973z"/><path class="c7" d="M727.1 1078.4L747.2 1079.4L753.7 1063.7L733.6 1062.9z"/><path class="c6" d="M593.8 1083L613.9 1091.1L620.3 1074.6L600.2 1065.7z"/><path class="c1" d="M300.5 1141.1L320.6 1142.4L327.1 1124.9L307 1124z"/><path class="c13" d="M933.6 1010.2L953.7 1009.6L960.2 991.8L940.1 992.7z"/><path class="c11" d="M887 1028.9L907.1 1028.3L913.6 1010.9L893.5 1011.8z"/><path class="c6" d="M460.4 1091.6L480.5 1092.9L487 1072.9L466.9 1071.7z"/><path class="c10" d="M840.4 1047.1L860.5 1046.7L867 1029.8L846.9 1030.5z"/><path class="c4" d="M413.8 1109.6L433.9 1110.4L440.4 1090.9L420.3 1090.4z"/><path class="c0" d="M253.9 1154.5L274 1156.3L280.5 1139.8L260.4 1138.5z"/><path class="c24" d="M1233.3 890.7L1253.4 889.9L1259.9 869.9L1239.8 870.8z"/><path class="c6" d="M680.5 1089.9L700.6 1092.2L707.1 1076.8L687 1074.4z"/><path class="c26" d="M1280 869L1300 868L1306.5 847.7L1286.4 848.8z"/><path class="c22" d="M1186.7 911.7L1206.8 911.1L1213.3 891.4L1193.2 892.2z"/><path class="c6" d="M613.9 1091.1L633.9 1097.5L640.4 1081.6L620.3 1074.6z"/><path class="c28" d="M1326.6 846.6L1346.6 845.5L1353.1 824.9L1333 826.1z"/><path class="c7" d="M527.1 1078.9L547.2 1084.5L553.6 1065.2L533.6 1059.1z"/><path class="c20" d="M1140.1 932.1L1160.2 931.7L1166.7 912.3L1146.6 912.9z"/><path class="c8" d="M793.8 1063.8L813.9 1063.8L820.4 1047.4L800.3 1047.7z"/><path class="c3" d="M367.2 1126.8L387.3 1127.8L393.8 1109L373.7 1108.4z"/><path class="c18" d="M1093.5 951.8L1113.6 951.6L1120.1 932.5L1100 932.8z"/><path class="c17" d="M1046.9 970.9L1067 970.7L1073.5 951.9L1053.4 952.3z"/><path class="c7" d="M747.2 1079.4L767.3 1079.7L773.7 1063.8L753.7 1063.7z"/><path class="c15" d="M1000.3 990.4L1020.4 989.9L1026.9 971.5L1006.8 972.2z"/><path class="c1" d="M320.6 1142.4L340.7 1143.8L347.1 1125.8L327.1 1124.9z"/><path class="c13" d="M953.7 1009.6L973.8 1009.1L980.2 991L960.2 991.8z"/><path class="c6" d="M480.5 1092.9L500.6 1094.9L507 1074.8L487 1072.9z"/><path class="c6" d="M547.2 1084.5L567.3 1092.4L573.7 1074.1L553.6 1065.2z"/><path class="c12" d="M907.1 1028.3L927.2 1027.8L933.6 1010.2L913.6 1010.9z"/><path class="c5" d="M633.9 1097.5L654 1102.3L660.5 1086.7L640.4 1081.6z"/><path class="c0" d="M274 1156.3L294.1 1158.1L300.5 1141.1L280.5 1139.8z"/><path class="c4" d="M433.9 1110.4L454 1111.5L460.4 1091.6L440.4 1090.9z"/><path class="c6" d="M700.6 1092.2L720.7 1093.9L727.1 1078.4L707.1 1076.8z"/><path class="c10" d="M860.5 1046.7L880.6 1046L887 1028.9L867 1029.8z"/><path class="c24" d="M1253.4 889.9L1273.5 889.2L1280 869L1259.9 869.9z"/><path class="c22" d="M1206.8 911.1L1226.9 910.5L1233.3 890.7L1213.3 891.4z"/><path class="c26" d="M1300 868L1320.1 867.1L1326.6 846.6L1306.5 847.7z"/><path class="c3" d="M387.3 1127.8L407.4 1128.8L413.8 1109.6L393.8 1109z"/><path class="c20" d="M1160.2 931.7L1180.3 931.3L1186.7 911.7L1166.7 912.3z"/><path class="c9" d="M813.9 1063.8L834 1063.7L840.4 1047.1L820.4 1047.4z"/><path class="c19" d="M1113.6 951.6L1133.7 951.4L1140.1 932.1L1120.1 932.5z"/><path class="c6" d="M567.3 1092.4L587.3 1100.4L593.8 1083L573.7 1074.1z"/><path class="c17" d="M1067 970.7L1087.1 970.7L1093.5 951.8L1073.5 951.9z"/><path class="c2" d="M340.7 1143.8L360.8 1145.2L367.2 1126.8L347.1 1125.8z"/><path class="c7" d="M767.3 1079.7L787.4 1079.9L793.8 1063.8L773.7 1063.8z"/><path class="c6" d="M500.6 1094.9L520.6 1098.7L527.1 1078.9L507 1074.8z"/><path class="c15" d="M1020.4 989.9L1040.5 989.5L1046.9 970.9L1026.9 971.5z"/><path class="c5" d="M654 1102.3L674.1 1105.4L680.5 1089.9L660.5 1086.7z"/><path class="c14" d="M973.8 1009.1L993.9 1008.6L1000.3 990.4L980.2 991z"/><path class="c5" d="M587.3 1100.4L607.4 1107.7L613.9 1091.1L593.8 1083z"/><path class="c12" d="M927.2 1027.8L947.3 1027.4L953.7 1009.6L933.6 1010.2z"/><path class="c0" d="M294.1 1158.1L314.2 1159.9L320.6 1142.4L300.5 1141.1z"/><path class="c5" d="M454 1111.5L474 1113L480.5 1092.9L460.4 1091.6z"/><path class="c6" d="M720.7 1093.9L740.8 1095.1L747.2 1079.4L727.1 1078.4z"/><path class="c10" d="M880.6 1046L900.6 1045.6L907.1 1028.3L887 1028.9z"/><path class="c3" d="M407.4 1128.8L427.4 1130L433.9 1110.4L413.8 1109.6z"/><path class="c24" d="M1273.5 889.2L1293.6 888.4L1300 868L1280 869z"/><path class="c22" d="M1226.9 910.5L1247 909.9L1253.4 889.9L1233.3 890.7z"/><path class="c26" d="M1320.1 867.1L1340.2 866.2L1346.6 845.5L1326.6 846.6z"/><path class="c21" d="M1180.3 931.3L1200.4 930.8L1206.8 911.1L1186.7 911.7z"/><path class="c9" d="M834 1063.7L854 1063.5L860.5 1046.7L840.4 1047.1z"/><path class="c6" d="M520.6 1098.7L540.7 1103.7L547.2 1084.5L527.1 1078.9z"/><path class="c19" d="M1133.7 951.4L1153.7 951.1L1160.2 931.7L1140.1 932.1z"/><path class="c2" d="M360.8 1145.2L380.8 1146.6L387.3 1127.8L367.2 1126.8z"/><path class="c17" d="M1087.1 970.7L1107.1 970.7L1113.6 951.6L1093.5 951.8z"/><path class="c5" d="M674.1 1105.4L694.2 1107.7L700.6 1092.2L680.5 1089.9z"/><path class="c5" d="M607.4 1107.7L627.5 1113.4L633.9 1097.5L613.9 1091.1z"/><path class="c7" d="M787.4 1079.9L807.4 1080.1L813.9 1063.8L793.8 1063.8z"/><path class="c16" d="M1040.5 989.5L1060.5 989.4L1067 970.7L1046.9 970.9z"/><path class="c14" d="M993.9 1008.6L1013.9 1008.3L1020.4 989.9L1000.3 990.4z"/><path class="c0" d="M314.2 1159.9L334.2 1161.7L340.7 1143.8L320.6 1142.4z"/><path class="c5" d="M474 1113L494.1 1115L500.6 1094.9L480.5 1092.9z"/><path class="c6" d="M740.8 1095.1L760.8 1095.6L767.3 1079.7L747.2 1079.4z"/><path class="c12" d="M947.3 1027.4L967.3 1027.1L973.8 1009.1L953.7 1009.6z"/><path class="c5" d="M540.7 1103.7L560.8 1110.7L567.3 1092.4L547.2 1084.5z"/><path class="c11" d="M900.6 1045.6L920.7 1045.4L927.2 1027.8L907.1 1028.3z"/><path class="c3" d="M427.4 1130L447.5 1131.3L454 1111.5L433.9 1110.4z"/><path class="c4" d="M627.5 1113.4L647.5 1117.9L654 1102.3L633.9 1097.5z"/><path class="c23" d="M1247 909.9L1267 909.3L1273.5 889.2L1253.4 889.9z"/><path class="c25" d="M1293.6 888.4L1313.6 887.6L1320.1 867.1L1300 868z"/><path class="c9" d="M854 1063.5L874.1 1063.1L880.6 1046L860.5 1046.7z"/><path class="c21" d="M1200.4 930.8L1220.4 930.4L1226.9 910.5L1206.8 911.1z"/><path class="c19" d="M1153.7 951.1L1173.8 950.8L1180.3 931.3L1160.2 931.7z"/><path class="c5" d="M694.2 1107.7L714.2 1109.5L720.7 1093.9L700.6 1092.2z"/><path class="c2" d="M380.8 1146.6L400.9 1148L407.4 1128.8L387.3 1127.8z"/><path class="c17" d="M1107.1 970.7L1127.2 970.6L1133.7 951.4L1113.6 951.6z"/><path class="c5" d="M560.8 1110.7L580.9 1117.8L587.3 1100.4L567.3 1092.4z"/><path class="c8" d="M807.4 1080.1L827.5 1080.3L834 1063.7L813.9 1063.8z"/><path class="c16" d="M1060.5 989.4L1080.6 989.6L1087.1 970.7L1067 970.7z"/><path class="c5" d="M494.1 1115L514.2 1118.6L520.6 1098.7L500.6 1094.9z"/><path class="c0" d="M334.2 1161.7L354.3 1163.5L360.8 1145.2L340.7 1143.8z"/><path class="c14" d="M1013.9 1008.3L1034 1008.1L1040.5 989.5L1020.4 989.9z"/><path class="c6" d="M760.8 1095.6L780.9 1096L787.4 1079.9L767.3 1079.7z"/><path class="c12" d="M967.3 1027.1L987.4 1026.8L993.9 1008.6L973.8 1009.1z"/><path class="c4" d="M647.5 1117.9L667.6 1120.8L674.1 1105.4L654 1102.3z"/><path class="c3" d="M447.5 1131.3L467.6 1133.1L474 1113L454 1111.5z"/><path class="c11" d="M920.7 1045.4L940.8 1045.2L947.3 1027.4L927.2 1027.8z"/><path class="c4" d="M580.9 1117.8L600.9 1124.2L607.4 1107.7L587.3 1100.4z"/><path class="c5" d="M714.2 1109.5L734.3 1110.7L740.8 1095.1L720.7 1093.9z"/><path class="c23" d="M1267 909.3L1287.1 908.7L1293.6 888.4L1273.5 889.2z"/><path class="c2" d="M400.9 1148L421 1149.6L427.4 1130L407.4 1128.8z"/><path class="c25" d="M1313.6 887.6L1333.7 886.9L1340.2 866.2L1320.1 867.1z"/><path class="c9" d="M874.1 1063.1L894.2 1062.9L900.6 1045.6L880.6 1046z"/><path class="c21" d="M1220.4 930.4L1240.5 930L1247 909.9L1226.9 910.5z"/><path class="c19" d="M1173.8 950.8L1193.9 950.5L1200.4 930.8L1180.3 931.3z"/><path class="c4" d="M514.2 1118.6L534.3 1123L540.7 1103.7L520.6 1098.7z"/><path class="c18" d="M1127.2 970.6L1147.3 970.5L1153.7 951.1L1133.7 951.4z"/><path class="c8" d="M827.5 1080.3L847.6 1080.3L854 1063.5L834 1063.7z"/><path class="c16" d="M1080.6 989.6L1100.7 989.8L1107.1 970.7L1087.1 970.7z"/><path class="c0" d="M354.3 1163.5L374.4 1165.4L380.8 1146.6L360.8 1145.2z"/><path class="c14" d="M1034 1008.1L1054.1 1008.2L1060.5 989.4L1040.5 989.5z"/><path class="c4" d="M600.9 1124.2L621 1129.4L627.5 1113.4L607.4 1107.7z"/><path class="c4" d="M667.6 1120.8L687.7 1123.1L694.2 1107.7L674.1 1105.4z"/><path class="c6" d="M780.9 1096L801 1096.5L807.4 1080.1L787.4 1079.9z"/><path class="c3" d="M467.6 1133.1L487.7 1135.2L494.1 1115L474 1113z"/><path class="c13" d="M987.4 1026.8L1007.5 1026.7L1013.9 1008.3L993.9 1008.6z"/><path class="c11" d="M940.8 1045.2L960.9 1045.1L967.3 1027.1L947.3 1027.4z"/><path class="c4" d="M534.3 1123L554.3 1129L560.8 1110.7L540.7 1103.7z"/><path class="c2" d="M421 1149.6L441 1151.2L447.5 1131.3L427.4 1130z"/><path class="c5" d="M734.3 1110.7L754.4 1111.5L760.8 1095.6L740.8 1095.1z"/><path class="c10" d="M894.2 1062.9L914.3 1062.9L920.7 1045.4L900.6 1045.6z"/><path class="c23" d="M1287.1 908.7L1307.2 908.1L1313.6 887.6L1293.6 888.4z"/><path class="c21" d="M1240.5 930L1260.6 929.5L1267 909.3L1247 909.9z"/><path class="c20" d="M1193.9 950.5L1214 950.3L1220.4 930.4L1200.4 930.8z"/><path class="c18" d="M1147.3 970.5L1167.4 970.4L1173.8 950.8L1153.7 951.1z"/><path class="c3" d="M621 1129.4L641.1 1133.4L647.5 1117.9L627.5 1113.4z"/><path class="c1" d="M374.4 1165.4L394.4 1167.2L400.9 1148L380.8 1146.6z"/><path class="c8" d="M847.6 1080.3L867.7 1080.2L874.1 1063.1L854 1063.5z"/><path class="c16" d="M1100.7 989.8L1120.8 989.8L1127.2 970.6L1107.1 970.7z"/><path class="c4" d="M687.7 1123.1L707.8 1125L714.2 1109.5L694.2 1107.7z"/><path class="c4" d="M554.3 1129L574.4 1135.1L580.9 1117.8L560.8 1110.7z"/><path class="c15" d="M1054.1 1008.2L1074.1 1008.5L1080.6 989.6L1060.5 989.4z"/><path class="c3" d="M487.7 1135.2L507.7 1138.4L514.2 1118.6L494.1 1115z"/><path class="c7" d="M801 1096.5L821 1096.8L827.5 1080.3L807.4 1080.1z"/><path class="c13" d="M1007.5 1026.7L1027.5 1026.7L1034 1008.1L1013.9 1008.3z"/><path class="c2" d="M441 1151.2L461.1 1153.1L467.6 1133.1L447.5 1131.3z"/><path class="c11" d="M960.9 1045.1L980.9 1045L987.4 1026.8L967.3 1027.1z"/><path class="c5" d="M754.4 1111.5L774.4 1112.2L780.9 1096L760.8 1095.6z"/><path class="c3" d="M641.1 1133.4L661.2 1136.3L667.6 1120.8L647.5 1117.9z"/><path class="c10" d="M914.3 1062.9L934.3 1063L940.8 1045.2L920.7 1045.4z"/><path class="c24" d="M1307.2 908.1L1327.3 907.5L1333.7 886.9L1313.6 887.6z"/><path class="c22" d="M1260.6 929.5L1280.6 929.1L1287.1 908.7L1267 909.3z"/><path class="c3" d="M574.4 1135.1L594.5 1140.7L600.9 1124.2L580.9 1117.8z"/><path class="c20" d="M1214 950.3L1234 950L1240.5 930L1220.4 930.4z"/><path class="c1" d="M394.4 1167.2L414.5 1169.1L421 1149.6L400.9 1148z"/><path class="c18" d="M1167.4 970.4L1187.4 970.2L1193.9 950.5L1173.8 950.8z"/><path class="c3" d="M507.7 1138.4L527.8 1142.3L534.3 1123L514.2 1118.6z"/><path class="c8" d="M867.7 1080.2L887.7 1080.3L894.2 1062.9L874.1 1063.1z"/><path class="c16" d="M1120.8 989.8L1140.8 989.9L1147.3 970.5L1127.2 970.6z"/><path class="c4" d="M707.8 1125L727.8 1126.4L734.3 1110.7L714.2 1109.5z"/><path class="c15" d="M1074.1 1008.5L1094.2 1008.8L1100.7 989.8L1080.6 989.6z"/><path class="c7" d="M821 1096.8L841.1 1097.2L847.6 1080.3L827.5 1080.3z"/><path class="c13" d="M1027.5 1026.7L1047.6 1027L1054.1 1008.2L1034 1008.1z"/><path class="c2" d="M461.1 1153.1L481.2 1155.3L487.7 1135.2L467.6 1133.1z"/><path class="c3" d="M594.5 1140.7L614.6 1145.3L621 1129.4L600.9 1124.2z"/><path class="c12" d="M980.9 1045L1001 1045.1L1007.5 1026.7L987.4 1026.8z"/><path class="c6" d="M774.4 1112.2L794.5 1112.8L801 1096.5L780.9 1096z"/><path class="c3" d="M661.2 1136.3L681.2 1138.6L687.7 1123.1L667.6 1120.8z"/><path class="c3" d="M527.8 1142.3L547.9 1147.4L554.3 1129L534.3 1123z"/><path class="c1" d="M414.5 1169.1L434.6 1171.1L441 1151.2L421 1149.6z"/><path class="c10" d="M934.3 1063L954.4 1063.1L960.9 1045.1L940.8 1045.2z"/><path class="c22" d="M1280.6 929.1L1300.7 928.6L1307.2 908.1L1287.1 908.7z"/><path class="c20" d="M1234 950L1254.1 949.7L1260.6 929.5L1240.5 930z"/><path class="c18" d="M1187.4 970.2L1207.5 970.1L1214 950.3L1193.9 950.5z"/><path class="c4" d="M727.8 1126.4L747.9 1127.4L754.4 1111.5L734.3 1110.7z"/><path class="c9" d="M887.7 1080.3L907.8 1080.5L914.3 1062.9L894.2 1062.9z"/><path class="c17" d="M1140.8 989.9L1160.9 989.9L1167.4 970.4L1147.3 970.5z"/><path class="c15" d="M1094.2 1008.8L1114.3 1009L1120.8 989.8L1100.7 989.8z"/><path class="c7" d="M841.1 1097.2L861.2 1097.3L867.7 1080.2L847.6 1080.3z"/><path class="c3" d="M614.6 1145.3L634.6 1149L641.1 1133.4L621 1129.4z"/><path class="c2" d="M481.2 1155.3L501.3 1158.2L507.7 1138.4L487.7 1135.2z"/><path class="c13" d="M1047.6 1027L1067.7 1027.4L1074.1 1008.5L1054.1 1008.2z"/><path class="c2" d="M547.9 1147.4L567.9 1152.5L574.4 1135.1L554.3 1129z"/><path class="c3" d="M681.2 1138.6L701.3 1140.5L707.8 1125L687.7 1123.1z"/><path class="c12" d="M1001 1045.1L1021.1 1045.3L1027.5 1026.7L1007.5 1026.7z"/><path class="c6" d="M794.5 1112.8L814.6 1113.4L821 1096.8L801 1096.5z"/><path class="c1" d="M434.6 1171.1L454.7 1173.2L461.1 1153.1L441 1151.2z"/><path class="c10" d="M954.4 1063.1L974.5 1063.3L980.9 1045L960.9 1045.1z"/><path class="c22" d="M1300.7 928.6L1320.8 928.2L1327.3 907.5L1307.2 908.1z"/><path class="c20" d="M1254.1 949.7L1274.2 949.4L1280.6 929.1L1260.6 929.5z"/><path class="c4" d="M747.9 1127.4L768 1128.3L774.4 1112.2L754.4 1111.5z"/><path class="c19" d="M1207.5 970.1L1227.6 970L1234 950L1214 950.3z"/><path class="c9" d="M907.8 1080.5L927.9 1080.8L934.3 1063L914.3 1062.9z"/><path class="c17" d="M1160.9 989.9L1181 989.9L1187.4 970.2L1167.4 970.4z"/><path class="c3" d="M634.6 1149L654.7 1151.8L661.2 1136.3L641.1 1133.4z"/><path class="c2" d="M567.9 1152.5L588 1157.3L594.5 1140.7L574.4 1135.1z"/><path class="c2" d="M501.3 1158.2L521.3 1161.5L527.8 1142.3L507.7 1138.4z"/><path class="c15" d="M1114.3 1009L1134.4 1009.2L1140.8 989.9L1120.8 989.8z"/><path class="c7" d="M861.2 1097.3L881.3 1097.6L887.7 1080.3L867.7 1080.2z"/><path class="c14" d="M1067.7 1027.4L1087.8 1027.9L1094.2 1008.8L1074.1 1008.5z"/><path class="c3" d="M701.3 1140.5L721.4 1142.1L727.8 1126.4L707.8 1125z"/><path class="c1" d="M454.7 1173.2L474.7 1175.4L481.2 1155.3L461.1 1153.1z"/><path class="c6" d="M814.6 1113.4L834.7 1114L841.1 1097.2L821 1096.8z"/><path class="c12" d="M1021.1 1045.3L1041.2 1045.8L1047.6 1027L1027.5 1026.7z"/><path class="c10" d="M974.5 1063.3L994.6 1063.5L1001 1045.1L980.9 1045z"/><path class="c2" d="M588 1157.3L608.1 1161.3L614.6 1145.3L594.5 1140.7z"/><path class="c2" d="M521.3 1161.5L541.4 1165.7L547.9 1147.4L527.8 1142.3z"/><path class="c5" d="M768 1128.3L788.1 1129.2L794.5 1112.8L774.4 1112.2z"/><path class="c21" d="M1274.2 949.4L1294.3 949.1L1300.7 928.6L1280.6 929.1z"/><path class="c2" d="M654.7 1151.8L674.8 1154.1L681.2 1138.6L661.2 1136.3z"/><path class="c19" d="M1227.6 970L1247.7 969.9L1254.1 949.7L1234 950z"/><path class="c9" d="M927.9 1080.8L947.9 1081.1L954.4 1063.1L934.3 1063z"/><path class="c17" d="M1181 989.9L1201 990L1207.5 970.1L1187.4 970.2z"/><path class="c15" d="M1134.4 1009.2L1154.4 1009.5L1160.9 989.9L1140.8 989.9z"/><path class="c8" d="M881.3 1097.6L901.3 1098.1L907.8 1080.5L887.7 1080.3z"/><path class="c3" d="M721.4 1142.1L741.4 1143.3L747.9 1127.4L727.8 1126.4z"/><path class="c14" d="M1087.8 1027.9L1107.8 1028.3L1114.3 1009L1094.2 1008.8z"/><path class="c1" d="M474.7 1175.4L494.8 1178L501.3 1158.2L481.2 1155.3z"/><path class="c6" d="M834.7 1114L854.7 1114.4L861.2 1097.3L841.1 1097.2z"/><path class="c12" d="M1041.2 1045.8L1061.2 1046.4L1067.7 1027.4L1047.6 1027z"/><path class="c2" d="M608.1 1161.3L628.2 1164.6L634.6 1149L614.6 1145.3z"/><path class="c1" d="M541.4 1165.7L561.5 1169.9L567.9 1152.5L547.9 1147.4z"/><path class="c11" d="M994.6 1063.5L1014.6 1063.9L1021.1 1045.3L1001 1045.1z"/><path class="c2" d="M674.8 1154.1L694.8 1156.1L701.3 1140.5L681.2 1138.6z"/><path class="c5" d="M788.1 1129.2L808.1 1130L814.6 1113.4L794.5 1112.8z"/><path class="c21" d="M1294.3 949.1L1314.3 948.8L1320.8 928.2L1300.7 928.6z"/><path class="c9" d="M947.9 1081.1L968 1081.5L974.5 1063.3L954.4 1063.1z"/><path class="c19" d="M1247.7 969.9L1267.7 969.8L1274.2 949.4L1254.1 949.7z"/><path class="c17" d="M1201 990L1221.1 990L1227.6 970L1207.5 970.1z"/><path class="c16" d="M1154.4 1009.5L1174.5 1009.7L1181 989.9L1160.9 989.9z"/><path class="c8" d="M901.3 1098.1L921.4 1098.6L927.9 1080.8L907.8 1080.5z"/><path class="c1" d="M494.8 1178L514.9 1180.8L521.3 1161.5L501.3 1158.2z"/><path class="c4" d="M741.4 1143.3L761.5 1144.4L768 1128.3L747.9 1127.4z"/><path class="c14" d="M1107.8 1028.3L1127.9 1028.6L1134.4 1009.2L1114.3 1009z"/><path class="c1" d="M561.5 1169.9L581.6 1173.8L588 1157.3L567.9 1152.5z"/><path class="c2" d="M628.2 1164.6L648.2 1167.3L654.7 1151.8L634.6 1149z"/><path class="c12" d="M1061.2 1046.4L1081.3 1047L1087.8 1027.9L1067.7 1027.4z"/><path class="c6" d="M854.7 1114.4L874.8 1115L881.3 1097.6L861.2 1097.3z"/><path class="c11" d="M1014.6 1063.9L1034.7 1064.5L1041.2 1045.8L1021.1 1045.3z"/><path class="c3" d="M694.8 1156.1L714.9 1157.8L721.4 1142.1L701.3 1140.5z"/><path class="c5" d="M808.1 1130L828.2 1130.8L834.7 1114L814.6 1113.4z"/><path class="c9" d="M968 1081.5L988.1 1081.9L994.6 1063.5L974.5 1063.3z"/><path class="c19" d="M1267.7 969.8L1287.8 969.6L1294.3 949.1L1274.2 949.4z"/><path class="c1" d="M514.9 1180.8L535 1184L541.4 1165.7L521.3 1161.5z"/><path class="c18" d="M1221.1 990L1241.2 990.1L1247.7 969.9L1227.6 970z"/><path class="c1" d="M581.6 1173.8L601.6 1177.2L608.1 1161.3L588 1157.3z"/><path class="c16" d="M1174.5 1009.7L1194.6 1009.9L1201 990L1181 989.9z"/><path class="c8" d="M921.4 1098.6L941.5 1099.1L947.9 1081.1L927.9 1080.8z"/><path class="c4" d="M761.5 1144.4L781.6 1145.5L788.1 1129.2L768 1128.3z"/><path class="c14" d="M1127.9 1028.6L1148 1029L1154.4 1009.5L1134.4 1009.2z"/><path class="c2" d="M648.2 1167.3L668.3 1169.5L674.8 1154.1L654.7 1151.8z"/><path class="c13" d="M1081.3 1047L1101.4 1047.5L1107.8 1028.3L1087.8 1027.9z"/><path class="c6" d="M874.8 1115L894.9 1115.6L901.3 1098.1L881.3 1097.6z"/><path class="c3" d="M714.9 1157.8L735 1159.2L741.4 1143.3L721.4 1142.1z"/><path class="c11" d="M1034.7 1064.5L1054.8 1065.3L1061.2 1046.4L1041.2 1045.8z"/><path class="c5" d="M828.2 1130.8L848.3 1131.5L854.7 1114.4L834.7 1114z"/><path class="c0" d="M535 1184L555 1187.2L561.5 1169.9L541.4 1165.7z"/><path class="c10" d="M988.1 1081.9L1008.2 1082.5L1014.6 1063.9L994.6 1063.5z"/><path class="c1" d="M601.6 1177.2L621.7 1180.2L628.2 1164.6L608.1 1161.3z"/><path class="c20" d="M1287.8 969.6L1307.9 969.5L1314.3 948.8L1294.3 949.1z"/><path class="c18" d="M1241.2 990.1L1261.3 990.1L1267.7 969.8L1247.7 969.9z"/><path class="c16" d="M1194.6 1009.9L1214.7 1010.1L1221.1 990L1201 990z"/><path class="c4" d="M781.6 1145.5L801.7 1146.6L808.1 1130L788.1 1129.2z"/><path class="c8" d="M941.5 1099.1L961.6 1099.7L968 1081.5L947.9 1081.1z"/><path class="c2" d="M668.3 1169.5L688.4 1171.6L694.8 1156.1L674.8 1154.1z"/><path class="c14" d="M1148 1029L1168.1 1029.4L1174.5 1009.7L1154.4 1009.5z"/><path class="c7" d="M894.9 1115.6L915 1116.3L921.4 1098.6L901.3 1098.1z"/><path class="c13" d="M1101.4 1047.5L1121.4 1048L1127.9 1028.6L1107.8 1028.3z"/><path class="c3" d="M735 1159.2L755.1 1160.5L761.5 1144.4L741.4 1143.3z"/><path class="c0" d="M555 1187.2L575.1 1190.3L581.6 1173.8L561.5 1169.9z"/><path class="c11" d="M1054.8 1065.3L1074.8 1066L1081.3 1047L1061.2 1046.4z"/><path class="c5" d="M848.3 1131.5L868.3 1132.3L874.8 1115L854.7 1114.4z"/><path class="c1" d="M621.7 1180.2L641.8 1182.7L648.2 1167.3L628.2 1164.6z"/><path class="c10" d="M1008.2 1082.5L1028.2 1083.3L1034.7 1064.5L1014.6 1063.9z"/><path class="c18" d="M1261.3 990.1L1281.3 990.1L1287.8 969.6L1267.7 969.8z"/><path class="c2" d="M688.4 1171.6L708.5 1173.4L714.9 1157.8L694.8 1156.1z"/><path class="c4" d="M801.7 1146.6L821.7 1147.6L828.2 1130.8L808.1 1130z"/><path class="c8" d="M961.6 1099.7L981.6 1100.4L988.1 1081.9L968 1081.5z"/><path class="c16" d="M1214.7 1010.1L1234.7 1010.2L1241.2 990.1L1221.1 990z"/><path class="c15" d="M1168.1 1029.4L1188.1 1029.7L1194.6 1009.9L1174.5 1009.7z"/><path class="c7" d="M915 1116.3L935 1117.1L941.5 1099.1L921.4 1098.6z"/><path class="c13" d="M1121.4 1048L1141.5 1048.5L1148 1029L1127.9 1028.6z"/><path class="c0" d="M575.1 1190.3L595.2 1193.2L601.6 1177.2L581.6 1173.8z"/><path class="c3" d="M755.1 1160.5L775.1 1161.9L781.6 1145.5L761.5 1144.4z"/><path class="c11" d="M1074.8 1066L1094.9 1066.7L1101.4 1047.5L1081.3 1047z"/><path class="c1" d="M641.8 1182.7L661.9 1185L668.3 1169.5L648.2 1167.3z"/><path class="c5" d="M868.3 1132.3L888.4 1133.2L894.9 1115.6L874.8 1115z"/><path class="c10" d="M1028.2 1083.3L1048.3 1084.2L1054.8 1065.3L1034.7 1064.5z"/><path class="c2" d="M708.5 1173.4L728.5 1175.1L735 1159.2L714.9 1157.8z"/><path class="c4" d="M821.7 1147.6L841.8 1148.6L848.3 1131.5L828.2 1130.8z"/><path class="c18" d="M1281.3 990.1L1301.4 990.2L1307.9 969.5L1287.8 969.6z"/><path class="c8" d="M981.6 1100.4L1001.7 1101.1L1008.2 1082.5L988.1 1081.9z"/><path class="c17" d="M1234.7 1010.2L1254.8 1010.4L1261.3 990.1L1241.2 990.1z"/><path class="c15" d="M1188.1 1029.7L1208.2 1030.1L1214.7 1010.1L1194.6 1009.9z"/><path class="c0" d="M595.2 1193.2L615.2 1195.8L621.7 1180.2L601.6 1177.2z"/><path class="c7" d="M935 1117.1L955.1 1117.9L961.6 1099.7L941.5 1099.1z"/><path class="c13" d="M1141.5 1048.5L1161.6 1049.1L1168.1 1029.4L1148 1029z"/><path class="c3" d="M775.1 1161.9L795.2 1163.2L801.7 1146.6L781.6 1145.5z"/><path class="c1" d="M661.9 1185L681.9 1187.1L688.4 1171.6L668.3 1169.5z"/><path class="c12" d="M1094.9 1066.7L1115 1067.4L1121.4 1048L1101.4 1047.5z"/><path class="c6" d="M888.4 1133.2L908.5 1134.1L915 1116.3L894.9 1115.6z"/><path class="c10" d="M1048.3 1084.2L1068.4 1085.1L1074.8 1066L1054.8 1065.3z"/><path class="c2" d="M728.5 1175.1L748.6 1176.6L755.1 1160.5L735 1159.2z"/><path class="c4" d="M841.8 1148.6L861.9 1149.6L868.3 1132.3L848.3 1131.5z"/><path class="c9" d="M1001.7 1101.1L1021.8 1102.1L1028.2 1083.3L1008.2 1082.5z"/><path class="c17" d="M1254.8 1010.4L1274.9 1010.6L1281.3 990.1L1261.3 990.1z"/><path class="c0" d="M615.2 1195.8L635.3 1198.2L641.8 1182.7L621.7 1180.2z"/><path class="c15" d="M1208.2 1030.1L1228.3 1030.4L1234.7 1010.2L1214.7 1010.1z"/><path class="c7" d="M955.1 1117.9L975.2 1118.8L981.6 1100.4L961.6 1099.7z"/><path class="c13" d="M1161.6 1049.1L1181.7 1049.6L1188.1 1029.7L1168.1 1029.4z"/><path class="c3" d="M795.2 1163.2L815.3 1164.5L821.7 1147.6L801.7 1146.6z"/><path class="c1" d="M681.9 1187.1L702 1189.1L708.5 1173.4L688.4 1171.6z"/><path class="c12" d="M1115 1067.4L1135.1 1068.1L1141.5 1048.5L1121.4 1048z"/><path class="c6" d="M908.5 1134.1L928.6 1135.1L935 1117.1L915 1116.3z"/><path class="c10" d="M1068.4 1085.1L1088.5 1086L1094.9 1066.7L1074.8 1066z"/><path class="c2" d="M748.6 1176.6L768.7 1178.2L775.1 1161.9L755.1 1160.5z"/><path class="c4" d="M861.9 1149.6L882 1150.8L888.4 1133.2L868.3 1132.3z"/><path class="c0" d="M635.3 1198.2L655.4 1200.5L661.9 1185L641.8 1182.7z"/><path class="c9" d="M1021.8 1102.1L1041.8 1103.1L1048.3 1084.2L1028.2 1083.3z"/><path class="c17" d="M1274.9 1010.6L1295 1010.8L1301.4 990.2L1281.3 990.1z"/><path class="c15" d="M1228.3 1030.4L1248.3 1030.8L1254.8 1010.4L1234.7 1010.2z"/><path class="c7" d="M975.2 1118.8L995.2 1119.7L1001.7 1101.1L981.6 1100.4z"/><path class="c3" d="M815.3 1164.5L835.4 1165.7L841.8 1148.6L821.7 1147.6z"/><path class="c1" d="M702 1189.1L722.1 1190.9L728.5 1175.1L708.5 1173.4z"/><path class="c14" d="M1181.7 1049.6L1201.7 1050.1L1208.2 1030.1L1188.1 1029.7z"/><path class="c12" d="M1135.1 1068.1L1155.1 1068.8L1161.6 1049.1L1141.5 1048.5z"/><path class="c6" d="M928.6 1135.1L948.6 1136.1L955.1 1117.9L935 1117.1z"/><path class="c10" d="M1088.5 1086L1108.5 1086.8L1115 1067.4L1094.9 1066.7z"/><path class="c2" d="M768.7 1178.2L788.7 1179.8L795.2 1163.2L775.1 1161.9z"/><path class="c0" d="M655.4 1200.5L675.5 1202.7L681.9 1187.1L661.9 1185z"/><path class="c5" d="M882 1150.8L902 1151.9L908.5 1134.1L888.4 1133.2z"/><path class="c9" d="M1041.8 1103.1L1061.9 1104.2L1068.4 1085.1L1048.3 1084.2z"/><path class="c15" d="M1248.3 1030.8L1268.4 1031.1L1274.9 1010.6L1254.8 1010.4z"/><path class="c1" d="M722.1 1190.9L742.1 1192.8L748.6 1176.6L728.5 1175.1z"/><path class="c7" d="M995.2 1119.7L1015.3 1120.8L1021.8 1102.1L1001.7 1101.1z"/><path class="c3" d="M835.4 1165.7L855.4 1167L861.9 1149.6L841.8 1148.6z"/><path class="c14" d="M1201.7 1050.1L1221.8 1050.6L1228.3 1030.4L1208.2 1030.1z"/><path class="c12" d="M1155.1 1068.8L1175.2 1069.4L1181.7 1049.6L1161.6 1049.1z"/><path class="c6" d="M948.6 1136.1L968.7 1137.2L975.2 1118.8L955.1 1117.9z"/><path class="c2" d="M788.7 1179.8L808.8 1181.3L815.3 1164.5L795.2 1163.2z"/><path class="c10" d="M1108.5 1086.8L1128.6 1087.6L1135.1 1068.1L1115 1067.4z"/><path class="c0" d="M675.5 1202.7L695.5 1204.8L702 1189.1L681.9 1187.1z"/><path class="c5" d="M902 1151.9L922.1 1153.1L928.6 1135.1L908.5 1134.1z"/><path class="c9" d="M1061.9 1104.2L1082 1105.2L1088.5 1086L1068.4 1085.1z"/><path class="c1" d="M742.1 1192.8L762.2 1194.6L768.7 1178.2L748.6 1176.6z"/><path class="c8" d="M1015.3 1120.8L1035.4 1122L1041.8 1103.1L1021.8 1102.1z"/><path class="c16" d="M1268.4 1031.1L1288.5 1031.5L1295 1010.8L1274.9 1010.6z"/><path class="c3" d="M855.4 1167L875.5 1168.3L882 1150.8L861.9 1149.6z"/><path class="c14" d="M1221.8 1050.6L1241.9 1051.1L1248.3 1030.8L1228.3 1030.4z"/><path class="c12" d="M1175.2 1069.4L1195.3 1070.1L1201.7 1050.1L1181.7 1049.6z"/><path class="c6" d="M968.7 1137.2L988.8 1138.3L995.2 1119.7L975.2 1118.8z"/><path class="c2" d="M808.8 1181.3L828.9 1182.8L835.4 1165.7L815.3 1164.5z"/><path class="c11" d="M1128.6 1087.6L1148.7 1088.5L1155.1 1068.8L1135.1 1068.1z"/><path class="c0" d="M695.5 1204.8L715.6 1206.8L722.1 1190.9L702 1189.1z"/><path class="c5" d="M922.1 1153.1L942.2 1154.3L948.6 1136.1L928.6 1135.1z"/><path class="c9" d="M1082 1105.2L1102.1 1106.2L1108.5 1086.8L1088.5 1086z"/><path class="c1" d="M762.2 1194.6L782.3 1196.4L788.7 1179.8L768.7 1178.2z"/><path class="c8" d="M1035.4 1122L1055.5 1123.2L1061.9 1104.2L1041.8 1103.1z"/><path class="c3" d="M875.5 1168.3L895.6 1169.7L902 1151.9L882 1150.8z"/><path class="c14" d="M1241.9 1051.1L1262 1051.6L1268.4 1031.1L1248.3 1030.8z"/><path class="c6" d="M988.8 1138.3L1008.9 1139.6L1015.3 1120.8L995.2 1119.7z"/><path class="c12" d="M1195.3 1070.1L1215.4 1070.8L1221.8 1050.6L1201.7 1050.1z"/><path class="c2" d="M828.9 1182.8L849 1184.3L855.4 1167L835.4 1165.7z"/><path class="c0" d="M715.6 1206.8L735.7 1208.9L742.1 1192.8L722.1 1190.9z"/><path class="c11" d="M1148.7 1088.5L1168.7 1089.3L1175.2 1069.4L1155.1 1068.8z"/><path class="c5" d="M942.2 1154.3L962.3 1155.6L968.7 1137.2L948.6 1136.1z"/><path class="c9" d="M1102.1 1106.2L1122.1 1107.2L1128.6 1087.6L1108.5 1086.8z"/><path class="c1" d="M782.3 1196.4L802.4 1198.1L808.8 1181.3L788.7 1179.8z"/><path class="c8" d="M1055.5 1123.2L1075.5 1124.4L1082 1105.2L1061.9 1104.2z"/><path class="c4" d="M895.6 1169.7L915.6 1171.1L922.1 1153.1L902 1151.9z"/><path class="c14" d="M1262 1051.6L1282 1052.2L1288.5 1031.5L1268.4 1031.1z"/><path class="c6" d="M1008.9 1139.6L1028.9 1141L1035.4 1122L1015.3 1120.8z"/><path class="c13" d="M1215.4 1070.8L1235.4 1071.5L1241.9 1051.1L1221.8 1050.6z"/><path class="c2" d="M849 1184.3L869 1185.9L875.5 1168.3L855.4 1167z"/><path class="c0" d="M735.7 1208.9L755.8 1210.9L762.2 1194.6L742.1 1192.8z"/><path class="c11" d="M1168.7 1089.3L1188.8 1090.1L1195.3 1070.1L1175.2 1069.4z"/><path class="c5" d="M962.3 1155.6L982.3 1156.9L988.8 1138.3L968.7 1137.2z"/><path class="c9" d="M1122.1 1107.2L1142.2 1108.2L1148.7 1088.5L1128.6 1087.6z"/><path class="c1" d="M802.4 1198.1L822.4 1199.9L828.9 1182.8L808.8 1181.3z"/><path class="c4" d="M915.6 1171.1L935.7 1172.5L942.2 1154.3L922.1 1153.1z"/><path class="c8" d="M1075.5 1124.4L1095.6 1125.6L1102.1 1106.2L1082 1105.2z"/><path class="c6" d="M1028.9 1141L1049 1142.3L1055.5 1123.2L1035.4 1122z"/><path class="c0" d="M755.8 1210.9L775.8 1212.9L782.3 1196.4L762.2 1194.6z"/><path class="c2" d="M869 1185.9L889.1 1187.5L895.6 1169.7L875.5 1168.3z"/><path class="c13" d="M1235.4 1071.5L1255.5 1072.1L1262 1051.6L1241.9 1051.1z"/><path class="c11" d="M1188.8 1090.1L1208.9 1091L1215.4 1070.8L1195.3 1070.1z"/><path class="c5" d="M982.3 1156.9L1002.4 1158.4L1008.9 1139.6L988.8 1138.3z"/><path class="c10" d="M1142.2 1108.2L1162.3 1109.2L1168.7 1089.3L1148.7 1088.5z"/><path class="c1" d="M822.4 1199.9L842.5 1201.7L849 1184.3L828.9 1182.8z"/><path class="c4" d="M935.7 1172.5L955.8 1174L962.3 1155.6L942.2 1154.3z"/><path class="c8" d="M1095.6 1125.6L1115.7 1126.7L1122.1 1107.2L1102.1 1106.2z"/><path class="c7" d="M1049 1142.3L1069.1 1143.6L1075.5 1124.4L1055.5 1123.2z"/><path class="c0" d="M775.8 1212.9L795.9 1215L802.4 1198.1L782.3 1196.4z"/><path class="c3" d="M889.1 1187.5L909.2 1189.1L915.6 1171.1L895.6 1169.7z"/><path class="c13" d="M1255.5 1072.1L1275.6 1072.8L1282 1052.2L1262 1051.6z"/><path class="c11" d="M1208.9 1091L1229 1091.8L1235.4 1071.5L1215.4 1070.8z"/><path class="c5" d="M1002.4 1158.4L1022.5 1159.9L1028.9 1141L1008.9 1139.6z"/><path class="c10" d="M1162.3 1109.2L1182.4 1110.2L1188.8 1090.1L1168.7 1089.3z"/><path class="c1" d="M842.5 1201.7L862.6 1203.5L869 1185.9L849 1184.3z"/><path class="c4" d="M955.8 1174L975.9 1175.5L982.3 1156.9L962.3 1155.6z"/><path class="c8" d="M1115.7 1126.7L1135.8 1127.9L1142.2 1108.2L1122.1 1107.2z"/><path class="c0" d="M795.9 1215L816 1217L822.4 1199.9L802.4 1198.1z"/><path class="c7" d="M1069.1 1143.6L1089.1 1145L1095.6 1125.6L1075.5 1124.4z"/><path class="c3" d="M909.2 1189.1L929.3 1190.8L935.7 1172.5L915.6 1171.1z"/><path class="c5" d="M1022.5 1159.9L1042.5 1161.4L1049 1142.3L1028.9 1141z"/><path class="c11" d="M1229 1091.8L1249 1092.6L1255.5 1072.1L1235.4 1071.5z"/><path class="c1" d="M862.6 1203.5L882.7 1205.3L889.1 1187.5L869 1185.9z"/><path class="c10" d="M1182.4 1110.2L1202.4 1111.2L1208.9 1091L1188.8 1090.1z"/><path class="c4" d="M975.9 1175.5L995.9 1177.1L1002.4 1158.4L982.3 1156.9z"/><path class="c8" d="M1135.8 1127.9L1155.8 1129L1162.3 1109.2L1142.2 1108.2z"/><path class="c0" d="M816 1217L836 1219L842.5 1201.7L822.4 1199.9z"/><path class="c7" d="M1089.1 1145L1109.2 1146.3L1115.7 1126.7L1095.6 1125.6z"/><path class="c3" d="M929.3 1190.8L949.3 1192.4L955.8 1174L935.7 1172.5z"/><path class="c5" d="M1042.5 1161.4L1062.6 1162.9L1069.1 1143.6L1049 1142.3z"/><path class="c12" d="M1249 1092.6L1269.1 1093.5L1275.6 1072.8L1255.5 1072.1z"/><path class="c1" d="M882.7 1205.3L902.7 1207.1L909.2 1189.1L889.1 1187.5z"/><path class="c10" d="M1202.4 1111.2L1222.5 1112.2L1229 1091.8L1208.9 1091z"/><path class="c4" d="M995.9 1177.1L1016 1178.8L1022.5 1159.9L1002.4 1158.4z"/><path class="c8" d="M1155.8 1129L1175.9 1130.2L1182.4 1110.2L1162.3 1109.2z"/><path class="c0" d="M836 1219L856.1 1221L862.6 1203.5L842.5 1201.7z"/><path class="c7" d="M1109.2 1146.3L1129.3 1147.6L1135.8 1127.9L1115.7 1126.7z"/><path class="c3" d="M949.3 1192.4L969.4 1194.1L975.9 1175.5L955.8 1174z"/><path class="c5" d="M1062.6 1162.9L1082.7 1164.3L1089.1 1145L1069.1 1143.6z"/><path class="c1" d="M902.7 1207.1L922.8 1209L929.3 1190.8L909.2 1189.1z"/><path class="c10" d="M1222.5 1112.2L1242.6 1113.1L1249 1092.6L1229 1091.8z"/><path class="c4" d="M1016 1178.8L1036.1 1180.5L1042.5 1161.4L1022.5 1159.9z"/><path class="c8" d="M1175.9 1130.2L1196 1131.3L1202.4 1111.2L1182.4 1110.2z"/><path class="c0" d="M856.1 1221L876.2 1223.1L882.7 1205.3L862.6 1203.5z"/><path class="c3" d="M969.4 1194.1L989.5 1195.9L995.9 1177.1L975.9 1175.5z"/><path class="c7" d="M1129.3 1147.6L1149.4 1148.9L1155.8 1129L1135.8 1127.9z"/><path class="c6" d="M1082.7 1164.3L1102.8 1165.8L1109.2 1146.3L1089.1 1145z"/><path class="c2" d="M922.8 1209L942.9 1210.8L949.3 1192.4L929.3 1190.8z"/><path class="c10" d="M1242.6 1113.1L1262.7 1114.1L1269.1 1093.5L1249 1092.6z"/><path class="c4" d="M1036.1 1180.5L1056.2 1182.1L1062.6 1162.9L1042.5 1161.4z"/><path class="c9" d="M1196 1131.3L1216 1132.5L1222.5 1112.2L1202.4 1111.2z"/><path class="c0" d="M876.2 1223.1L896.3 1225.1L902.7 1207.1L882.7 1205.3z"/><path class="c3" d="M989.5 1195.9L1009.5 1197.7L1016 1178.8L995.9 1177.1z"/><path class="c7" d="M1149.4 1148.9L1169.4 1150.2L1175.9 1130.2L1155.8 1129z"/><path class="c6" d="M1102.8 1165.8L1122.8 1167.3L1129.3 1147.6L1109.2 1146.3z"/><path class="c2" d="M942.9 1210.8L962.9 1212.7L969.4 1194.1L949.3 1192.4z"/><path class="c4" d="M1056.2 1182.1L1076.2 1183.7L1082.7 1164.3L1062.6 1162.9z"/><path class="c9" d="M1216 1132.5L1236.1 1133.6L1242.6 1113.1L1222.5 1112.2z"/><path class="c0" d="M896.3 1225.1L916.3 1227.2L922.8 1209L902.7 1207.1z"/><path class="c3" d="M1009.5 1197.7L1029.6 1199.5L1036.1 1180.5L1016 1178.8z"/><path class="c7" d="M1169.4 1150.2L1189.5 1151.5L1196 1131.3L1175.9 1130.2z"/><path class="c6" d="M1122.8 1167.3L1142.9 1168.8L1149.4 1148.9L1129.3 1147.6z"/><path class="c2" d="M962.9 1212.7L983 1214.7L989.5 1195.9L969.4 1194.1z"/><path class="c4" d="M1076.2 1183.7L1096.3 1185.4L1102.8 1165.8L1082.7 1164.3z"/><path class="c0" d="M916.3 1227.2L936.4 1229.3L942.9 1210.8L922.8 1209z"/><path class="c9" d="M1236.1 1133.6L1256.2 1134.8L1262.7 1114.1L1242.6 1113.1z"/><path class="c3" d="M1029.6 1199.5L1049.7 1201.3L1056.2 1182.1L1036.1 1180.5z"/><path class="c7" d="M1189.5 1151.5L1209.6 1152.8L1216 1132.5L1196 1131.3z"/><path class="c6" d="M1142.9 1168.8L1163 1170.2L1169.4 1150.2L1149.4 1148.9z"/><path class="c2" d="M983 1214.7L1003.1 1216.6L1009.5 1197.7L989.5 1195.9z"/><path class="c4" d="M1096.3 1185.4L1116.4 1187L1122.8 1167.3L1102.8 1165.8z"/><path class="c0" d="M936.4 1229.3L956.5 1231.3L962.9 1212.7L942.9 1210.8z"/><path class="c3" d="M1049.7 1201.3L1069.8 1203.1L1076.2 1183.7L1056.2 1182.1z"/><path class="c7" d="M1209.6 1152.8L1229.7 1154.1L1236.1 1133.6L1216 1132.5z"/><path class="c6" d="M1163 1170.2L1183.1 1171.7L1189.5 1151.5L1169.4 1150.2z"/><path class="c2" d="M1003.1 1216.6L1023.2 1218.6L1029.6 1199.5L1009.5 1197.7z"/><path class="c4" d="M1116.4 1187L1136.4 1188.6L1142.9 1168.8L1122.8 1167.3z"/><path class="c0" d="M956.5 1231.3L976.6 1233.4L983 1214.7L962.9 1212.7z"/><path class="c3" d="M1069.8 1203.1L1089.8 1204.9L1096.3 1185.4L1076.2 1183.7z"/><path class="c8" d="M1229.7 1154.1L1249.7 1155.5L1256.2 1134.8L1236.1 1133.6z"/><path class="c2" d="M1023.2 1218.6L1043.2 1220.6L1049.7 1201.3L1029.6 1199.5z"/><path class="c6" d="M1183.1 1171.7L1203.1 1173.2L1209.6 1152.8L1189.5 1151.5z"/><path class="c5" d="M1136.4 1188.6L1156.5 1190.3L1163 1170.2L1142.9 1168.8z"/><path class="c1" d="M976.6 1233.4L996.6 1235.6L1003.1 1216.6L983 1214.7z"/><path class="c3" d="M1089.8 1204.9L1109.9 1206.7L1116.4 1187L1096.3 1185.4z"/><path class="c2" d="M1043.2 1220.6L1063.3 1222.5L1069.8 1203.1L1049.7 1201.3z"/><path class="c6" d="M1203.1 1173.2L1223.2 1174.6L1229.7 1154.1L1209.6 1152.8z"/><path class="c5" d="M1156.5 1190.3L1176.6 1191.9L1183.1 1171.7L1163 1170.2z"/><path class="c1" d="M996.6 1235.6L1016.7 1237.7L1023.2 1218.6L1003.1 1216.6z"/><path class="c3" d="M1109.9 1206.7L1130 1208.5L1136.4 1188.6L1116.4 1187z"/><path class="c2" d="M1063.3 1222.5L1083.4 1224.5L1089.8 1204.9L1069.8 1203.1z"/><path class="c6" d="M1223.2 1174.6L1243.3 1176.1L1249.7 1155.5L1229.7 1154.1z"/><path class="c5" d="M1176.6 1191.9L1196.7 1193.5L1203.1 1173.2L1183.1 1171.7z"/><path class="c1" d="M1016.7 1237.7L1036.8 1239.8L1043.2 1220.6L1023.2 1218.6z"/><path class="c3" d="M1130 1208.5L1150.1 1210.3L1156.5 1190.3L1136.4 1188.6z"/><path class="c2" d="M1083.4 1224.5L1103.5 1226.4L1109.9 1206.7L1089.8 1204.9z"/><path class="c5" d="M1196.7 1193.5L1216.7 1195.2L1223.2 1174.6L1203.1 1173.2z"/><path class="c1" d="M1036.8 1239.8L1056.8 1241.9L1063.3 1222.5L1043.2 1220.6z"/><path class="c3" d="M1150.1 1210.3L1170.1 1212.1L1176.6 1191.9L1156.5 1190.3z"/><path class="c2" d="M1103.5 1226.4L1123.5 1228.4L1130 1208.5L1109.9 1206.7z"/><path class="c1" d="M1056.8 1241.9L1076.9 1244L1083.4 1224.5L1063.3 1222.5z"/><path class="c5" d="M1216.7 1195.2L1236.8 1196.8L1243.3 1176.1L1223.2 1174.6z"/><path class="c3" d="M1170.1 1212.1L1190.2 1213.9L1196.7 1193.5L1176.6 1191.9z"/><path class="c2" d="M1123.5 1228.4L1143.6 1230.3L1150.1 1210.3L1130 1208.5z"/><path class="c1" d="M1076.9 1244L1097 1246.1L1103.5 1226.4L1083.4 1224.5z"/><path class="c3" d="M1190.2 1213.9L1210.3 1215.7L1216.7 1195.2L1196.7 1193.5z"/><path class="c2" d="M1143.6 1230.3L1163.7 1232.3L1170.1 1212.1L1150.1 1210.3z"/><path class="c1" d="M1097 1246.1L1117.1 1248.2L1123.5 1228.4L1103.5 1226.4z"/><path class="c3" d="M1210.3 1215.7L1230.4 1217.4L1236.8 1196.8L1216.7 1195.2z"/><path class="c2" d="M1163.7 1232.3L1183.7 1234.2L1190.2 1213.9L1170.1 1212.1z"/><path class="c1" d="M1117.1 1248.2L1137.1 1250.3L1143.6 1230.3L1123.5 1228.4z"/><path class="c2" d="M1183.7 1234.2L1203.8 1236.2L1210.3 1215.7L1190.2 1213.9z"/><path class="c1" d="M1137.1 1250.3L1157.2 1252.4L1163.7 1232.3L1143.6 1230.3z"/><path class="c2" d="M1203.8 1236.2L1223.9 1238.1L1230.4 1217.4L1210.3 1215.7z"/><path class="c1" d="M1157.2 1252.4L1177.3 1254.5L1183.7 1234.2L1163.7 1232.3z"/><path class="c1" d="M1177.3 1254.5L1197.4 1256.7L1203.8 1236.2L1183.7 1234.2z"/><path class="c1" d="M1197.4 1256.7L1217.4 1258.8L1223.9 1238.1L1203.8 1236.2z"/></g>
<polyline class="red" points="789.7,189.3 438.1,1173.3"/>
<polyline class="red" points="1209.1,384.5 1149.6,558.7 1448.2,521.5"/>
<g id="A"><line class="a" x1="227.4" y1="1168.3" x2="227.4" y2="397"/><line class="a" x1="227.4" y1="1168.3" x2="1248.8" y2="1283.7"/><line class="a" x1="1248.8" y1="1283.7" x2="1571.8" y2="920.2"/><line class="a" x1="227.4" y1="1168.3" x2="200.5" y2="1165.3"/><line class="a" x1="227.4" y1="1014" x2="200.5" y2="1011"/><line class="a" x1="227.4" y1="859.8" x2="200.5" y2="856.8"/><line class="a" x1="227.4" y1="705.5" x2="200.5" y2="702.5"/><line class="a" x1="227.4" y1="551.3" x2="200.5" y2="548.3"/><line class="a" x1="227.4" y1="397" x2="200.5" y2="394"/><line class="a" x1="303.1" y1="1176.8" x2="286.5" y2="1195.5"/><line class="a" x1="454.4" y1="1193.9" x2="437.8" y2="1212.6"/><line class="a" x1="605.7" y1="1211" x2="589.1" y2="1229.7"/><line class="a" x1="757" y1="1228.1" x2="740.4" y2="1246.8"/><line class="a" x1="908.3" y1="1245.2" x2="891.7" y2="1263.9"/><line class="a" x1="1059.7" y1="1262.3" x2="1043.1" y2="1281"/><line class="a" x1="1211" y1="1279.4" x2="1194.4" y2="1298.1"/><line class="a" x1="1248.8" y1="1283.7" x2="1274.1" y2="1286.6"/><line class="a" x1="1410.3" y1="1102" x2="1435.6" y2="1104.9"/><line class="a" x1="1571.8" y1="920.2" x2="1597.1" y2="923.1"/></g>
<g id="T"><text class="tl" text-anchor="end" x="181.5" y="1183.3">0</text><text class="tl" text-anchor="end" x="181.5" y="1029">50</text><text class="tl" text-anchor="end" x="181.5" y="874.8">100</text><text class="tl" text-anchor="end" x="181.5" y="720.5">150</text><text class="tl" text-anchor="end" x="181.5" y="566.3">200</text><text class="tl" text-anchor="end" x="181.5" y="412">250</text><text class="tl" text-anchor="end" x="272.1" y="1261.1">600</text><text class="tl" text-anchor="end" x="423.4" y="1278.2">800</text><text class="tl" text-anchor="end" x="574.7" y="1295.3">1000</text><text class="tl" text-anchor="end" x="726" y="1312.4">1200</text><text class="tl" text-anchor="end" x="877.3" y="1329.5">1400</text><text class="tl" text-anchor="end" x="1028.7" y="1346.6">1600</text><text class="tl" text-anchor="end" x="1180" y="1363.7">1800</text><text class="tl" x="1293.8" y="1338.2">0</text><text class="tl" x="1455.3" y="1156.5">50</text><text class="tl" x="1616.8" y="974.7">100</text></g>
<g id="CB"><rect x="1709.2" y="32.6" width="76.6" height="1251.2" fill="url(#pg)" stroke="#262626" stroke-width="2"/><line class="a" x1="1772.8" y1="1177.2" x2="1785.8" y2="1177.2"/><text class="cl" x="1805" y="1195.2">20</text><line class="a" x1="1772.8" y1="1054.8" x2="1785.8" y2="1054.8"/><text class="cl" x="1805" y="1072.8">40</text><line class="a" x1="1772.8" y1="932.5" x2="1785.8" y2="932.5"/><text class="cl" x="1805" y="950.5">60</text><line class="a" x1="1772.8" y1="810.2" x2="1785.8" y2="810.2"/><text class="cl" x="1805" y="828.2">80</text><line class="a" x1="1772.8" y1="687.9" x2="1785.8" y2="687.9"/><text class="cl" x="1805" y="705.9">100</text><line class="a" x1="1772.8" y1="565.5" x2="1785.8" y2="565.5"/><text class="cl" x="1805" y="583.5">120</text><line class="a" x1="1772.8" y1="443.2" x2="1785.8" y2="443.2"/><text class="cl" x="1805" y="461.2">140</text><line class="a" x1="1772.8" y1="320.9" x2="1785.8" y2="320.9"/><text class="cl" x="1805" y="338.9">160</text><line class="a" x1="1772.8" y1="198.6" x2="1785.8" y2="198.6"/><text class="cl" x="1805" y="216.6">180</text><line class="a" x1="1772.8" y1="76.2" x2="1785.8" y2="76.2"/><text class="cl" x="1805" y="94.2">200</text></g>
<text class="lb" transform="translate(73.5,1064.6) rotate(-90)" textLength="562.7" lengthAdjust="spacingAndGlyphs">Carbon Emission(mg/s)</text>
<text class="lb" y="1399.4"><tspan x="600.6" font-style="italic">N</tspan><tspan x="639.1" y="1428.9" font-style="italic" font-size="49">e</tspan><tspan x="659.8" y="1399.4">(rpm)</tspan></text>
<text class="lb" y="1337"><tspan x="1498.5" font-style="italic">r</tspan><tspan x="1523.4" y="1366.5" font-style="italic" font-size="49">ice</tspan><tspan x="1579.5" y="1337">(%)</tspan></text>
</svg>
</body></html>
